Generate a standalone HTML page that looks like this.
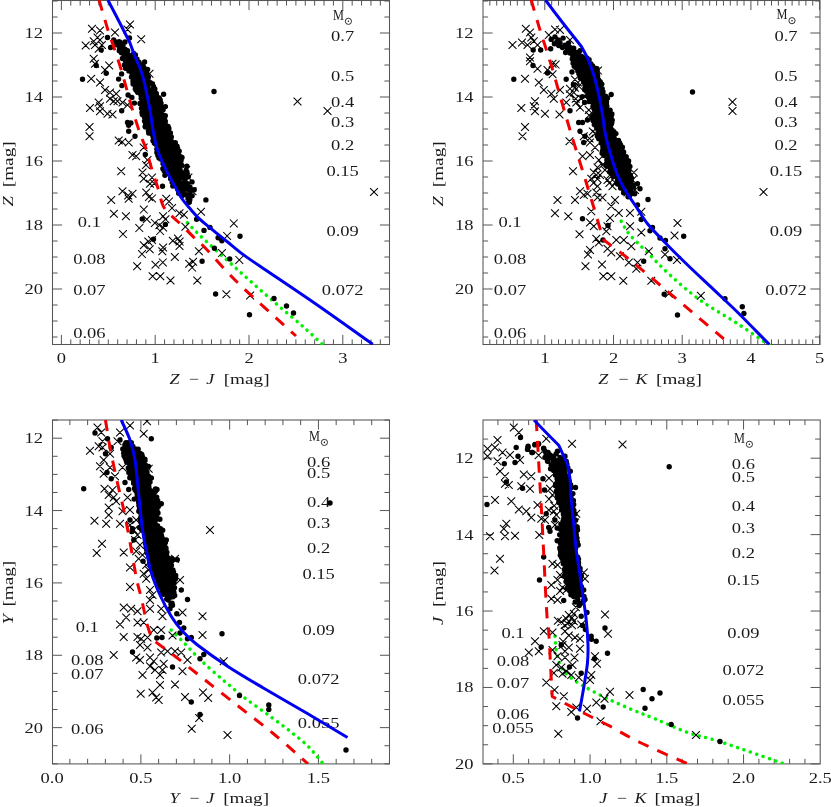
<!DOCTYPE html>
<html><head><meta charset="utf-8"><title>CMD</title><style>html,body{margin:0;padding:0;background:#fff}svg{display:block}</style></head><body>
<svg width="831" height="807" viewBox="0 0 831 807" font-family="'Liberation Serif', serif" fill="#1a1a1a">
<defs><filter id="gs" x="0" y="0" width="100%" height="100%" filterUnits="userSpaceOnUse" color-interpolation-filters="sRGB"><feColorMatrix type="saturate" values="0"/></filter></defs>
<rect width="831" height="807" fill="#fff"/>
<g>
<clipPath id="c0"><rect x="52.50" y="0.50" width="337.00" height="344.00"/></clipPath>
<path d="M61.40 344.50v-9.60M61.40 0.50v9.60M70.78 344.50v-5.10M70.78 0.50v5.10M80.16 344.50v-5.10M80.16 0.50v5.10M89.54 344.50v-5.10M89.54 0.50v5.10M98.92 344.50v-5.10M98.92 0.50v5.10M108.30 344.50v-5.10M108.30 0.50v5.10M117.68 344.50v-5.10M117.68 0.50v5.10M127.06 344.50v-5.10M127.06 0.50v5.10M136.44 344.50v-5.10M136.44 0.50v5.10M145.82 344.50v-5.10M145.82 0.50v5.10M155.20 344.50v-9.60M155.20 0.50v9.60M164.58 344.50v-5.10M164.58 0.50v5.10M173.96 344.50v-5.10M173.96 0.50v5.10M183.34 344.50v-5.10M183.34 0.50v5.10M192.72 344.50v-5.10M192.72 0.50v5.10M202.10 344.50v-5.10M202.10 0.50v5.10M211.48 344.50v-5.10M211.48 0.50v5.10M220.86 344.50v-5.10M220.86 0.50v5.10M230.24 344.50v-5.10M230.24 0.50v5.10M239.62 344.50v-5.10M239.62 0.50v5.10M249.00 344.50v-9.60M249.00 0.50v9.60M258.38 344.50v-5.10M258.38 0.50v5.10M267.76 344.50v-5.10M267.76 0.50v5.10M277.14 344.50v-5.10M277.14 0.50v5.10M286.52 344.50v-5.10M286.52 0.50v5.10M295.90 344.50v-5.10M295.90 0.50v5.10M305.28 344.50v-5.10M305.28 0.50v5.10M314.66 344.50v-5.10M314.66 0.50v5.10M324.04 344.50v-5.10M324.04 0.50v5.10M333.42 344.50v-5.10M333.42 0.50v5.10M342.80 344.50v-9.60M342.80 0.50v9.60M352.18 344.50v-5.10M352.18 0.50v5.10M361.56 344.50v-5.10M361.56 0.50v5.10M370.94 344.50v-5.10M370.94 0.50v5.10M380.32 344.50v-5.10M380.32 0.50v5.10M52.50 1.00h5.10M389.50 1.00h-5.10M52.50 17.00h5.10M389.50 17.00h-5.10M52.50 33.00h9.60M389.50 33.00h-9.60M52.50 49.00h5.10M389.50 49.00h-5.10M52.50 65.00h5.10M389.50 65.00h-5.10M52.50 81.00h5.10M389.50 81.00h-5.10M52.50 97.00h9.60M389.50 97.00h-9.60M52.50 113.00h5.10M389.50 113.00h-5.10M52.50 129.00h5.10M389.50 129.00h-5.10M52.50 145.00h5.10M389.50 145.00h-5.10M52.50 161.00h9.60M389.50 161.00h-9.60M52.50 177.00h5.10M389.50 177.00h-5.10M52.50 193.00h5.10M389.50 193.00h-5.10M52.50 209.00h5.10M389.50 209.00h-5.10M52.50 225.00h9.60M389.50 225.00h-9.60M52.50 241.00h5.10M389.50 241.00h-5.10M52.50 257.00h5.10M389.50 257.00h-5.10M52.50 273.00h5.10M389.50 273.00h-5.10M52.50 289.00h9.60M389.50 289.00h-9.60M52.50 305.00h5.10M389.50 305.00h-5.10M52.50 321.00h5.10M389.50 321.00h-5.10M52.50 337.00h5.10M389.50 337.00h-5.10" stroke="#555" stroke-width="1" fill="none"/>
<rect x="52.50" y="0.50" width="337.00" height="344.00" fill="none" stroke="#555" stroke-width="1.05"/>
<g filter="url(#gs)">
<text transform="translate(61.40 363.30) scale(1.235 1)" text-anchor="middle" font-size="15" >0</text>
<text transform="translate(155.20 363.30) scale(1.235 1)" text-anchor="middle" font-size="15" >1</text>
<text transform="translate(249.00 363.30) scale(1.235 1)" text-anchor="middle" font-size="15" >2</text>
<text transform="translate(342.80 363.30) scale(1.235 1)" text-anchor="middle" font-size="15" >3</text>
<text transform="translate(43.10 38.00) scale(1.235 1)" text-anchor="end" font-size="15" >12</text>
<text transform="translate(43.10 102.00) scale(1.235 1)" text-anchor="end" font-size="15" >14</text>
<text transform="translate(43.10 166.00) scale(1.235 1)" text-anchor="end" font-size="15" >16</text>
<text transform="translate(43.10 230.00) scale(1.235 1)" text-anchor="end" font-size="15" >18</text>
<text transform="translate(43.10 294.00) scale(1.235 1)" text-anchor="end" font-size="15" >20</text>
<text transform="translate(342.60 40.50) scale(1.235 1)" text-anchor="middle" font-size="15" >0.7</text>
<text transform="translate(342.60 81.00) scale(1.235 1)" text-anchor="middle" font-size="15" >0.5</text>
<text transform="translate(342.60 107.00) scale(1.235 1)" text-anchor="middle" font-size="15" >0.4</text>
<text transform="translate(342.60 127.30) scale(1.235 1)" text-anchor="middle" font-size="15" >0.3</text>
<text transform="translate(342.60 150.00) scale(1.235 1)" text-anchor="middle" font-size="15" >0.2</text>
<text transform="translate(342.60 176.00) scale(1.235 1)" text-anchor="middle" font-size="15" >0.15</text>
<text transform="translate(342.60 236.00) scale(1.235 1)" text-anchor="middle" font-size="15" >0.09</text>
<text transform="translate(342.60 295.00) scale(1.235 1)" text-anchor="middle" font-size="15" >0.072</text>
<text transform="translate(89.40 226.50) scale(1.235 1)" text-anchor="middle" font-size="15" >0.1</text>
<text transform="translate(89.40 263.60) scale(1.235 1)" text-anchor="middle" font-size="15" >0.08</text>
<text transform="translate(89.40 294.50) scale(1.235 1)" text-anchor="middle" font-size="15" >0.07</text>
<text transform="translate(89.40 337.50) scale(1.235 1)" text-anchor="middle" font-size="15" >0.06</text>
<text transform="translate(333.00 19.50) scale(0.8 1)" font-size="15.4">M</text>
<circle cx="348.40" cy="21.30" r="3.1" fill="none" stroke="#1a1a1a" stroke-width="0.9"/>
<circle cx="348.40" cy="21.30" r="0.8" fill="#1a1a1a"/>
<text transform="translate(169.5 384.0) scale(1.2 1)" font-size="15" font-style="italic">Z</text><text transform="translate(188.7 384.0) scale(1.2 1)" font-size="15">&#8722;</text><text transform="translate(206.3 384.0) scale(1.2 1)" font-size="15" font-style="italic">J</text><text transform="translate(223.7 384.0) scale(1.28 1)" font-size="15">[mag]</text>
<text transform="translate(13.0 206.5) rotate(-90) scale(1.2 1)" font-size="15.5" font-style="italic">Z</text><text transform="translate(13.0 187.2) rotate(-90) scale(1.28 1)" font-size="15">[mag]</text>
</g>
<g clip-path="url(#c0)">
<path d="M187.3 222.7 C189.4 224.8 193.6 229.4 200.0 235.5 C206.4 241.6 217.3 251.4 226.0 259.2 C234.7 267.0 243.2 274.8 251.9 282.5 C260.6 290.2 269.2 297.7 277.9 305.2 C286.6 312.7 296.5 320.8 303.9 327.3 C311.3 333.9 319.4 341.6 322.5 344.5" fill="none" stroke="#00f000" stroke-width="3.5" stroke-linejoin="round" stroke-linecap="round" stroke-dasharray="0.1 6.6"/>
<path d="M88.1 24.9l7.8 7.8M88.1 32.6l7.8 -7.8M96.1 26.6l7.8 7.8M96.1 34.4l7.8 -7.8M126.1 20.6l7.8 7.8M126.1 28.4l7.8 -7.8M123.6 25.6l7.8 7.8M123.6 33.4l7.8 -7.8M111.1 28.6l7.8 7.8M111.1 36.4l7.8 -7.8M137.3 35.4l7.8 7.8M137.3 43.1l7.8 -7.8M93.6 33.6l7.8 7.8M93.6 41.4l7.8 -7.8M89.8 37.4l7.8 7.8M89.8 45.1l7.8 -7.8M81.8 41.6l7.8 7.8M81.8 49.4l7.8 -7.8M91.1 41.1l7.8 7.8M91.1 48.9l7.8 -7.8M94.8 44.9l7.8 7.8M94.8 52.6l7.8 -7.8M89.8 54.9l7.8 7.8M89.8 62.6l7.8 -7.8M91.1 59.9l7.8 7.8M91.1 67.7l7.8 -7.8M105.3 61.6l7.8 7.8M105.3 69.4l7.8 -7.8M101.1 66.1l7.8 7.8M101.1 73.9l7.8 -7.8M87.3 74.8l7.8 7.8M87.3 82.7l7.8 -7.8M96.1 78.6l7.8 7.8M96.1 86.4l7.8 -7.8M101.1 86.1l7.8 7.8M101.1 93.9l7.8 -7.8M106.1 88.6l7.8 7.8M106.1 96.4l7.8 -7.8M112.3 89.8l7.8 7.8M112.3 97.7l7.8 -7.8M106.1 94.8l7.8 7.8M106.1 102.7l7.8 -7.8M109.8 97.3l7.8 7.8M109.8 105.2l7.8 -7.8M113.6 97.3l7.8 7.8M113.6 105.2l7.8 -7.8M94.8 98.6l7.8 7.8M94.8 106.4l7.8 -7.8M86.1 104.1l7.8 7.8M86.1 111.9l7.8 -7.8M96.1 102.3l7.8 7.8M96.1 110.2l7.8 -7.8M96.1 107.3l7.8 7.8M96.1 115.2l7.8 -7.8M103.6 109.8l7.8 7.8M103.6 117.7l7.8 -7.8M108.6 110.6l7.8 7.8M108.6 118.4l7.8 -7.8M145.6 69.8l7.8 7.8M145.6 77.7l7.8 -7.8M85.6 123.1l7.8 7.8M85.6 130.9l7.8 -7.8M85.6 132.3l7.8 7.8M85.6 140.2l7.8 -7.8M114.8 136.6l7.8 7.8M114.8 144.4l7.8 -7.8M124.8 138.6l7.8 7.8M124.8 146.4l7.8 -7.8M128.6 151.1l7.8 7.8M128.6 158.9l7.8 -7.8M132.3 152.3l7.8 7.8M132.3 160.2l7.8 -7.8M139.8 143.6l7.8 7.8M139.8 151.4l7.8 -7.8M143.6 156.1l7.8 7.8M143.6 163.9l7.8 -7.8M117.3 167.3l7.8 7.8M117.3 175.2l7.8 -7.8M138.6 168.6l7.8 7.8M138.6 176.4l7.8 -7.8M139.8 174.8l7.8 7.8M139.8 182.7l7.8 -7.8M146.1 179.8l7.8 7.8M146.1 187.7l7.8 -7.8M118.6 187.3l7.8 7.8M118.6 195.2l7.8 -7.8M128.6 189.8l7.8 7.8M128.6 197.7l7.8 -7.8M142.3 188.6l7.8 7.8M142.3 196.4l7.8 -7.8M124.8 194.8l7.8 7.8M124.8 202.7l7.8 -7.8M107.3 196.1l7.8 7.8M107.3 203.9l7.8 -7.8M162.3 194.8l7.8 7.8M162.3 202.7l7.8 -7.8M188.6 187.3l7.8 7.8M188.6 195.2l7.8 -7.8M118.3 138.0l7.8 7.8M118.3 145.8l7.8 -7.8M142.1 161.0l7.8 7.8M142.1 168.8l7.8 -7.8M148.1 173.7l7.8 7.8M148.1 181.5l7.8 -7.8M150.3 179.6l7.8 7.8M150.3 187.4l7.8 -7.8M124.3 191.5l7.8 7.8M124.3 199.3l7.8 -7.8M145.1 193.0l7.8 7.8M145.1 200.8l7.8 -7.8M148.1 194.5l7.8 7.8M148.1 202.3l7.8 -7.8M165.2 197.5l7.8 7.8M165.2 205.3l7.8 -7.8M139.9 205.7l7.8 7.8M139.9 213.5l7.8 -7.8M122.0 212.3l7.8 7.8M122.0 220.1l7.8 -7.8M168.1 204.2l7.8 7.8M168.1 212.0l7.8 -7.8M175.6 209.4l7.8 7.8M175.6 217.2l7.8 -7.8M180.0 210.9l7.8 7.8M180.0 218.7l7.8 -7.8M197.1 207.9l7.8 7.8M197.1 215.7l7.8 -7.8M229.9 219.5l7.8 7.8M229.9 227.3l7.8 -7.8M159.2 212.3l7.8 7.8M159.2 220.1l7.8 -7.8M161.5 215.3l7.8 7.8M161.5 223.1l7.8 -7.8M142.9 215.3l7.8 7.8M142.9 223.1l7.8 -7.8M151.0 219.0l7.8 7.8M151.0 226.8l7.8 -7.8M155.5 221.3l7.8 7.8M155.5 229.1l7.8 -7.8M159.2 223.5l7.8 7.8M159.2 231.3l7.8 -7.8M135.4 224.2l7.8 7.8M135.4 232.0l7.8 -7.8M156.2 227.2l7.8 7.8M156.2 235.0l7.8 -7.8M181.5 222.8l7.8 7.8M181.5 230.6l7.8 -7.8M119.1 230.2l7.8 7.8M119.1 238.0l7.8 -7.8M223.2 232.0l7.8 7.8M223.2 239.8l7.8 -7.8M174.1 234.7l7.8 7.8M174.1 242.5l7.8 -7.8M168.9 236.9l7.8 7.8M168.9 244.7l7.8 -7.8M148.1 236.1l7.8 7.8M148.1 243.9l7.8 -7.8M144.4 237.6l7.8 7.8M144.4 245.4l7.8 -7.8M139.9 241.3l7.8 7.8M139.9 249.1l7.8 -7.8M175.6 242.1l7.8 7.8M175.6 249.9l7.8 -7.8M159.2 243.6l7.8 7.8M159.2 251.4l7.8 -7.8M184.5 173.7l7.8 7.8M184.5 181.5l7.8 -7.8M182.3 166.2l7.8 7.8M182.3 174.0l7.8 -7.8M145.8 245.4l7.8 7.8M145.8 253.2l7.8 -7.8M138.1 250.2l7.8 7.8M138.1 258.0l7.8 -7.8M175.7 237.7l7.8 7.8M175.7 245.5l7.8 -7.8M158.4 247.3l7.8 7.8M158.4 255.1l7.8 -7.8M170.9 253.1l7.8 7.8M170.9 260.9l7.8 -7.8M195.0 247.3l7.8 7.8M195.0 255.1l7.8 -7.8M133.3 262.3l7.8 7.8M133.3 270.1l7.8 -7.8M151.6 260.8l7.8 7.8M151.6 268.6l7.8 -7.8M158.9 258.5l7.8 7.8M158.9 266.3l7.8 -7.8M185.3 259.8l7.8 7.8M185.3 267.6l7.8 -7.8M189.2 257.9l7.8 7.8M189.2 265.7l7.8 -7.8M188.2 263.7l7.8 7.8M188.2 271.5l7.8 -7.8M148.7 272.3l7.8 7.8M148.7 280.1l7.8 -7.8M156.4 272.3l7.8 7.8M156.4 280.1l7.8 -7.8M166.6 276.6l7.8 7.8M166.6 284.4l7.8 -7.8M193.4 276.6l7.8 7.8M193.4 284.4l7.8 -7.8M222.5 290.3l7.8 7.8M222.5 298.1l7.8 -7.8M218.1 249.2l7.8 7.8M218.1 257.0l7.8 -7.8M235.4 256.0l7.8 7.8M235.4 263.8l7.8 -7.8M246.2 291.6l7.8 7.8M246.2 299.4l7.8 -7.8M96.1 36.1l7.8 7.8M96.1 43.9l7.8 -7.8M98.0 41.1l7.8 7.8M98.0 48.9l7.8 -7.8M118.6 98.6l7.8 7.8M118.6 106.4l7.8 -7.8M123.6 101.1l7.8 7.8M123.6 108.9l7.8 -7.8M293.6 97.6l7.8 7.8M293.6 105.4l7.8 -7.8M323.6 107.1l7.8 7.8M323.6 114.9l7.8 -7.8M370.1 188.1l7.8 7.8M370.1 195.9l7.8 -7.8M110.0 209.8l7.8 7.8M110.0 217.6l7.8 -7.8" stroke="#000" stroke-width="1.05" fill="none"/>
<path d="M79.8 79.2a2.7 2.7 0 1 0 5.4 0a2.7 2.7 0 1 0 -5.4 0M104.8 37.5a2.7 2.7 0 1 0 5.4 0a2.7 2.7 0 1 0 -5.4 0M111.0 40.0a2.7 2.7 0 1 0 5.4 0a2.7 2.7 0 1 0 -5.4 0M98.5 50.0a2.7 2.7 0 1 0 5.4 0a2.7 2.7 0 1 0 -5.4 0M93.5 65.5a2.7 2.7 0 1 0 5.4 0a2.7 2.7 0 1 0 -5.4 0M103.5 73.2a2.7 2.7 0 1 0 5.4 0a2.7 2.7 0 1 0 -5.4 0M119.0 110.8a2.7 2.7 0 1 0 5.4 0a2.7 2.7 0 1 0 -5.4 0M124.8 122.5a2.7 2.7 0 1 0 5.4 0a2.7 2.7 0 1 0 -5.4 0M126.0 131.2a2.7 2.7 0 1 0 5.4 0a2.7 2.7 0 1 0 -5.4 0M132.3 136.2a2.7 2.7 0 1 0 5.4 0a2.7 2.7 0 1 0 -5.4 0M159.8 186.2a2.7 2.7 0 1 0 5.4 0a2.7 2.7 0 1 0 -5.4 0M203.2 199.9a2.7 2.7 0 1 0 5.4 0a2.7 2.7 0 1 0 -5.4 0M139.6 218.9a2.7 2.7 0 1 0 5.4 0a2.7 2.7 0 1 0 -5.4 0M162.7 224.4a2.7 2.7 0 1 0 5.4 0a2.7 2.7 0 1 0 -5.4 0M193.9 219.2a2.7 2.7 0 1 0 5.4 0a2.7 2.7 0 1 0 -5.4 0M201.3 230.4a2.7 2.7 0 1 0 5.4 0a2.7 2.7 0 1 0 -5.4 0M207.3 227.4a2.7 2.7 0 1 0 5.4 0a2.7 2.7 0 1 0 -5.4 0M150.8 239.3a2.7 2.7 0 1 0 5.4 0a2.7 2.7 0 1 0 -5.4 0M215.4 237.8a2.7 2.7 0 1 0 5.4 0a2.7 2.7 0 1 0 -5.4 0M219.2 240.8a2.7 2.7 0 1 0 5.4 0a2.7 2.7 0 1 0 -5.4 0M211.7 248.2a2.7 2.7 0 1 0 5.4 0a2.7 2.7 0 1 0 -5.4 0M237.3 236.3a2.7 2.7 0 1 0 5.4 0a2.7 2.7 0 1 0 -5.4 0M142.6 154.5a2.7 2.7 0 1 0 5.4 0a2.7 2.7 0 1 0 -5.4 0M227.0 258.9a2.7 2.7 0 1 0 5.4 0a2.7 2.7 0 1 0 -5.4 0M199.4 261.2a2.7 2.7 0 1 0 5.4 0a2.7 2.7 0 1 0 -5.4 0M212.9 294.0a2.7 2.7 0 1 0 5.4 0a2.7 2.7 0 1 0 -5.4 0M246.8 314.8a2.7 2.7 0 1 0 5.4 0a2.7 2.7 0 1 0 -5.4 0M107.9 47.5a2.7 2.7 0 1 0 5.4 0a2.7 2.7 0 1 0 -5.4 0M119.2 85.6a2.7 2.7 0 1 0 5.4 0a2.7 2.7 0 1 0 -5.4 0M125.4 95.0a2.7 2.7 0 1 0 5.4 0a2.7 2.7 0 1 0 -5.4 0M129.2 97.5a2.7 2.7 0 1 0 5.4 0a2.7 2.7 0 1 0 -5.4 0M131.7 103.1a2.7 2.7 0 1 0 5.4 0a2.7 2.7 0 1 0 -5.4 0M116.8 43.5a2.7 2.7 0 1 0 5.4 0a2.7 2.7 0 1 0 -5.4 0M122.3 42.0a2.7 2.7 0 1 0 5.4 0a2.7 2.7 0 1 0 -5.4 0M126.8 38.0a2.7 2.7 0 1 0 5.4 0a2.7 2.7 0 1 0 -5.4 0M211.3 91.5a2.7 2.7 0 1 0 5.4 0a2.7 2.7 0 1 0 -5.4 0M271.3 298.5a2.7 2.7 0 1 0 5.4 0a2.7 2.7 0 1 0 -5.4 0M283.8 306.0a2.7 2.7 0 1 0 5.4 0a2.7 2.7 0 1 0 -5.4 0M290.8 313.0a2.7 2.7 0 1 0 5.4 0a2.7 2.7 0 1 0 -5.4 0M160.9 94.2a2.7 2.7 0 1 0 5.4 0a2.7 2.7 0 1 0 -5.4 0M157.5 99.9a2.7 2.7 0 1 0 5.4 0a2.7 2.7 0 1 0 -5.4 0M162.7 106.6a2.7 2.7 0 1 0 5.4 0a2.7 2.7 0 1 0 -5.4 0M141.9 62.0a2.7 2.7 0 1 0 5.4 0a2.7 2.7 0 1 0 -5.4 0M144.9 69.4a2.7 2.7 0 1 0 5.4 0a2.7 2.7 0 1 0 -5.4 0M118.9 73.9a2.7 2.7 0 1 0 5.4 0a2.7 2.7 0 1 0 -5.4 0M115.9 79.1a2.7 2.7 0 1 0 5.4 0a2.7 2.7 0 1 0 -5.4 0M125.9 125.2a2.7 2.7 0 1 0 5.4 0a2.7 2.7 0 1 0 -5.4 0M128.2 122.9a2.7 2.7 0 1 0 5.4 0a2.7 2.7 0 1 0 -5.4 0" fill="#000"/>
<path d="M116.4 41.8a2.7 2.7 0 1 0 5.4 0a2.7 2.7 0 1 0 -5.4 0M117.3 42.1a2.7 2.7 0 1 0 5.4 0a2.7 2.7 0 1 0 -5.4 0M114.0 42.2a2.7 2.7 0 1 0 5.4 0a2.7 2.7 0 1 0 -5.4 0M114.0 44.7a2.7 2.7 0 1 0 5.4 0a2.7 2.7 0 1 0 -5.4 0M117.5 42.7a2.7 2.7 0 1 0 5.4 0a2.7 2.7 0 1 0 -5.4 0M120.3 45.1a2.7 2.7 0 1 0 5.4 0a2.7 2.7 0 1 0 -5.4 0M115.5 44.8a2.7 2.7 0 1 0 5.4 0a2.7 2.7 0 1 0 -5.4 0M116.6 45.2a2.7 2.7 0 1 0 5.4 0a2.7 2.7 0 1 0 -5.4 0M118.2 45.8a2.7 2.7 0 1 0 5.4 0a2.7 2.7 0 1 0 -5.4 0M117.0 48.3a2.7 2.7 0 1 0 5.4 0a2.7 2.7 0 1 0 -5.4 0M118.9 47.3a2.7 2.7 0 1 0 5.4 0a2.7 2.7 0 1 0 -5.4 0M122.3 49.2a2.7 2.7 0 1 0 5.4 0a2.7 2.7 0 1 0 -5.4 0M117.1 48.8a2.7 2.7 0 1 0 5.4 0a2.7 2.7 0 1 0 -5.4 0M120.4 49.6a2.7 2.7 0 1 0 5.4 0a2.7 2.7 0 1 0 -5.4 0M122.6 49.6a2.7 2.7 0 1 0 5.4 0a2.7 2.7 0 1 0 -5.4 0M124.9 50.8a2.7 2.7 0 1 0 5.4 0a2.7 2.7 0 1 0 -5.4 0M116.6 50.7a2.7 2.7 0 1 0 5.4 0a2.7 2.7 0 1 0 -5.4 0M119.2 52.2a2.7 2.7 0 1 0 5.4 0a2.7 2.7 0 1 0 -5.4 0M123.0 51.3a2.7 2.7 0 1 0 5.4 0a2.7 2.7 0 1 0 -5.4 0M123.2 51.5a2.7 2.7 0 1 0 5.4 0a2.7 2.7 0 1 0 -5.4 0M118.7 52.8a2.7 2.7 0 1 0 5.4 0a2.7 2.7 0 1 0 -5.4 0M122.5 53.1a2.7 2.7 0 1 0 5.4 0a2.7 2.7 0 1 0 -5.4 0M123.9 53.8a2.7 2.7 0 1 0 5.4 0a2.7 2.7 0 1 0 -5.4 0M124.9 54.5a2.7 2.7 0 1 0 5.4 0a2.7 2.7 0 1 0 -5.4 0M119.3 53.1a2.7 2.7 0 1 0 5.4 0a2.7 2.7 0 1 0 -5.4 0M131.0 53.4a2.7 2.7 0 1 0 5.4 0a2.7 2.7 0 1 0 -5.4 0M121.6 56.9a2.7 2.7 0 1 0 5.4 0a2.7 2.7 0 1 0 -5.4 0M123.3 55.6a2.7 2.7 0 1 0 5.4 0a2.7 2.7 0 1 0 -5.4 0M127.0 56.3a2.7 2.7 0 1 0 5.4 0a2.7 2.7 0 1 0 -5.4 0M127.0 57.2a2.7 2.7 0 1 0 5.4 0a2.7 2.7 0 1 0 -5.4 0M129.3 55.3a2.7 2.7 0 1 0 5.4 0a2.7 2.7 0 1 0 -5.4 0M132.7 55.0a2.7 2.7 0 1 0 5.4 0a2.7 2.7 0 1 0 -5.4 0M120.7 58.2a2.7 2.7 0 1 0 5.4 0a2.7 2.7 0 1 0 -5.4 0M123.0 57.8a2.7 2.7 0 1 0 5.4 0a2.7 2.7 0 1 0 -5.4 0M126.5 57.9a2.7 2.7 0 1 0 5.4 0a2.7 2.7 0 1 0 -5.4 0M127.5 58.9a2.7 2.7 0 1 0 5.4 0a2.7 2.7 0 1 0 -5.4 0M128.5 57.0a2.7 2.7 0 1 0 5.4 0a2.7 2.7 0 1 0 -5.4 0M132.4 58.7a2.7 2.7 0 1 0 5.4 0a2.7 2.7 0 1 0 -5.4 0M119.7 58.4a2.7 2.7 0 1 0 5.4 0a2.7 2.7 0 1 0 -5.4 0M122.5 60.2a2.7 2.7 0 1 0 5.4 0a2.7 2.7 0 1 0 -5.4 0M123.3 58.9a2.7 2.7 0 1 0 5.4 0a2.7 2.7 0 1 0 -5.4 0M124.3 61.1a2.7 2.7 0 1 0 5.4 0a2.7 2.7 0 1 0 -5.4 0M126.8 60.4a2.7 2.7 0 1 0 5.4 0a2.7 2.7 0 1 0 -5.4 0M128.8 60.7a2.7 2.7 0 1 0 5.4 0a2.7 2.7 0 1 0 -5.4 0M131.7 59.4a2.7 2.7 0 1 0 5.4 0a2.7 2.7 0 1 0 -5.4 0M132.6 60.5a2.7 2.7 0 1 0 5.4 0a2.7 2.7 0 1 0 -5.4 0M134.3 59.2a2.7 2.7 0 1 0 5.4 0a2.7 2.7 0 1 0 -5.4 0M124.1 61.1a2.7 2.7 0 1 0 5.4 0a2.7 2.7 0 1 0 -5.4 0M123.8 61.3a2.7 2.7 0 1 0 5.4 0a2.7 2.7 0 1 0 -5.4 0M126.9 60.8a2.7 2.7 0 1 0 5.4 0a2.7 2.7 0 1 0 -5.4 0M128.2 61.6a2.7 2.7 0 1 0 5.4 0a2.7 2.7 0 1 0 -5.4 0M131.2 60.9a2.7 2.7 0 1 0 5.4 0a2.7 2.7 0 1 0 -5.4 0M132.7 62.9a2.7 2.7 0 1 0 5.4 0a2.7 2.7 0 1 0 -5.4 0M136.3 62.3a2.7 2.7 0 1 0 5.4 0a2.7 2.7 0 1 0 -5.4 0M121.7 65.0a2.7 2.7 0 1 0 5.4 0a2.7 2.7 0 1 0 -5.4 0M125.5 65.1a2.7 2.7 0 1 0 5.4 0a2.7 2.7 0 1 0 -5.4 0M125.7 64.3a2.7 2.7 0 1 0 5.4 0a2.7 2.7 0 1 0 -5.4 0M128.9 64.5a2.7 2.7 0 1 0 5.4 0a2.7 2.7 0 1 0 -5.4 0M130.5 65.2a2.7 2.7 0 1 0 5.4 0a2.7 2.7 0 1 0 -5.4 0M131.8 64.0a2.7 2.7 0 1 0 5.4 0a2.7 2.7 0 1 0 -5.4 0M135.6 64.9a2.7 2.7 0 1 0 5.4 0a2.7 2.7 0 1 0 -5.4 0M137.6 64.4a2.7 2.7 0 1 0 5.4 0a2.7 2.7 0 1 0 -5.4 0M124.9 66.9a2.7 2.7 0 1 0 5.4 0a2.7 2.7 0 1 0 -5.4 0M125.7 66.7a2.7 2.7 0 1 0 5.4 0a2.7 2.7 0 1 0 -5.4 0M128.8 66.1a2.7 2.7 0 1 0 5.4 0a2.7 2.7 0 1 0 -5.4 0M130.2 65.6a2.7 2.7 0 1 0 5.4 0a2.7 2.7 0 1 0 -5.4 0M132.1 66.2a2.7 2.7 0 1 0 5.4 0a2.7 2.7 0 1 0 -5.4 0M132.8 66.3a2.7 2.7 0 1 0 5.4 0a2.7 2.7 0 1 0 -5.4 0M137.2 66.9a2.7 2.7 0 1 0 5.4 0a2.7 2.7 0 1 0 -5.4 0M138.5 65.6a2.7 2.7 0 1 0 5.4 0a2.7 2.7 0 1 0 -5.4 0M140.5 66.1a2.7 2.7 0 1 0 5.4 0a2.7 2.7 0 1 0 -5.4 0M122.8 68.2a2.7 2.7 0 1 0 5.4 0a2.7 2.7 0 1 0 -5.4 0M126.0 67.2a2.7 2.7 0 1 0 5.4 0a2.7 2.7 0 1 0 -5.4 0M128.6 67.9a2.7 2.7 0 1 0 5.4 0a2.7 2.7 0 1 0 -5.4 0M130.4 69.0a2.7 2.7 0 1 0 5.4 0a2.7 2.7 0 1 0 -5.4 0M131.4 66.6a2.7 2.7 0 1 0 5.4 0a2.7 2.7 0 1 0 -5.4 0M133.5 68.4a2.7 2.7 0 1 0 5.4 0a2.7 2.7 0 1 0 -5.4 0M135.3 67.0a2.7 2.7 0 1 0 5.4 0a2.7 2.7 0 1 0 -5.4 0M139.1 68.3a2.7 2.7 0 1 0 5.4 0a2.7 2.7 0 1 0 -5.4 0M139.9 68.9a2.7 2.7 0 1 0 5.4 0a2.7 2.7 0 1 0 -5.4 0M141.6 68.3a2.7 2.7 0 1 0 5.4 0a2.7 2.7 0 1 0 -5.4 0M124.3 68.5a2.7 2.7 0 1 0 5.4 0a2.7 2.7 0 1 0 -5.4 0M127.0 69.4a2.7 2.7 0 1 0 5.4 0a2.7 2.7 0 1 0 -5.4 0M127.8 69.9a2.7 2.7 0 1 0 5.4 0a2.7 2.7 0 1 0 -5.4 0M131.6 70.8a2.7 2.7 0 1 0 5.4 0a2.7 2.7 0 1 0 -5.4 0M133.3 71.1a2.7 2.7 0 1 0 5.4 0a2.7 2.7 0 1 0 -5.4 0M134.2 69.0a2.7 2.7 0 1 0 5.4 0a2.7 2.7 0 1 0 -5.4 0M136.6 69.3a2.7 2.7 0 1 0 5.4 0a2.7 2.7 0 1 0 -5.4 0M138.0 69.7a2.7 2.7 0 1 0 5.4 0a2.7 2.7 0 1 0 -5.4 0M141.1 69.9a2.7 2.7 0 1 0 5.4 0a2.7 2.7 0 1 0 -5.4 0M126.2 70.9a2.7 2.7 0 1 0 5.4 0a2.7 2.7 0 1 0 -5.4 0M127.4 70.7a2.7 2.7 0 1 0 5.4 0a2.7 2.7 0 1 0 -5.4 0M129.0 72.1a2.7 2.7 0 1 0 5.4 0a2.7 2.7 0 1 0 -5.4 0M130.0 72.7a2.7 2.7 0 1 0 5.4 0a2.7 2.7 0 1 0 -5.4 0M131.2 71.0a2.7 2.7 0 1 0 5.4 0a2.7 2.7 0 1 0 -5.4 0M134.3 70.7a2.7 2.7 0 1 0 5.4 0a2.7 2.7 0 1 0 -5.4 0M137.3 71.2a2.7 2.7 0 1 0 5.4 0a2.7 2.7 0 1 0 -5.4 0M137.5 70.7a2.7 2.7 0 1 0 5.4 0a2.7 2.7 0 1 0 -5.4 0M140.8 71.8a2.7 2.7 0 1 0 5.4 0a2.7 2.7 0 1 0 -5.4 0M129.2 73.1a2.7 2.7 0 1 0 5.4 0a2.7 2.7 0 1 0 -5.4 0M130.6 73.1a2.7 2.7 0 1 0 5.4 0a2.7 2.7 0 1 0 -5.4 0M131.4 73.8a2.7 2.7 0 1 0 5.4 0a2.7 2.7 0 1 0 -5.4 0M135.3 73.1a2.7 2.7 0 1 0 5.4 0a2.7 2.7 0 1 0 -5.4 0M136.1 73.5a2.7 2.7 0 1 0 5.4 0a2.7 2.7 0 1 0 -5.4 0M139.2 74.0a2.7 2.7 0 1 0 5.4 0a2.7 2.7 0 1 0 -5.4 0M141.0 74.6a2.7 2.7 0 1 0 5.4 0a2.7 2.7 0 1 0 -5.4 0M142.4 74.7a2.7 2.7 0 1 0 5.4 0a2.7 2.7 0 1 0 -5.4 0M144.5 74.3a2.7 2.7 0 1 0 5.4 0a2.7 2.7 0 1 0 -5.4 0M128.8 77.0a2.7 2.7 0 1 0 5.4 0a2.7 2.7 0 1 0 -5.4 0M130.2 76.1a2.7 2.7 0 1 0 5.4 0a2.7 2.7 0 1 0 -5.4 0M133.5 76.7a2.7 2.7 0 1 0 5.4 0a2.7 2.7 0 1 0 -5.4 0M135.6 75.8a2.7 2.7 0 1 0 5.4 0a2.7 2.7 0 1 0 -5.4 0M136.9 75.1a2.7 2.7 0 1 0 5.4 0a2.7 2.7 0 1 0 -5.4 0M139.1 76.7a2.7 2.7 0 1 0 5.4 0a2.7 2.7 0 1 0 -5.4 0M140.9 76.5a2.7 2.7 0 1 0 5.4 0a2.7 2.7 0 1 0 -5.4 0M141.7 76.9a2.7 2.7 0 1 0 5.4 0a2.7 2.7 0 1 0 -5.4 0M145.7 77.1a2.7 2.7 0 1 0 5.4 0a2.7 2.7 0 1 0 -5.4 0M130.2 77.5a2.7 2.7 0 1 0 5.4 0a2.7 2.7 0 1 0 -5.4 0M130.1 77.7a2.7 2.7 0 1 0 5.4 0a2.7 2.7 0 1 0 -5.4 0M133.4 78.6a2.7 2.7 0 1 0 5.4 0a2.7 2.7 0 1 0 -5.4 0M135.2 76.7a2.7 2.7 0 1 0 5.4 0a2.7 2.7 0 1 0 -5.4 0M138.0 76.8a2.7 2.7 0 1 0 5.4 0a2.7 2.7 0 1 0 -5.4 0M140.0 77.0a2.7 2.7 0 1 0 5.4 0a2.7 2.7 0 1 0 -5.4 0M140.8 78.6a2.7 2.7 0 1 0 5.4 0a2.7 2.7 0 1 0 -5.4 0M142.3 77.0a2.7 2.7 0 1 0 5.4 0a2.7 2.7 0 1 0 -5.4 0M145.3 78.5a2.7 2.7 0 1 0 5.4 0a2.7 2.7 0 1 0 -5.4 0M132.8 78.8a2.7 2.7 0 1 0 5.4 0a2.7 2.7 0 1 0 -5.4 0M132.9 80.0a2.7 2.7 0 1 0 5.4 0a2.7 2.7 0 1 0 -5.4 0M135.1 80.5a2.7 2.7 0 1 0 5.4 0a2.7 2.7 0 1 0 -5.4 0M138.0 80.0a2.7 2.7 0 1 0 5.4 0a2.7 2.7 0 1 0 -5.4 0M140.6 80.1a2.7 2.7 0 1 0 5.4 0a2.7 2.7 0 1 0 -5.4 0M141.2 79.6a2.7 2.7 0 1 0 5.4 0a2.7 2.7 0 1 0 -5.4 0M144.6 80.9a2.7 2.7 0 1 0 5.4 0a2.7 2.7 0 1 0 -5.4 0M144.9 80.8a2.7 2.7 0 1 0 5.4 0a2.7 2.7 0 1 0 -5.4 0M132.5 81.9a2.7 2.7 0 1 0 5.4 0a2.7 2.7 0 1 0 -5.4 0M134.7 80.7a2.7 2.7 0 1 0 5.4 0a2.7 2.7 0 1 0 -5.4 0M137.6 81.9a2.7 2.7 0 1 0 5.4 0a2.7 2.7 0 1 0 -5.4 0M138.1 82.7a2.7 2.7 0 1 0 5.4 0a2.7 2.7 0 1 0 -5.4 0M140.6 81.9a2.7 2.7 0 1 0 5.4 0a2.7 2.7 0 1 0 -5.4 0M142.9 80.8a2.7 2.7 0 1 0 5.4 0a2.7 2.7 0 1 0 -5.4 0M144.5 81.7a2.7 2.7 0 1 0 5.4 0a2.7 2.7 0 1 0 -5.4 0M147.6 83.0a2.7 2.7 0 1 0 5.4 0a2.7 2.7 0 1 0 -5.4 0M130.3 81.2a2.7 2.7 0 1 0 5.4 0a2.7 2.7 0 1 0 -5.4 0M147.7 82.7a2.7 2.7 0 1 0 5.4 0a2.7 2.7 0 1 0 -5.4 0M132.1 84.2a2.7 2.7 0 1 0 5.4 0a2.7 2.7 0 1 0 -5.4 0M136.0 82.9a2.7 2.7 0 1 0 5.4 0a2.7 2.7 0 1 0 -5.4 0M137.6 82.7a2.7 2.7 0 1 0 5.4 0a2.7 2.7 0 1 0 -5.4 0M138.1 83.2a2.7 2.7 0 1 0 5.4 0a2.7 2.7 0 1 0 -5.4 0M141.3 83.4a2.7 2.7 0 1 0 5.4 0a2.7 2.7 0 1 0 -5.4 0M142.5 84.2a2.7 2.7 0 1 0 5.4 0a2.7 2.7 0 1 0 -5.4 0M143.8 84.5a2.7 2.7 0 1 0 5.4 0a2.7 2.7 0 1 0 -5.4 0M145.9 83.9a2.7 2.7 0 1 0 5.4 0a2.7 2.7 0 1 0 -5.4 0M130.4 84.0a2.7 2.7 0 1 0 5.4 0a2.7 2.7 0 1 0 -5.4 0M149.7 83.7a2.7 2.7 0 1 0 5.4 0a2.7 2.7 0 1 0 -5.4 0M132.8 86.2a2.7 2.7 0 1 0 5.4 0a2.7 2.7 0 1 0 -5.4 0M135.9 86.0a2.7 2.7 0 1 0 5.4 0a2.7 2.7 0 1 0 -5.4 0M138.5 86.2a2.7 2.7 0 1 0 5.4 0a2.7 2.7 0 1 0 -5.4 0M140.5 85.2a2.7 2.7 0 1 0 5.4 0a2.7 2.7 0 1 0 -5.4 0M142.2 86.7a2.7 2.7 0 1 0 5.4 0a2.7 2.7 0 1 0 -5.4 0M144.6 85.4a2.7 2.7 0 1 0 5.4 0a2.7 2.7 0 1 0 -5.4 0M145.1 87.0a2.7 2.7 0 1 0 5.4 0a2.7 2.7 0 1 0 -5.4 0M133.1 86.7a2.7 2.7 0 1 0 5.4 0a2.7 2.7 0 1 0 -5.4 0M150.8 86.4a2.7 2.7 0 1 0 5.4 0a2.7 2.7 0 1 0 -5.4 0M134.4 87.7a2.7 2.7 0 1 0 5.4 0a2.7 2.7 0 1 0 -5.4 0M136.3 86.9a2.7 2.7 0 1 0 5.4 0a2.7 2.7 0 1 0 -5.4 0M137.3 88.4a2.7 2.7 0 1 0 5.4 0a2.7 2.7 0 1 0 -5.4 0M138.3 87.1a2.7 2.7 0 1 0 5.4 0a2.7 2.7 0 1 0 -5.4 0M142.0 89.0a2.7 2.7 0 1 0 5.4 0a2.7 2.7 0 1 0 -5.4 0M144.8 86.9a2.7 2.7 0 1 0 5.4 0a2.7 2.7 0 1 0 -5.4 0M145.6 88.6a2.7 2.7 0 1 0 5.4 0a2.7 2.7 0 1 0 -5.4 0M132.6 88.7a2.7 2.7 0 1 0 5.4 0a2.7 2.7 0 1 0 -5.4 0M135.8 89.9a2.7 2.7 0 1 0 5.4 0a2.7 2.7 0 1 0 -5.4 0M137.8 89.0a2.7 2.7 0 1 0 5.4 0a2.7 2.7 0 1 0 -5.4 0M138.8 89.1a2.7 2.7 0 1 0 5.4 0a2.7 2.7 0 1 0 -5.4 0M142.5 91.2a2.7 2.7 0 1 0 5.4 0a2.7 2.7 0 1 0 -5.4 0M144.8 88.8a2.7 2.7 0 1 0 5.4 0a2.7 2.7 0 1 0 -5.4 0M144.5 91.1a2.7 2.7 0 1 0 5.4 0a2.7 2.7 0 1 0 -5.4 0M147.6 90.6a2.7 2.7 0 1 0 5.4 0a2.7 2.7 0 1 0 -5.4 0M133.3 89.9a2.7 2.7 0 1 0 5.4 0a2.7 2.7 0 1 0 -5.4 0M152.1 88.9a2.7 2.7 0 1 0 5.4 0a2.7 2.7 0 1 0 -5.4 0M134.6 91.8a2.7 2.7 0 1 0 5.4 0a2.7 2.7 0 1 0 -5.4 0M138.1 91.7a2.7 2.7 0 1 0 5.4 0a2.7 2.7 0 1 0 -5.4 0M138.7 91.0a2.7 2.7 0 1 0 5.4 0a2.7 2.7 0 1 0 -5.4 0M141.5 90.6a2.7 2.7 0 1 0 5.4 0a2.7 2.7 0 1 0 -5.4 0M144.5 92.7a2.7 2.7 0 1 0 5.4 0a2.7 2.7 0 1 0 -5.4 0M146.0 92.8a2.7 2.7 0 1 0 5.4 0a2.7 2.7 0 1 0 -5.4 0M147.8 91.7a2.7 2.7 0 1 0 5.4 0a2.7 2.7 0 1 0 -5.4 0M149.7 91.9a2.7 2.7 0 1 0 5.4 0a2.7 2.7 0 1 0 -5.4 0M152.7 92.7a2.7 2.7 0 1 0 5.4 0a2.7 2.7 0 1 0 -5.4 0M135.2 92.4a2.7 2.7 0 1 0 5.4 0a2.7 2.7 0 1 0 -5.4 0M138.2 94.9a2.7 2.7 0 1 0 5.4 0a2.7 2.7 0 1 0 -5.4 0M139.7 94.6a2.7 2.7 0 1 0 5.4 0a2.7 2.7 0 1 0 -5.4 0M141.8 93.7a2.7 2.7 0 1 0 5.4 0a2.7 2.7 0 1 0 -5.4 0M143.7 92.8a2.7 2.7 0 1 0 5.4 0a2.7 2.7 0 1 0 -5.4 0M144.7 93.8a2.7 2.7 0 1 0 5.4 0a2.7 2.7 0 1 0 -5.4 0M145.9 93.5a2.7 2.7 0 1 0 5.4 0a2.7 2.7 0 1 0 -5.4 0M149.5 94.2a2.7 2.7 0 1 0 5.4 0a2.7 2.7 0 1 0 -5.4 0M150.5 95.1a2.7 2.7 0 1 0 5.4 0a2.7 2.7 0 1 0 -5.4 0M153.6 93.5a2.7 2.7 0 1 0 5.4 0a2.7 2.7 0 1 0 -5.4 0M139.0 96.3a2.7 2.7 0 1 0 5.4 0a2.7 2.7 0 1 0 -5.4 0M140.2 96.6a2.7 2.7 0 1 0 5.4 0a2.7 2.7 0 1 0 -5.4 0M142.9 94.7a2.7 2.7 0 1 0 5.4 0a2.7 2.7 0 1 0 -5.4 0M144.0 96.5a2.7 2.7 0 1 0 5.4 0a2.7 2.7 0 1 0 -5.4 0M145.1 95.6a2.7 2.7 0 1 0 5.4 0a2.7 2.7 0 1 0 -5.4 0M146.5 95.1a2.7 2.7 0 1 0 5.4 0a2.7 2.7 0 1 0 -5.4 0M149.4 94.9a2.7 2.7 0 1 0 5.4 0a2.7 2.7 0 1 0 -5.4 0M151.0 97.0a2.7 2.7 0 1 0 5.4 0a2.7 2.7 0 1 0 -5.4 0M153.8 95.9a2.7 2.7 0 1 0 5.4 0a2.7 2.7 0 1 0 -5.4 0M140.4 96.8a2.7 2.7 0 1 0 5.4 0a2.7 2.7 0 1 0 -5.4 0M141.9 98.6a2.7 2.7 0 1 0 5.4 0a2.7 2.7 0 1 0 -5.4 0M142.4 99.0a2.7 2.7 0 1 0 5.4 0a2.7 2.7 0 1 0 -5.4 0M144.7 97.8a2.7 2.7 0 1 0 5.4 0a2.7 2.7 0 1 0 -5.4 0M146.7 97.9a2.7 2.7 0 1 0 5.4 0a2.7 2.7 0 1 0 -5.4 0M149.9 96.8a2.7 2.7 0 1 0 5.4 0a2.7 2.7 0 1 0 -5.4 0M152.8 97.7a2.7 2.7 0 1 0 5.4 0a2.7 2.7 0 1 0 -5.4 0M153.7 98.2a2.7 2.7 0 1 0 5.4 0a2.7 2.7 0 1 0 -5.4 0M156.5 98.0a2.7 2.7 0 1 0 5.4 0a2.7 2.7 0 1 0 -5.4 0M138.5 98.6a2.7 2.7 0 1 0 5.4 0a2.7 2.7 0 1 0 -5.4 0M140.4 98.7a2.7 2.7 0 1 0 5.4 0a2.7 2.7 0 1 0 -5.4 0M142.2 100.6a2.7 2.7 0 1 0 5.4 0a2.7 2.7 0 1 0 -5.4 0M144.8 100.9a2.7 2.7 0 1 0 5.4 0a2.7 2.7 0 1 0 -5.4 0M147.7 98.7a2.7 2.7 0 1 0 5.4 0a2.7 2.7 0 1 0 -5.4 0M150.3 101.1a2.7 2.7 0 1 0 5.4 0a2.7 2.7 0 1 0 -5.4 0M150.0 101.0a2.7 2.7 0 1 0 5.4 0a2.7 2.7 0 1 0 -5.4 0M152.9 99.8a2.7 2.7 0 1 0 5.4 0a2.7 2.7 0 1 0 -5.4 0M156.3 99.2a2.7 2.7 0 1 0 5.4 0a2.7 2.7 0 1 0 -5.4 0M141.4 102.7a2.7 2.7 0 1 0 5.4 0a2.7 2.7 0 1 0 -5.4 0M142.5 100.9a2.7 2.7 0 1 0 5.4 0a2.7 2.7 0 1 0 -5.4 0M144.5 101.8a2.7 2.7 0 1 0 5.4 0a2.7 2.7 0 1 0 -5.4 0M145.4 100.7a2.7 2.7 0 1 0 5.4 0a2.7 2.7 0 1 0 -5.4 0M148.3 100.9a2.7 2.7 0 1 0 5.4 0a2.7 2.7 0 1 0 -5.4 0M150.1 102.3a2.7 2.7 0 1 0 5.4 0a2.7 2.7 0 1 0 -5.4 0M152.1 101.3a2.7 2.7 0 1 0 5.4 0a2.7 2.7 0 1 0 -5.4 0M154.4 101.7a2.7 2.7 0 1 0 5.4 0a2.7 2.7 0 1 0 -5.4 0M156.9 102.0a2.7 2.7 0 1 0 5.4 0a2.7 2.7 0 1 0 -5.4 0M140.0 104.9a2.7 2.7 0 1 0 5.4 0a2.7 2.7 0 1 0 -5.4 0M143.7 104.2a2.7 2.7 0 1 0 5.4 0a2.7 2.7 0 1 0 -5.4 0M144.6 103.3a2.7 2.7 0 1 0 5.4 0a2.7 2.7 0 1 0 -5.4 0M147.5 104.1a2.7 2.7 0 1 0 5.4 0a2.7 2.7 0 1 0 -5.4 0M149.2 104.2a2.7 2.7 0 1 0 5.4 0a2.7 2.7 0 1 0 -5.4 0M151.7 103.1a2.7 2.7 0 1 0 5.4 0a2.7 2.7 0 1 0 -5.4 0M152.3 105.1a2.7 2.7 0 1 0 5.4 0a2.7 2.7 0 1 0 -5.4 0M156.1 104.9a2.7 2.7 0 1 0 5.4 0a2.7 2.7 0 1 0 -5.4 0M137.3 103.4a2.7 2.7 0 1 0 5.4 0a2.7 2.7 0 1 0 -5.4 0M158.3 103.1a2.7 2.7 0 1 0 5.4 0a2.7 2.7 0 1 0 -5.4 0M140.0 106.4a2.7 2.7 0 1 0 5.4 0a2.7 2.7 0 1 0 -5.4 0M143.3 106.2a2.7 2.7 0 1 0 5.4 0a2.7 2.7 0 1 0 -5.4 0M144.8 105.8a2.7 2.7 0 1 0 5.4 0a2.7 2.7 0 1 0 -5.4 0M146.4 105.5a2.7 2.7 0 1 0 5.4 0a2.7 2.7 0 1 0 -5.4 0M149.8 106.8a2.7 2.7 0 1 0 5.4 0a2.7 2.7 0 1 0 -5.4 0M150.0 104.9a2.7 2.7 0 1 0 5.4 0a2.7 2.7 0 1 0 -5.4 0M153.9 106.2a2.7 2.7 0 1 0 5.4 0a2.7 2.7 0 1 0 -5.4 0M155.8 105.2a2.7 2.7 0 1 0 5.4 0a2.7 2.7 0 1 0 -5.4 0M158.3 105.6a2.7 2.7 0 1 0 5.4 0a2.7 2.7 0 1 0 -5.4 0M141.3 108.0a2.7 2.7 0 1 0 5.4 0a2.7 2.7 0 1 0 -5.4 0M144.4 109.0a2.7 2.7 0 1 0 5.4 0a2.7 2.7 0 1 0 -5.4 0M145.5 107.6a2.7 2.7 0 1 0 5.4 0a2.7 2.7 0 1 0 -5.4 0M146.7 108.9a2.7 2.7 0 1 0 5.4 0a2.7 2.7 0 1 0 -5.4 0M148.6 106.8a2.7 2.7 0 1 0 5.4 0a2.7 2.7 0 1 0 -5.4 0M151.9 107.9a2.7 2.7 0 1 0 5.4 0a2.7 2.7 0 1 0 -5.4 0M154.2 107.4a2.7 2.7 0 1 0 5.4 0a2.7 2.7 0 1 0 -5.4 0M156.4 106.8a2.7 2.7 0 1 0 5.4 0a2.7 2.7 0 1 0 -5.4 0M157.0 108.3a2.7 2.7 0 1 0 5.4 0a2.7 2.7 0 1 0 -5.4 0M138.8 108.3a2.7 2.7 0 1 0 5.4 0a2.7 2.7 0 1 0 -5.4 0M140.8 110.5a2.7 2.7 0 1 0 5.4 0a2.7 2.7 0 1 0 -5.4 0M142.9 108.9a2.7 2.7 0 1 0 5.4 0a2.7 2.7 0 1 0 -5.4 0M145.8 110.1a2.7 2.7 0 1 0 5.4 0a2.7 2.7 0 1 0 -5.4 0M148.3 111.0a2.7 2.7 0 1 0 5.4 0a2.7 2.7 0 1 0 -5.4 0M150.3 109.7a2.7 2.7 0 1 0 5.4 0a2.7 2.7 0 1 0 -5.4 0M152.0 109.4a2.7 2.7 0 1 0 5.4 0a2.7 2.7 0 1 0 -5.4 0M152.7 109.6a2.7 2.7 0 1 0 5.4 0a2.7 2.7 0 1 0 -5.4 0M156.3 110.9a2.7 2.7 0 1 0 5.4 0a2.7 2.7 0 1 0 -5.4 0M156.6 109.5a2.7 2.7 0 1 0 5.4 0a2.7 2.7 0 1 0 -5.4 0M160.4 109.7a2.7 2.7 0 1 0 5.4 0a2.7 2.7 0 1 0 -5.4 0M141.6 112.0a2.7 2.7 0 1 0 5.4 0a2.7 2.7 0 1 0 -5.4 0M143.7 112.1a2.7 2.7 0 1 0 5.4 0a2.7 2.7 0 1 0 -5.4 0M144.0 112.6a2.7 2.7 0 1 0 5.4 0a2.7 2.7 0 1 0 -5.4 0M147.9 111.3a2.7 2.7 0 1 0 5.4 0a2.7 2.7 0 1 0 -5.4 0M147.6 111.9a2.7 2.7 0 1 0 5.4 0a2.7 2.7 0 1 0 -5.4 0M151.0 112.1a2.7 2.7 0 1 0 5.4 0a2.7 2.7 0 1 0 -5.4 0M154.1 112.3a2.7 2.7 0 1 0 5.4 0a2.7 2.7 0 1 0 -5.4 0M155.7 110.8a2.7 2.7 0 1 0 5.4 0a2.7 2.7 0 1 0 -5.4 0M157.0 112.6a2.7 2.7 0 1 0 5.4 0a2.7 2.7 0 1 0 -5.4 0M139.3 112.4a2.7 2.7 0 1 0 5.4 0a2.7 2.7 0 1 0 -5.4 0M139.6 114.5a2.7 2.7 0 1 0 5.4 0a2.7 2.7 0 1 0 -5.4 0M142.9 113.2a2.7 2.7 0 1 0 5.4 0a2.7 2.7 0 1 0 -5.4 0M143.8 114.6a2.7 2.7 0 1 0 5.4 0a2.7 2.7 0 1 0 -5.4 0M146.5 114.6a2.7 2.7 0 1 0 5.4 0a2.7 2.7 0 1 0 -5.4 0M148.2 113.5a2.7 2.7 0 1 0 5.4 0a2.7 2.7 0 1 0 -5.4 0M151.7 114.3a2.7 2.7 0 1 0 5.4 0a2.7 2.7 0 1 0 -5.4 0M152.5 114.0a2.7 2.7 0 1 0 5.4 0a2.7 2.7 0 1 0 -5.4 0M155.1 114.4a2.7 2.7 0 1 0 5.4 0a2.7 2.7 0 1 0 -5.4 0M157.6 113.7a2.7 2.7 0 1 0 5.4 0a2.7 2.7 0 1 0 -5.4 0M159.3 114.3a2.7 2.7 0 1 0 5.4 0a2.7 2.7 0 1 0 -5.4 0M143.5 116.3a2.7 2.7 0 1 0 5.4 0a2.7 2.7 0 1 0 -5.4 0M144.4 116.4a2.7 2.7 0 1 0 5.4 0a2.7 2.7 0 1 0 -5.4 0M147.1 115.7a2.7 2.7 0 1 0 5.4 0a2.7 2.7 0 1 0 -5.4 0M148.1 115.0a2.7 2.7 0 1 0 5.4 0a2.7 2.7 0 1 0 -5.4 0M151.0 117.2a2.7 2.7 0 1 0 5.4 0a2.7 2.7 0 1 0 -5.4 0M152.0 115.0a2.7 2.7 0 1 0 5.4 0a2.7 2.7 0 1 0 -5.4 0M153.6 115.7a2.7 2.7 0 1 0 5.4 0a2.7 2.7 0 1 0 -5.4 0M155.8 117.1a2.7 2.7 0 1 0 5.4 0a2.7 2.7 0 1 0 -5.4 0M157.2 115.4a2.7 2.7 0 1 0 5.4 0a2.7 2.7 0 1 0 -5.4 0M159.3 116.3a2.7 2.7 0 1 0 5.4 0a2.7 2.7 0 1 0 -5.4 0M162.6 115.8a2.7 2.7 0 1 0 5.4 0a2.7 2.7 0 1 0 -5.4 0M141.7 116.9a2.7 2.7 0 1 0 5.4 0a2.7 2.7 0 1 0 -5.4 0M144.0 117.2a2.7 2.7 0 1 0 5.4 0a2.7 2.7 0 1 0 -5.4 0M146.2 118.5a2.7 2.7 0 1 0 5.4 0a2.7 2.7 0 1 0 -5.4 0M149.1 117.2a2.7 2.7 0 1 0 5.4 0a2.7 2.7 0 1 0 -5.4 0M150.0 117.3a2.7 2.7 0 1 0 5.4 0a2.7 2.7 0 1 0 -5.4 0M152.0 118.6a2.7 2.7 0 1 0 5.4 0a2.7 2.7 0 1 0 -5.4 0M154.4 118.0a2.7 2.7 0 1 0 5.4 0a2.7 2.7 0 1 0 -5.4 0M157.7 117.8a2.7 2.7 0 1 0 5.4 0a2.7 2.7 0 1 0 -5.4 0M158.2 118.9a2.7 2.7 0 1 0 5.4 0a2.7 2.7 0 1 0 -5.4 0M161.9 117.5a2.7 2.7 0 1 0 5.4 0a2.7 2.7 0 1 0 -5.4 0M141.8 121.1a2.7 2.7 0 1 0 5.4 0a2.7 2.7 0 1 0 -5.4 0M145.8 119.6a2.7 2.7 0 1 0 5.4 0a2.7 2.7 0 1 0 -5.4 0M147.1 119.9a2.7 2.7 0 1 0 5.4 0a2.7 2.7 0 1 0 -5.4 0M148.4 121.2a2.7 2.7 0 1 0 5.4 0a2.7 2.7 0 1 0 -5.4 0M151.4 119.2a2.7 2.7 0 1 0 5.4 0a2.7 2.7 0 1 0 -5.4 0M151.7 119.8a2.7 2.7 0 1 0 5.4 0a2.7 2.7 0 1 0 -5.4 0M154.7 120.7a2.7 2.7 0 1 0 5.4 0a2.7 2.7 0 1 0 -5.4 0M157.5 120.2a2.7 2.7 0 1 0 5.4 0a2.7 2.7 0 1 0 -5.4 0M158.1 119.0a2.7 2.7 0 1 0 5.4 0a2.7 2.7 0 1 0 -5.4 0M160.5 119.3a2.7 2.7 0 1 0 5.4 0a2.7 2.7 0 1 0 -5.4 0M143.0 122.0a2.7 2.7 0 1 0 5.4 0a2.7 2.7 0 1 0 -5.4 0M144.7 122.6a2.7 2.7 0 1 0 5.4 0a2.7 2.7 0 1 0 -5.4 0M146.3 122.7a2.7 2.7 0 1 0 5.4 0a2.7 2.7 0 1 0 -5.4 0M150.5 122.7a2.7 2.7 0 1 0 5.4 0a2.7 2.7 0 1 0 -5.4 0M150.5 121.3a2.7 2.7 0 1 0 5.4 0a2.7 2.7 0 1 0 -5.4 0M154.2 120.9a2.7 2.7 0 1 0 5.4 0a2.7 2.7 0 1 0 -5.4 0M155.6 121.8a2.7 2.7 0 1 0 5.4 0a2.7 2.7 0 1 0 -5.4 0M158.8 122.1a2.7 2.7 0 1 0 5.4 0a2.7 2.7 0 1 0 -5.4 0M160.5 121.4a2.7 2.7 0 1 0 5.4 0a2.7 2.7 0 1 0 -5.4 0M162.4 121.7a2.7 2.7 0 1 0 5.4 0a2.7 2.7 0 1 0 -5.4 0M162.6 121.3a2.7 2.7 0 1 0 5.4 0a2.7 2.7 0 1 0 -5.4 0M142.9 124.8a2.7 2.7 0 1 0 5.4 0a2.7 2.7 0 1 0 -5.4 0M145.3 123.4a2.7 2.7 0 1 0 5.4 0a2.7 2.7 0 1 0 -5.4 0M146.7 123.4a2.7 2.7 0 1 0 5.4 0a2.7 2.7 0 1 0 -5.4 0M149.7 124.5a2.7 2.7 0 1 0 5.4 0a2.7 2.7 0 1 0 -5.4 0M151.4 124.4a2.7 2.7 0 1 0 5.4 0a2.7 2.7 0 1 0 -5.4 0M152.8 123.6a2.7 2.7 0 1 0 5.4 0a2.7 2.7 0 1 0 -5.4 0M155.7 125.1a2.7 2.7 0 1 0 5.4 0a2.7 2.7 0 1 0 -5.4 0M158.7 124.3a2.7 2.7 0 1 0 5.4 0a2.7 2.7 0 1 0 -5.4 0M158.5 123.6a2.7 2.7 0 1 0 5.4 0a2.7 2.7 0 1 0 -5.4 0M162.4 123.2a2.7 2.7 0 1 0 5.4 0a2.7 2.7 0 1 0 -5.4 0M143.7 125.1a2.7 2.7 0 1 0 5.4 0a2.7 2.7 0 1 0 -5.4 0M145.2 125.4a2.7 2.7 0 1 0 5.4 0a2.7 2.7 0 1 0 -5.4 0M146.6 126.0a2.7 2.7 0 1 0 5.4 0a2.7 2.7 0 1 0 -5.4 0M148.4 125.5a2.7 2.7 0 1 0 5.4 0a2.7 2.7 0 1 0 -5.4 0M150.6 126.3a2.7 2.7 0 1 0 5.4 0a2.7 2.7 0 1 0 -5.4 0M152.3 125.1a2.7 2.7 0 1 0 5.4 0a2.7 2.7 0 1 0 -5.4 0M155.5 125.5a2.7 2.7 0 1 0 5.4 0a2.7 2.7 0 1 0 -5.4 0M158.1 126.1a2.7 2.7 0 1 0 5.4 0a2.7 2.7 0 1 0 -5.4 0M159.5 125.5a2.7 2.7 0 1 0 5.4 0a2.7 2.7 0 1 0 -5.4 0M161.8 124.8a2.7 2.7 0 1 0 5.4 0a2.7 2.7 0 1 0 -5.4 0M162.0 124.8a2.7 2.7 0 1 0 5.4 0a2.7 2.7 0 1 0 -5.4 0M165.4 126.4a2.7 2.7 0 1 0 5.4 0a2.7 2.7 0 1 0 -5.4 0M142.4 126.6a2.7 2.7 0 1 0 5.4 0a2.7 2.7 0 1 0 -5.4 0M142.7 126.9a2.7 2.7 0 1 0 5.4 0a2.7 2.7 0 1 0 -5.4 0M145.3 126.8a2.7 2.7 0 1 0 5.4 0a2.7 2.7 0 1 0 -5.4 0M148.7 127.7a2.7 2.7 0 1 0 5.4 0a2.7 2.7 0 1 0 -5.4 0M149.6 128.3a2.7 2.7 0 1 0 5.4 0a2.7 2.7 0 1 0 -5.4 0M152.3 128.7a2.7 2.7 0 1 0 5.4 0a2.7 2.7 0 1 0 -5.4 0M153.3 127.5a2.7 2.7 0 1 0 5.4 0a2.7 2.7 0 1 0 -5.4 0M155.4 126.6a2.7 2.7 0 1 0 5.4 0a2.7 2.7 0 1 0 -5.4 0M157.3 128.4a2.7 2.7 0 1 0 5.4 0a2.7 2.7 0 1 0 -5.4 0M160.8 128.7a2.7 2.7 0 1 0 5.4 0a2.7 2.7 0 1 0 -5.4 0M162.0 128.2a2.7 2.7 0 1 0 5.4 0a2.7 2.7 0 1 0 -5.4 0M162.3 127.5a2.7 2.7 0 1 0 5.4 0a2.7 2.7 0 1 0 -5.4 0M144.3 127.1a2.7 2.7 0 1 0 5.4 0a2.7 2.7 0 1 0 -5.4 0M166.2 128.5a2.7 2.7 0 1 0 5.4 0a2.7 2.7 0 1 0 -5.4 0M145.7 130.6a2.7 2.7 0 1 0 5.4 0a2.7 2.7 0 1 0 -5.4 0M149.6 130.0a2.7 2.7 0 1 0 5.4 0a2.7 2.7 0 1 0 -5.4 0M150.2 129.9a2.7 2.7 0 1 0 5.4 0a2.7 2.7 0 1 0 -5.4 0M151.6 130.5a2.7 2.7 0 1 0 5.4 0a2.7 2.7 0 1 0 -5.4 0M155.8 129.9a2.7 2.7 0 1 0 5.4 0a2.7 2.7 0 1 0 -5.4 0M157.1 130.8a2.7 2.7 0 1 0 5.4 0a2.7 2.7 0 1 0 -5.4 0M157.8 131.1a2.7 2.7 0 1 0 5.4 0a2.7 2.7 0 1 0 -5.4 0M160.9 129.1a2.7 2.7 0 1 0 5.4 0a2.7 2.7 0 1 0 -5.4 0M161.5 129.2a2.7 2.7 0 1 0 5.4 0a2.7 2.7 0 1 0 -5.4 0M164.8 130.4a2.7 2.7 0 1 0 5.4 0a2.7 2.7 0 1 0 -5.4 0M146.4 129.6a2.7 2.7 0 1 0 5.4 0a2.7 2.7 0 1 0 -5.4 0M146.0 133.0a2.7 2.7 0 1 0 5.4 0a2.7 2.7 0 1 0 -5.4 0M149.1 132.1a2.7 2.7 0 1 0 5.4 0a2.7 2.7 0 1 0 -5.4 0M151.1 131.3a2.7 2.7 0 1 0 5.4 0a2.7 2.7 0 1 0 -5.4 0M154.0 133.2a2.7 2.7 0 1 0 5.4 0a2.7 2.7 0 1 0 -5.4 0M155.8 132.2a2.7 2.7 0 1 0 5.4 0a2.7 2.7 0 1 0 -5.4 0M156.0 132.7a2.7 2.7 0 1 0 5.4 0a2.7 2.7 0 1 0 -5.4 0M158.4 132.9a2.7 2.7 0 1 0 5.4 0a2.7 2.7 0 1 0 -5.4 0M160.3 132.1a2.7 2.7 0 1 0 5.4 0a2.7 2.7 0 1 0 -5.4 0M163.8 131.1a2.7 2.7 0 1 0 5.4 0a2.7 2.7 0 1 0 -5.4 0M165.1 130.8a2.7 2.7 0 1 0 5.4 0a2.7 2.7 0 1 0 -5.4 0M165.7 131.1a2.7 2.7 0 1 0 5.4 0a2.7 2.7 0 1 0 -5.4 0M149.7 134.5a2.7 2.7 0 1 0 5.4 0a2.7 2.7 0 1 0 -5.4 0M150.9 134.1a2.7 2.7 0 1 0 5.4 0a2.7 2.7 0 1 0 -5.4 0M154.0 132.6a2.7 2.7 0 1 0 5.4 0a2.7 2.7 0 1 0 -5.4 0M154.4 133.8a2.7 2.7 0 1 0 5.4 0a2.7 2.7 0 1 0 -5.4 0M156.3 133.6a2.7 2.7 0 1 0 5.4 0a2.7 2.7 0 1 0 -5.4 0M159.4 133.1a2.7 2.7 0 1 0 5.4 0a2.7 2.7 0 1 0 -5.4 0M161.3 133.3a2.7 2.7 0 1 0 5.4 0a2.7 2.7 0 1 0 -5.4 0M163.4 133.5a2.7 2.7 0 1 0 5.4 0a2.7 2.7 0 1 0 -5.4 0M165.6 132.7a2.7 2.7 0 1 0 5.4 0a2.7 2.7 0 1 0 -5.4 0M167.7 133.0a2.7 2.7 0 1 0 5.4 0a2.7 2.7 0 1 0 -5.4 0M150.3 136.4a2.7 2.7 0 1 0 5.4 0a2.7 2.7 0 1 0 -5.4 0M152.7 136.6a2.7 2.7 0 1 0 5.4 0a2.7 2.7 0 1 0 -5.4 0M154.0 137.2a2.7 2.7 0 1 0 5.4 0a2.7 2.7 0 1 0 -5.4 0M156.9 136.8a2.7 2.7 0 1 0 5.4 0a2.7 2.7 0 1 0 -5.4 0M157.8 135.7a2.7 2.7 0 1 0 5.4 0a2.7 2.7 0 1 0 -5.4 0M160.2 137.0a2.7 2.7 0 1 0 5.4 0a2.7 2.7 0 1 0 -5.4 0M162.1 136.0a2.7 2.7 0 1 0 5.4 0a2.7 2.7 0 1 0 -5.4 0M163.9 137.0a2.7 2.7 0 1 0 5.4 0a2.7 2.7 0 1 0 -5.4 0M165.6 134.7a2.7 2.7 0 1 0 5.4 0a2.7 2.7 0 1 0 -5.4 0M168.6 136.9a2.7 2.7 0 1 0 5.4 0a2.7 2.7 0 1 0 -5.4 0M151.8 136.8a2.7 2.7 0 1 0 5.4 0a2.7 2.7 0 1 0 -5.4 0M152.6 137.8a2.7 2.7 0 1 0 5.4 0a2.7 2.7 0 1 0 -5.4 0M155.6 137.6a2.7 2.7 0 1 0 5.4 0a2.7 2.7 0 1 0 -5.4 0M156.4 138.4a2.7 2.7 0 1 0 5.4 0a2.7 2.7 0 1 0 -5.4 0M159.6 137.2a2.7 2.7 0 1 0 5.4 0a2.7 2.7 0 1 0 -5.4 0M161.1 137.6a2.7 2.7 0 1 0 5.4 0a2.7 2.7 0 1 0 -5.4 0M162.9 136.8a2.7 2.7 0 1 0 5.4 0a2.7 2.7 0 1 0 -5.4 0M166.6 139.1a2.7 2.7 0 1 0 5.4 0a2.7 2.7 0 1 0 -5.4 0M168.0 138.9a2.7 2.7 0 1 0 5.4 0a2.7 2.7 0 1 0 -5.4 0M151.5 140.9a2.7 2.7 0 1 0 5.4 0a2.7 2.7 0 1 0 -5.4 0M152.3 140.7a2.7 2.7 0 1 0 5.4 0a2.7 2.7 0 1 0 -5.4 0M154.3 140.0a2.7 2.7 0 1 0 5.4 0a2.7 2.7 0 1 0 -5.4 0M158.5 138.6a2.7 2.7 0 1 0 5.4 0a2.7 2.7 0 1 0 -5.4 0M158.6 139.4a2.7 2.7 0 1 0 5.4 0a2.7 2.7 0 1 0 -5.4 0M160.8 138.8a2.7 2.7 0 1 0 5.4 0a2.7 2.7 0 1 0 -5.4 0M164.3 140.7a2.7 2.7 0 1 0 5.4 0a2.7 2.7 0 1 0 -5.4 0M165.0 139.5a2.7 2.7 0 1 0 5.4 0a2.7 2.7 0 1 0 -5.4 0M167.5 138.7a2.7 2.7 0 1 0 5.4 0a2.7 2.7 0 1 0 -5.4 0M168.1 140.9a2.7 2.7 0 1 0 5.4 0a2.7 2.7 0 1 0 -5.4 0M150.3 140.8a2.7 2.7 0 1 0 5.4 0a2.7 2.7 0 1 0 -5.4 0M151.6 143.0a2.7 2.7 0 1 0 5.4 0a2.7 2.7 0 1 0 -5.4 0M155.2 141.1a2.7 2.7 0 1 0 5.4 0a2.7 2.7 0 1 0 -5.4 0M157.0 141.5a2.7 2.7 0 1 0 5.4 0a2.7 2.7 0 1 0 -5.4 0M158.1 141.0a2.7 2.7 0 1 0 5.4 0a2.7 2.7 0 1 0 -5.4 0M161.1 143.2a2.7 2.7 0 1 0 5.4 0a2.7 2.7 0 1 0 -5.4 0M161.4 142.2a2.7 2.7 0 1 0 5.4 0a2.7 2.7 0 1 0 -5.4 0M163.3 142.9a2.7 2.7 0 1 0 5.4 0a2.7 2.7 0 1 0 -5.4 0M165.0 140.9a2.7 2.7 0 1 0 5.4 0a2.7 2.7 0 1 0 -5.4 0M168.7 141.4a2.7 2.7 0 1 0 5.4 0a2.7 2.7 0 1 0 -5.4 0M171.2 142.9a2.7 2.7 0 1 0 5.4 0a2.7 2.7 0 1 0 -5.4 0M172.6 142.8a2.7 2.7 0 1 0 5.4 0a2.7 2.7 0 1 0 -5.4 0M152.1 143.4a2.7 2.7 0 1 0 5.4 0a2.7 2.7 0 1 0 -5.4 0M155.4 143.1a2.7 2.7 0 1 0 5.4 0a2.7 2.7 0 1 0 -5.4 0M156.0 143.2a2.7 2.7 0 1 0 5.4 0a2.7 2.7 0 1 0 -5.4 0M159.3 144.7a2.7 2.7 0 1 0 5.4 0a2.7 2.7 0 1 0 -5.4 0M160.5 144.3a2.7 2.7 0 1 0 5.4 0a2.7 2.7 0 1 0 -5.4 0M163.9 144.1a2.7 2.7 0 1 0 5.4 0a2.7 2.7 0 1 0 -5.4 0M164.2 143.4a2.7 2.7 0 1 0 5.4 0a2.7 2.7 0 1 0 -5.4 0M168.0 144.3a2.7 2.7 0 1 0 5.4 0a2.7 2.7 0 1 0 -5.4 0M168.3 144.3a2.7 2.7 0 1 0 5.4 0a2.7 2.7 0 1 0 -5.4 0M153.0 143.8a2.7 2.7 0 1 0 5.4 0a2.7 2.7 0 1 0 -5.4 0M154.1 145.3a2.7 2.7 0 1 0 5.4 0a2.7 2.7 0 1 0 -5.4 0M155.2 146.7a2.7 2.7 0 1 0 5.4 0a2.7 2.7 0 1 0 -5.4 0M156.8 145.3a2.7 2.7 0 1 0 5.4 0a2.7 2.7 0 1 0 -5.4 0M160.5 145.2a2.7 2.7 0 1 0 5.4 0a2.7 2.7 0 1 0 -5.4 0M161.3 146.0a2.7 2.7 0 1 0 5.4 0a2.7 2.7 0 1 0 -5.4 0M163.0 146.9a2.7 2.7 0 1 0 5.4 0a2.7 2.7 0 1 0 -5.4 0M167.1 144.7a2.7 2.7 0 1 0 5.4 0a2.7 2.7 0 1 0 -5.4 0M167.7 146.6a2.7 2.7 0 1 0 5.4 0a2.7 2.7 0 1 0 -5.4 0M169.5 147.0a2.7 2.7 0 1 0 5.4 0a2.7 2.7 0 1 0 -5.4 0M174.3 146.2a2.7 2.7 0 1 0 5.4 0a2.7 2.7 0 1 0 -5.4 0M154.9 147.9a2.7 2.7 0 1 0 5.4 0a2.7 2.7 0 1 0 -5.4 0M156.2 148.8a2.7 2.7 0 1 0 5.4 0a2.7 2.7 0 1 0 -5.4 0M158.7 148.0a2.7 2.7 0 1 0 5.4 0a2.7 2.7 0 1 0 -5.4 0M161.4 147.1a2.7 2.7 0 1 0 5.4 0a2.7 2.7 0 1 0 -5.4 0M162.9 147.0a2.7 2.7 0 1 0 5.4 0a2.7 2.7 0 1 0 -5.4 0M164.5 147.2a2.7 2.7 0 1 0 5.4 0a2.7 2.7 0 1 0 -5.4 0M166.0 148.6a2.7 2.7 0 1 0 5.4 0a2.7 2.7 0 1 0 -5.4 0M168.9 148.7a2.7 2.7 0 1 0 5.4 0a2.7 2.7 0 1 0 -5.4 0M169.5 147.9a2.7 2.7 0 1 0 5.4 0a2.7 2.7 0 1 0 -5.4 0M171.5 148.1a2.7 2.7 0 1 0 5.4 0a2.7 2.7 0 1 0 -5.4 0M174.8 148.3a2.7 2.7 0 1 0 5.4 0a2.7 2.7 0 1 0 -5.4 0M154.4 149.0a2.7 2.7 0 1 0 5.4 0a2.7 2.7 0 1 0 -5.4 0M156.0 149.9a2.7 2.7 0 1 0 5.4 0a2.7 2.7 0 1 0 -5.4 0M159.1 149.7a2.7 2.7 0 1 0 5.4 0a2.7 2.7 0 1 0 -5.4 0M160.6 150.7a2.7 2.7 0 1 0 5.4 0a2.7 2.7 0 1 0 -5.4 0M162.1 151.0a2.7 2.7 0 1 0 5.4 0a2.7 2.7 0 1 0 -5.4 0M165.4 150.0a2.7 2.7 0 1 0 5.4 0a2.7 2.7 0 1 0 -5.4 0M168.0 149.2a2.7 2.7 0 1 0 5.4 0a2.7 2.7 0 1 0 -5.4 0M168.3 149.4a2.7 2.7 0 1 0 5.4 0a2.7 2.7 0 1 0 -5.4 0M170.1 149.4a2.7 2.7 0 1 0 5.4 0a2.7 2.7 0 1 0 -5.4 0M173.6 150.0a2.7 2.7 0 1 0 5.4 0a2.7 2.7 0 1 0 -5.4 0M154.1 149.1a2.7 2.7 0 1 0 5.4 0a2.7 2.7 0 1 0 -5.4 0M154.2 152.4a2.7 2.7 0 1 0 5.4 0a2.7 2.7 0 1 0 -5.4 0M157.9 152.6a2.7 2.7 0 1 0 5.4 0a2.7 2.7 0 1 0 -5.4 0M157.9 151.7a2.7 2.7 0 1 0 5.4 0a2.7 2.7 0 1 0 -5.4 0M160.7 151.2a2.7 2.7 0 1 0 5.4 0a2.7 2.7 0 1 0 -5.4 0M164.3 150.7a2.7 2.7 0 1 0 5.4 0a2.7 2.7 0 1 0 -5.4 0M165.0 152.6a2.7 2.7 0 1 0 5.4 0a2.7 2.7 0 1 0 -5.4 0M168.3 151.0a2.7 2.7 0 1 0 5.4 0a2.7 2.7 0 1 0 -5.4 0M168.9 152.5a2.7 2.7 0 1 0 5.4 0a2.7 2.7 0 1 0 -5.4 0M169.9 151.2a2.7 2.7 0 1 0 5.4 0a2.7 2.7 0 1 0 -5.4 0M174.1 151.0a2.7 2.7 0 1 0 5.4 0a2.7 2.7 0 1 0 -5.4 0M176.5 151.1a2.7 2.7 0 1 0 5.4 0a2.7 2.7 0 1 0 -5.4 0M155.5 154.5a2.7 2.7 0 1 0 5.4 0a2.7 2.7 0 1 0 -5.4 0M156.1 153.3a2.7 2.7 0 1 0 5.4 0a2.7 2.7 0 1 0 -5.4 0M159.0 153.2a2.7 2.7 0 1 0 5.4 0a2.7 2.7 0 1 0 -5.4 0M160.7 155.0a2.7 2.7 0 1 0 5.4 0a2.7 2.7 0 1 0 -5.4 0M162.5 153.5a2.7 2.7 0 1 0 5.4 0a2.7 2.7 0 1 0 -5.4 0M166.1 154.2a2.7 2.7 0 1 0 5.4 0a2.7 2.7 0 1 0 -5.4 0M165.6 153.6a2.7 2.7 0 1 0 5.4 0a2.7 2.7 0 1 0 -5.4 0M169.2 152.8a2.7 2.7 0 1 0 5.4 0a2.7 2.7 0 1 0 -5.4 0M170.4 154.4a2.7 2.7 0 1 0 5.4 0a2.7 2.7 0 1 0 -5.4 0M173.8 154.1a2.7 2.7 0 1 0 5.4 0a2.7 2.7 0 1 0 -5.4 0M175.8 153.8a2.7 2.7 0 1 0 5.4 0a2.7 2.7 0 1 0 -5.4 0M155.2 155.5a2.7 2.7 0 1 0 5.4 0a2.7 2.7 0 1 0 -5.4 0M157.1 156.0a2.7 2.7 0 1 0 5.4 0a2.7 2.7 0 1 0 -5.4 0M159.1 155.1a2.7 2.7 0 1 0 5.4 0a2.7 2.7 0 1 0 -5.4 0M161.2 155.8a2.7 2.7 0 1 0 5.4 0a2.7 2.7 0 1 0 -5.4 0M163.4 155.8a2.7 2.7 0 1 0 5.4 0a2.7 2.7 0 1 0 -5.4 0M167.2 156.4a2.7 2.7 0 1 0 5.4 0a2.7 2.7 0 1 0 -5.4 0M168.9 155.1a2.7 2.7 0 1 0 5.4 0a2.7 2.7 0 1 0 -5.4 0M169.6 154.8a2.7 2.7 0 1 0 5.4 0a2.7 2.7 0 1 0 -5.4 0M172.4 155.5a2.7 2.7 0 1 0 5.4 0a2.7 2.7 0 1 0 -5.4 0M173.3 154.6a2.7 2.7 0 1 0 5.4 0a2.7 2.7 0 1 0 -5.4 0M175.1 155.3a2.7 2.7 0 1 0 5.4 0a2.7 2.7 0 1 0 -5.4 0M157.3 157.0a2.7 2.7 0 1 0 5.4 0a2.7 2.7 0 1 0 -5.4 0M160.8 157.5a2.7 2.7 0 1 0 5.4 0a2.7 2.7 0 1 0 -5.4 0M162.4 158.5a2.7 2.7 0 1 0 5.4 0a2.7 2.7 0 1 0 -5.4 0M164.7 156.7a2.7 2.7 0 1 0 5.4 0a2.7 2.7 0 1 0 -5.4 0M165.2 157.6a2.7 2.7 0 1 0 5.4 0a2.7 2.7 0 1 0 -5.4 0M166.6 158.9a2.7 2.7 0 1 0 5.4 0a2.7 2.7 0 1 0 -5.4 0M169.2 158.6a2.7 2.7 0 1 0 5.4 0a2.7 2.7 0 1 0 -5.4 0M171.7 156.7a2.7 2.7 0 1 0 5.4 0a2.7 2.7 0 1 0 -5.4 0M173.4 157.2a2.7 2.7 0 1 0 5.4 0a2.7 2.7 0 1 0 -5.4 0M174.5 157.0a2.7 2.7 0 1 0 5.4 0a2.7 2.7 0 1 0 -5.4 0M177.9 156.7a2.7 2.7 0 1 0 5.4 0a2.7 2.7 0 1 0 -5.4 0M156.3 158.0a2.7 2.7 0 1 0 5.4 0a2.7 2.7 0 1 0 -5.4 0M179.3 157.4a2.7 2.7 0 1 0 5.4 0a2.7 2.7 0 1 0 -5.4 0M157.9 159.1a2.7 2.7 0 1 0 5.4 0a2.7 2.7 0 1 0 -5.4 0M160.3 160.5a2.7 2.7 0 1 0 5.4 0a2.7 2.7 0 1 0 -5.4 0M162.7 159.6a2.7 2.7 0 1 0 5.4 0a2.7 2.7 0 1 0 -5.4 0M165.9 159.2a2.7 2.7 0 1 0 5.4 0a2.7 2.7 0 1 0 -5.4 0M166.4 159.5a2.7 2.7 0 1 0 5.4 0a2.7 2.7 0 1 0 -5.4 0M168.2 158.7a2.7 2.7 0 1 0 5.4 0a2.7 2.7 0 1 0 -5.4 0M169.8 160.2a2.7 2.7 0 1 0 5.4 0a2.7 2.7 0 1 0 -5.4 0M173.2 160.7a2.7 2.7 0 1 0 5.4 0a2.7 2.7 0 1 0 -5.4 0M176.4 159.4a2.7 2.7 0 1 0 5.4 0a2.7 2.7 0 1 0 -5.4 0M177.6 161.0a2.7 2.7 0 1 0 5.4 0a2.7 2.7 0 1 0 -5.4 0M178.4 160.4a2.7 2.7 0 1 0 5.4 0a2.7 2.7 0 1 0 -5.4 0M160.5 160.8a2.7 2.7 0 1 0 5.4 0a2.7 2.7 0 1 0 -5.4 0M162.0 161.6a2.7 2.7 0 1 0 5.4 0a2.7 2.7 0 1 0 -5.4 0M163.1 161.6a2.7 2.7 0 1 0 5.4 0a2.7 2.7 0 1 0 -5.4 0M165.9 161.9a2.7 2.7 0 1 0 5.4 0a2.7 2.7 0 1 0 -5.4 0M167.8 161.0a2.7 2.7 0 1 0 5.4 0a2.7 2.7 0 1 0 -5.4 0M170.3 161.9a2.7 2.7 0 1 0 5.4 0a2.7 2.7 0 1 0 -5.4 0M171.7 162.4a2.7 2.7 0 1 0 5.4 0a2.7 2.7 0 1 0 -5.4 0M174.0 160.8a2.7 2.7 0 1 0 5.4 0a2.7 2.7 0 1 0 -5.4 0M176.3 161.7a2.7 2.7 0 1 0 5.4 0a2.7 2.7 0 1 0 -5.4 0M177.9 162.2a2.7 2.7 0 1 0 5.4 0a2.7 2.7 0 1 0 -5.4 0M160.3 163.6a2.7 2.7 0 1 0 5.4 0a2.7 2.7 0 1 0 -5.4 0M161.5 163.7a2.7 2.7 0 1 0 5.4 0a2.7 2.7 0 1 0 -5.4 0M163.6 164.0a2.7 2.7 0 1 0 5.4 0a2.7 2.7 0 1 0 -5.4 0M167.3 163.9a2.7 2.7 0 1 0 5.4 0a2.7 2.7 0 1 0 -5.4 0M168.6 163.3a2.7 2.7 0 1 0 5.4 0a2.7 2.7 0 1 0 -5.4 0M169.9 163.6a2.7 2.7 0 1 0 5.4 0a2.7 2.7 0 1 0 -5.4 0M174.5 164.2a2.7 2.7 0 1 0 5.4 0a2.7 2.7 0 1 0 -5.4 0M174.9 164.5a2.7 2.7 0 1 0 5.4 0a2.7 2.7 0 1 0 -5.4 0M176.8 163.9a2.7 2.7 0 1 0 5.4 0a2.7 2.7 0 1 0 -5.4 0M161.5 166.9a2.7 2.7 0 1 0 5.4 0a2.7 2.7 0 1 0 -5.4 0M162.7 166.5a2.7 2.7 0 1 0 5.4 0a2.7 2.7 0 1 0 -5.4 0M164.3 165.9a2.7 2.7 0 1 0 5.4 0a2.7 2.7 0 1 0 -5.4 0M166.1 167.1a2.7 2.7 0 1 0 5.4 0a2.7 2.7 0 1 0 -5.4 0M170.0 165.8a2.7 2.7 0 1 0 5.4 0a2.7 2.7 0 1 0 -5.4 0M172.3 164.8a2.7 2.7 0 1 0 5.4 0a2.7 2.7 0 1 0 -5.4 0M172.2 166.2a2.7 2.7 0 1 0 5.4 0a2.7 2.7 0 1 0 -5.4 0M174.9 165.7a2.7 2.7 0 1 0 5.4 0a2.7 2.7 0 1 0 -5.4 0M179.0 165.1a2.7 2.7 0 1 0 5.4 0a2.7 2.7 0 1 0 -5.4 0M178.9 165.3a2.7 2.7 0 1 0 5.4 0a2.7 2.7 0 1 0 -5.4 0M184.2 166.2a2.7 2.7 0 1 0 5.4 0a2.7 2.7 0 1 0 -5.4 0M160.2 168.8a2.7 2.7 0 1 0 5.4 0a2.7 2.7 0 1 0 -5.4 0M162.6 168.7a2.7 2.7 0 1 0 5.4 0a2.7 2.7 0 1 0 -5.4 0M164.8 169.3a2.7 2.7 0 1 0 5.4 0a2.7 2.7 0 1 0 -5.4 0M168.3 167.8a2.7 2.7 0 1 0 5.4 0a2.7 2.7 0 1 0 -5.4 0M168.6 169.5a2.7 2.7 0 1 0 5.4 0a2.7 2.7 0 1 0 -5.4 0M170.8 169.0a2.7 2.7 0 1 0 5.4 0a2.7 2.7 0 1 0 -5.4 0M174.2 168.9a2.7 2.7 0 1 0 5.4 0a2.7 2.7 0 1 0 -5.4 0M177.2 169.3a2.7 2.7 0 1 0 5.4 0a2.7 2.7 0 1 0 -5.4 0M177.0 168.7a2.7 2.7 0 1 0 5.4 0a2.7 2.7 0 1 0 -5.4 0M161.4 170.7a2.7 2.7 0 1 0 5.4 0a2.7 2.7 0 1 0 -5.4 0M162.1 169.8a2.7 2.7 0 1 0 5.4 0a2.7 2.7 0 1 0 -5.4 0M164.6 169.6a2.7 2.7 0 1 0 5.4 0a2.7 2.7 0 1 0 -5.4 0M167.5 169.4a2.7 2.7 0 1 0 5.4 0a2.7 2.7 0 1 0 -5.4 0M168.4 169.2a2.7 2.7 0 1 0 5.4 0a2.7 2.7 0 1 0 -5.4 0M170.8 171.2a2.7 2.7 0 1 0 5.4 0a2.7 2.7 0 1 0 -5.4 0M173.1 170.4a2.7 2.7 0 1 0 5.4 0a2.7 2.7 0 1 0 -5.4 0M177.5 170.5a2.7 2.7 0 1 0 5.4 0a2.7 2.7 0 1 0 -5.4 0M177.9 171.7a2.7 2.7 0 1 0 5.4 0a2.7 2.7 0 1 0 -5.4 0M183.4 170.6a2.7 2.7 0 1 0 5.4 0a2.7 2.7 0 1 0 -5.4 0M164.2 172.0a2.7 2.7 0 1 0 5.4 0a2.7 2.7 0 1 0 -5.4 0M166.5 172.3a2.7 2.7 0 1 0 5.4 0a2.7 2.7 0 1 0 -5.4 0M167.6 173.7a2.7 2.7 0 1 0 5.4 0a2.7 2.7 0 1 0 -5.4 0M171.6 173.9a2.7 2.7 0 1 0 5.4 0a2.7 2.7 0 1 0 -5.4 0M173.1 172.6a2.7 2.7 0 1 0 5.4 0a2.7 2.7 0 1 0 -5.4 0M175.9 173.2a2.7 2.7 0 1 0 5.4 0a2.7 2.7 0 1 0 -5.4 0M178.6 173.8a2.7 2.7 0 1 0 5.4 0a2.7 2.7 0 1 0 -5.4 0M178.7 172.5a2.7 2.7 0 1 0 5.4 0a2.7 2.7 0 1 0 -5.4 0M184.2 171.9a2.7 2.7 0 1 0 5.4 0a2.7 2.7 0 1 0 -5.4 0M167.0 174.0a2.7 2.7 0 1 0 5.4 0a2.7 2.7 0 1 0 -5.4 0M168.5 174.9a2.7 2.7 0 1 0 5.4 0a2.7 2.7 0 1 0 -5.4 0M170.7 174.9a2.7 2.7 0 1 0 5.4 0a2.7 2.7 0 1 0 -5.4 0M174.1 176.8a2.7 2.7 0 1 0 5.4 0a2.7 2.7 0 1 0 -5.4 0M173.5 175.9a2.7 2.7 0 1 0 5.4 0a2.7 2.7 0 1 0 -5.4 0M176.2 173.7a2.7 2.7 0 1 0 5.4 0a2.7 2.7 0 1 0 -5.4 0M179.1 176.0a2.7 2.7 0 1 0 5.4 0a2.7 2.7 0 1 0 -5.4 0M183.9 173.9a2.7 2.7 0 1 0 5.4 0a2.7 2.7 0 1 0 -5.4 0M162.2 175.3a2.7 2.7 0 1 0 5.4 0a2.7 2.7 0 1 0 -5.4 0M167.9 178.8a2.7 2.7 0 1 0 5.4 0a2.7 2.7 0 1 0 -5.4 0M168.6 177.2a2.7 2.7 0 1 0 5.4 0a2.7 2.7 0 1 0 -5.4 0M172.2 178.5a2.7 2.7 0 1 0 5.4 0a2.7 2.7 0 1 0 -5.4 0M175.9 177.2a2.7 2.7 0 1 0 5.4 0a2.7 2.7 0 1 0 -5.4 0M177.4 177.8a2.7 2.7 0 1 0 5.4 0a2.7 2.7 0 1 0 -5.4 0M180.2 176.4a2.7 2.7 0 1 0 5.4 0a2.7 2.7 0 1 0 -5.4 0M180.5 176.2a2.7 2.7 0 1 0 5.4 0a2.7 2.7 0 1 0 -5.4 0M185.6 176.8a2.7 2.7 0 1 0 5.4 0a2.7 2.7 0 1 0 -5.4 0M168.5 178.8a2.7 2.7 0 1 0 5.4 0a2.7 2.7 0 1 0 -5.4 0M171.3 179.3a2.7 2.7 0 1 0 5.4 0a2.7 2.7 0 1 0 -5.4 0M172.4 180.0a2.7 2.7 0 1 0 5.4 0a2.7 2.7 0 1 0 -5.4 0M175.4 179.2a2.7 2.7 0 1 0 5.4 0a2.7 2.7 0 1 0 -5.4 0M176.8 178.5a2.7 2.7 0 1 0 5.4 0a2.7 2.7 0 1 0 -5.4 0M182.3 179.4a2.7 2.7 0 1 0 5.4 0a2.7 2.7 0 1 0 -5.4 0M181.9 178.9a2.7 2.7 0 1 0 5.4 0a2.7 2.7 0 1 0 -5.4 0M169.4 182.3a2.7 2.7 0 1 0 5.4 0a2.7 2.7 0 1 0 -5.4 0M173.1 182.2a2.7 2.7 0 1 0 5.4 0a2.7 2.7 0 1 0 -5.4 0M173.0 182.8a2.7 2.7 0 1 0 5.4 0a2.7 2.7 0 1 0 -5.4 0M177.8 183.0a2.7 2.7 0 1 0 5.4 0a2.7 2.7 0 1 0 -5.4 0M179.0 184.2a2.7 2.7 0 1 0 5.4 0a2.7 2.7 0 1 0 -5.4 0M183.7 184.4a2.7 2.7 0 1 0 5.4 0a2.7 2.7 0 1 0 -5.4 0M184.7 183.8a2.7 2.7 0 1 0 5.4 0a2.7 2.7 0 1 0 -5.4 0M189.3 181.9a2.7 2.7 0 1 0 5.4 0a2.7 2.7 0 1 0 -5.4 0M170.1 186.1a2.7 2.7 0 1 0 5.4 0a2.7 2.7 0 1 0 -5.4 0M172.6 185.2a2.7 2.7 0 1 0 5.4 0a2.7 2.7 0 1 0 -5.4 0M174.1 184.1a2.7 2.7 0 1 0 5.4 0a2.7 2.7 0 1 0 -5.4 0M180.3 183.3a2.7 2.7 0 1 0 5.4 0a2.7 2.7 0 1 0 -5.4 0M181.3 186.3a2.7 2.7 0 1 0 5.4 0a2.7 2.7 0 1 0 -5.4 0M185.0 186.0a2.7 2.7 0 1 0 5.4 0a2.7 2.7 0 1 0 -5.4 0M176.1 186.2a2.7 2.7 0 1 0 5.4 0a2.7 2.7 0 1 0 -5.4 0M178.6 187.4a2.7 2.7 0 1 0 5.4 0a2.7 2.7 0 1 0 -5.4 0M180.4 186.8a2.7 2.7 0 1 0 5.4 0a2.7 2.7 0 1 0 -5.4 0M183.9 185.9a2.7 2.7 0 1 0 5.4 0a2.7 2.7 0 1 0 -5.4 0M185.3 186.7a2.7 2.7 0 1 0 5.4 0a2.7 2.7 0 1 0 -5.4 0M187.3 187.3a2.7 2.7 0 1 0 5.4 0a2.7 2.7 0 1 0 -5.4 0M175.3 189.6a2.7 2.7 0 1 0 5.4 0a2.7 2.7 0 1 0 -5.4 0M180.3 189.8a2.7 2.7 0 1 0 5.4 0a2.7 2.7 0 1 0 -5.4 0M179.8 189.8a2.7 2.7 0 1 0 5.4 0a2.7 2.7 0 1 0 -5.4 0M185.2 189.4a2.7 2.7 0 1 0 5.4 0a2.7 2.7 0 1 0 -5.4 0M188.0 190.7a2.7 2.7 0 1 0 5.4 0a2.7 2.7 0 1 0 -5.4 0M191.5 189.8a2.7 2.7 0 1 0 5.4 0a2.7 2.7 0 1 0 -5.4 0M176.0 193.3a2.7 2.7 0 1 0 5.4 0a2.7 2.7 0 1 0 -5.4 0M180.5 192.5a2.7 2.7 0 1 0 5.4 0a2.7 2.7 0 1 0 -5.4 0M183.9 195.1a2.7 2.7 0 1 0 5.4 0a2.7 2.7 0 1 0 -5.4 0M185.3 194.9a2.7 2.7 0 1 0 5.4 0a2.7 2.7 0 1 0 -5.4 0M177.9 192.5a2.7 2.7 0 1 0 5.4 0a2.7 2.7 0 1 0 -5.4 0M179.4 195.7a2.7 2.7 0 1 0 5.4 0a2.7 2.7 0 1 0 -5.4 0M184.3 194.8a2.7 2.7 0 1 0 5.4 0a2.7 2.7 0 1 0 -5.4 0M185.4 196.9a2.7 2.7 0 1 0 5.4 0a2.7 2.7 0 1 0 -5.4 0M189.4 195.8a2.7 2.7 0 1 0 5.4 0a2.7 2.7 0 1 0 -5.4 0M185.3 198.5a2.7 2.7 0 1 0 5.4 0a2.7 2.7 0 1 0 -5.4 0M187.1 199.8a2.7 2.7 0 1 0 5.4 0a2.7 2.7 0 1 0 -5.4 0M186.6 202.3a2.7 2.7 0 1 0 5.4 0a2.7 2.7 0 1 0 -5.4 0M185.9 202.4a2.7 2.7 0 1 0 5.4 0a2.7 2.7 0 1 0 -5.4 0" fill="#000"/>
<path d="M99.0 0.0 C99.6 2.0 101.0 6.8 102.6 12.0 C104.2 17.2 106.3 24.8 108.4 31.3 C110.5 37.8 112.9 44.5 115.1 51.0 C117.2 57.5 118.6 61.0 121.3 70.0 C124.0 79.0 128.1 95.1 131.0 105.0 C133.9 114.9 136.8 123.8 138.7 129.6 C140.6 135.4 141.3 136.8 142.5 140.0 C143.7 143.2 144.7 144.5 146.1 149.0 C147.5 153.5 149.2 160.7 151.2 167.2 C153.2 173.7 155.9 181.6 157.9 188.0 C159.9 194.4 160.8 201.1 163.1 205.8 C165.4 210.5 169.0 213.1 172.0 216.2 C175.0 219.3 177.5 221.1 181.0 224.4 C184.5 227.8 188.9 232.5 192.9 236.3 C196.9 240.2 197.8 240.2 204.8 247.5 C211.8 254.8 224.1 269.2 235.0 280.0 C245.9 290.8 259.8 303.2 270.0 312.5 C280.2 321.8 291.7 332.1 296.0 336.0" fill="none" stroke="#f00000" stroke-width="3" stroke-linejoin="round" stroke-linecap="butt" stroke-dasharray="11.2 9.6"/>
<path d="M107.9 0.0 C109.6 3.3 114.6 12.8 118.3 20.0 C122.0 27.2 128.1 39.2 130.0 43.0 C131.0 45.6 134.1 54.2 135.8 58.5 C137.5 62.8 138.8 64.5 140.2 68.5 C141.6 72.5 142.7 75.6 144.3 82.5 C145.9 89.4 148.6 102.1 150.0 110.0 C151.4 117.9 151.8 123.3 153.0 130.0 C154.2 136.7 155.3 143.3 157.5 150.0 C159.7 156.7 163.2 163.9 166.1 170.0 C169.0 176.1 172.4 181.8 175.0 186.5 C177.6 191.2 179.1 194.4 181.5 198.0 C183.9 201.6 186.4 204.4 189.3 207.8 C192.2 211.2 195.6 215.2 199.2 218.7 C202.8 222.2 206.5 224.8 211.1 228.6 C215.7 232.4 221.7 237.2 227.0 241.5 C232.3 245.8 237.4 250.3 242.9 254.4 C248.4 258.5 247.8 257.9 260.1 266.3 C272.4 274.7 298.1 291.8 316.9 304.8 C335.7 317.8 363.4 337.7 372.7 344.3" fill="none" stroke="#0000f0" stroke-width="3" stroke-linejoin="round" stroke-linecap="butt"/>
</g>
</g>
<g>
<clipPath id="c1"><rect x="483.00" y="0.50" width="337.00" height="344.00"/></clipPath>
<path d="M489.84 344.50v-5.10M489.84 0.50v5.10M496.71 344.50v-5.10M496.71 0.50v5.10M503.58 344.50v-5.10M503.58 0.50v5.10M510.45 344.50v-5.10M510.45 0.50v5.10M517.32 344.50v-5.10M517.32 0.50v5.10M524.19 344.50v-5.10M524.19 0.50v5.10M531.06 344.50v-5.10M531.06 0.50v5.10M537.93 344.50v-5.10M537.93 0.50v5.10M544.80 344.50v-9.60M544.80 0.50v9.60M551.67 344.50v-5.10M551.67 0.50v5.10M558.54 344.50v-5.10M558.54 0.50v5.10M565.41 344.50v-5.10M565.41 0.50v5.10M572.28 344.50v-5.10M572.28 0.50v5.10M579.15 344.50v-5.10M579.15 0.50v5.10M586.02 344.50v-5.10M586.02 0.50v5.10M592.89 344.50v-5.10M592.89 0.50v5.10M599.76 344.50v-5.10M599.76 0.50v5.10M606.63 344.50v-5.10M606.63 0.50v5.10M613.50 344.50v-9.60M613.50 0.50v9.60M620.37 344.50v-5.10M620.37 0.50v5.10M627.24 344.50v-5.10M627.24 0.50v5.10M634.11 344.50v-5.10M634.11 0.50v5.10M640.98 344.50v-5.10M640.98 0.50v5.10M647.85 344.50v-5.10M647.85 0.50v5.10M654.72 344.50v-5.10M654.72 0.50v5.10M661.59 344.50v-5.10M661.59 0.50v5.10M668.46 344.50v-5.10M668.46 0.50v5.10M675.33 344.50v-5.10M675.33 0.50v5.10M682.20 344.50v-9.60M682.20 0.50v9.60M689.07 344.50v-5.10M689.07 0.50v5.10M695.94 344.50v-5.10M695.94 0.50v5.10M702.81 344.50v-5.10M702.81 0.50v5.10M709.68 344.50v-5.10M709.68 0.50v5.10M716.55 344.50v-5.10M716.55 0.50v5.10M723.42 344.50v-5.10M723.42 0.50v5.10M730.29 344.50v-5.10M730.29 0.50v5.10M737.16 344.50v-5.10M737.16 0.50v5.10M744.03 344.50v-5.10M744.03 0.50v5.10M750.90 344.50v-9.60M750.90 0.50v9.60M757.77 344.50v-5.10M757.77 0.50v5.10M764.64 344.50v-5.10M764.64 0.50v5.10M771.51 344.50v-5.10M771.51 0.50v5.10M778.38 344.50v-5.10M778.38 0.50v5.10M785.25 344.50v-5.10M785.25 0.50v5.10M792.12 344.50v-5.10M792.12 0.50v5.10M798.99 344.50v-5.10M798.99 0.50v5.10M805.86 344.50v-5.10M805.86 0.50v5.10M812.73 344.50v-5.10M812.73 0.50v5.10M819.60 344.50v-9.60M819.60 0.50v9.60M483.00 1.00h5.10M820.00 1.00h-5.10M483.00 17.00h5.10M820.00 17.00h-5.10M483.00 33.00h9.60M820.00 33.00h-9.60M483.00 49.00h5.10M820.00 49.00h-5.10M483.00 65.00h5.10M820.00 65.00h-5.10M483.00 81.00h5.10M820.00 81.00h-5.10M483.00 97.00h9.60M820.00 97.00h-9.60M483.00 113.00h5.10M820.00 113.00h-5.10M483.00 129.00h5.10M820.00 129.00h-5.10M483.00 145.00h5.10M820.00 145.00h-5.10M483.00 161.00h9.60M820.00 161.00h-9.60M483.00 177.00h5.10M820.00 177.00h-5.10M483.00 193.00h5.10M820.00 193.00h-5.10M483.00 209.00h5.10M820.00 209.00h-5.10M483.00 225.00h9.60M820.00 225.00h-9.60M483.00 241.00h5.10M820.00 241.00h-5.10M483.00 257.00h5.10M820.00 257.00h-5.10M483.00 273.00h5.10M820.00 273.00h-5.10M483.00 289.00h9.60M820.00 289.00h-9.60M483.00 305.00h5.10M820.00 305.00h-5.10M483.00 321.00h5.10M820.00 321.00h-5.10M483.00 337.00h5.10M820.00 337.00h-5.10" stroke="#555" stroke-width="1" fill="none"/>
<rect x="483.00" y="0.50" width="337.00" height="344.00" fill="none" stroke="#555" stroke-width="1.05"/>
<g filter="url(#gs)">
<text transform="translate(544.80 363.30) scale(1.235 1)" text-anchor="middle" font-size="15" >1</text>
<text transform="translate(613.50 363.30) scale(1.235 1)" text-anchor="middle" font-size="15" >2</text>
<text transform="translate(682.20 363.30) scale(1.235 1)" text-anchor="middle" font-size="15" >3</text>
<text transform="translate(750.90 363.30) scale(1.235 1)" text-anchor="middle" font-size="15" >4</text>
<text transform="translate(819.60 363.30) scale(1.235 1)" text-anchor="middle" font-size="15" >5</text>
<text transform="translate(473.60 38.00) scale(1.235 1)" text-anchor="end" font-size="15" >12</text>
<text transform="translate(473.60 102.00) scale(1.235 1)" text-anchor="end" font-size="15" >14</text>
<text transform="translate(473.60 166.00) scale(1.235 1)" text-anchor="end" font-size="15" >16</text>
<text transform="translate(473.60 230.00) scale(1.235 1)" text-anchor="end" font-size="15" >18</text>
<text transform="translate(473.60 294.00) scale(1.235 1)" text-anchor="end" font-size="15" >20</text>
<text transform="translate(786.00 40.50) scale(1.235 1)" text-anchor="middle" font-size="15" >0.7</text>
<text transform="translate(786.00 81.00) scale(1.235 1)" text-anchor="middle" font-size="15" >0.5</text>
<text transform="translate(786.00 107.00) scale(1.235 1)" text-anchor="middle" font-size="15" >0.4</text>
<text transform="translate(786.00 127.30) scale(1.235 1)" text-anchor="middle" font-size="15" >0.3</text>
<text transform="translate(786.00 150.00) scale(1.235 1)" text-anchor="middle" font-size="15" >0.2</text>
<text transform="translate(786.00 176.00) scale(1.235 1)" text-anchor="middle" font-size="15" >0.15</text>
<text transform="translate(786.00 236.00) scale(1.235 1)" text-anchor="middle" font-size="15" >0.09</text>
<text transform="translate(786.00 295.00) scale(1.235 1)" text-anchor="middle" font-size="15" >0.072</text>
<text transform="translate(510.00 226.50) scale(1.235 1)" text-anchor="middle" font-size="15" >0.1</text>
<text transform="translate(510.00 263.60) scale(1.235 1)" text-anchor="middle" font-size="15" >0.08</text>
<text transform="translate(510.00 294.50) scale(1.235 1)" text-anchor="middle" font-size="15" >0.07</text>
<text transform="translate(510.00 337.50) scale(1.235 1)" text-anchor="middle" font-size="15" >0.06</text>
<text transform="translate(776.60 18.90) scale(0.8 1)" font-size="15.4">M</text>
<circle cx="792.00" cy="20.70" r="3.1" fill="none" stroke="#1a1a1a" stroke-width="0.9"/>
<circle cx="792.00" cy="20.70" r="0.8" fill="#1a1a1a"/>
<text transform="translate(598.3 384.0) scale(1.2 1)" font-size="15" font-style="italic">Z</text><text transform="translate(618.3 384.0) scale(1.2 1)" font-size="15">&#8722;</text><text transform="translate(635.5 384.0) scale(1.2 1)" font-size="15" font-style="italic">K</text><text transform="translate(656.0 384.0) scale(1.28 1)" font-size="15">[mag]</text>
<text transform="translate(443.4 206.5) rotate(-90) scale(1.2 1)" font-size="15.5" font-style="italic">Z</text><text transform="translate(443.4 187.2) rotate(-90) scale(1.28 1)" font-size="15">[mag]</text>
</g>
<g clip-path="url(#c1)">
<path d="M621.2 221.2 C622.7 223.5 625.6 229.8 630.0 235.0 C634.4 240.2 640.8 245.8 647.5 252.5 C654.2 259.2 661.2 267.1 670.0 275.0 C678.8 282.9 688.7 291.9 700.0 300.0 C711.3 308.1 726.2 316.2 737.8 323.8 C749.2 331.2 763.8 341.5 769.0 345.0" fill="none" stroke="#00f000" stroke-width="3.5" stroke-linejoin="round" stroke-linecap="round" stroke-dasharray="0.1 6.6"/>
<path d="M521.9 24.9l7.8 7.8M521.9 32.6l7.8 -7.8M526.1 28.6l7.8 7.8M526.1 36.4l7.8 -7.8M551.1 25.6l7.8 7.8M551.1 33.4l7.8 -7.8M556.1 26.1l7.8 7.8M556.1 33.9l7.8 -7.8M544.9 31.1l7.8 7.8M544.9 38.9l7.8 -7.8M527.4 33.6l7.8 7.8M527.4 41.4l7.8 -7.8M529.9 37.4l7.8 7.8M529.9 45.1l7.8 -7.8M508.6 41.1l7.8 7.8M508.6 48.9l7.8 -7.8M518.1 38.6l7.8 7.8M518.1 46.4l7.8 -7.8M523.6 41.1l7.8 7.8M523.6 48.9l7.8 -7.8M533.6 41.1l7.8 7.8M533.6 48.9l7.8 -7.8M566.1 36.1l7.8 7.8M566.1 43.9l7.8 -7.8M526.1 53.6l7.8 7.8M526.1 61.4l7.8 -7.8M526.1 57.4l7.8 7.8M526.1 65.2l7.8 -7.8M548.6 59.9l7.8 7.8M548.6 67.7l7.8 -7.8M533.6 64.8l7.8 7.8M533.6 72.7l7.8 -7.8M543.6 66.1l7.8 7.8M543.6 73.9l7.8 -7.8M521.1 74.8l7.8 7.8M521.1 82.7l7.8 -7.8M534.9 78.6l7.8 7.8M534.9 86.4l7.8 -7.8M539.9 86.1l7.8 7.8M539.9 93.9l7.8 -7.8M547.4 89.8l7.8 7.8M547.4 97.7l7.8 -7.8M556.1 86.1l7.8 7.8M556.1 93.9l7.8 -7.8M549.9 94.8l7.8 7.8M549.9 102.7l7.8 -7.8M531.1 97.3l7.8 7.8M531.1 105.2l7.8 -7.8M529.9 102.3l7.8 7.8M529.9 110.2l7.8 -7.8M517.4 104.1l7.8 7.8M517.4 111.9l7.8 -7.8M531.1 107.3l7.8 7.8M531.1 115.2l7.8 -7.8M541.1 109.8l7.8 7.8M541.1 117.7l7.8 -7.8M555.6 110.6l7.8 7.8M555.6 118.4l7.8 -7.8M562.4 98.6l7.8 7.8M562.4 106.4l7.8 -7.8M521.1 123.1l7.8 7.8M521.1 130.9l7.8 -7.8M518.6 132.3l7.8 7.8M518.6 140.2l7.8 -7.8M565.6 137.3l7.8 7.8M565.6 145.2l7.8 -7.8M569.1 167.3l7.8 7.8M569.1 175.2l7.8 -7.8M576.1 187.3l7.8 7.8M576.1 195.2l7.8 -7.8M553.6 196.1l7.8 7.8M553.6 203.9l7.8 -7.8M571.1 196.1l7.8 7.8M571.1 203.9l7.8 -7.8M566.1 84.8l7.8 7.8M566.1 92.7l7.8 -7.8M569.9 88.6l7.8 7.8M569.9 96.4l7.8 -7.8M574.9 82.3l7.8 7.8M574.9 90.2l7.8 -7.8M577.4 94.8l7.8 7.8M577.4 102.7l7.8 -7.8M572.4 98.6l7.8 7.8M572.4 106.4l7.8 -7.8M576.1 103.6l7.8 7.8M576.1 111.4l7.8 -7.8M584.9 106.1l7.8 7.8M584.9 113.9l7.8 -7.8M579.9 132.3l7.8 7.8M579.9 140.2l7.8 -7.8M586.1 138.6l7.8 7.8M586.1 146.4l7.8 -7.8M591.1 143.6l7.8 7.8M591.1 151.4l7.8 -7.8M578.6 152.3l7.8 7.8M578.6 160.2l7.8 -7.8M586.1 151.1l7.8 7.8M586.1 158.9l7.8 -7.8M594.9 156.1l7.8 7.8M594.9 163.9l7.8 -7.8M598.6 161.1l7.8 7.8M598.6 168.9l7.8 -7.8M589.9 168.6l7.8 7.8M589.9 176.4l7.8 -7.8M596.1 171.1l7.8 7.8M596.1 178.9l7.8 -7.8M587.4 174.8l7.8 7.8M587.4 182.7l7.8 -7.8M593.6 182.3l7.8 7.8M593.6 190.2l7.8 -7.8M603.6 176.1l7.8 7.8M603.6 183.9l7.8 -7.8M608.6 182.3l7.8 7.8M608.6 190.2l7.8 -7.8M592.4 188.6l7.8 7.8M592.4 196.4l7.8 -7.8M598.6 193.6l7.8 7.8M598.6 201.4l7.8 -7.8M583.6 189.8l7.8 7.8M583.6 197.7l7.8 -7.8M629.9 168.6l7.8 7.8M629.9 176.4l7.8 -7.8M628.6 176.1l7.8 7.8M628.6 183.9l7.8 -7.8M593.6 163.6l7.8 7.8M593.6 171.4l7.8 -7.8M592.4 171.1l7.8 7.8M592.4 178.9l7.8 -7.8M579.9 191.1l7.8 7.8M579.9 198.9l7.8 -7.8M593.6 193.6l7.8 7.8M593.6 201.4l7.8 -7.8M611.1 196.1l7.8 7.8M611.1 203.9l7.8 -7.8M607.4 202.3l7.8 7.8M607.4 210.2l7.8 -7.8M587.4 207.3l7.8 7.8M587.4 215.2l7.8 -7.8M551.1 209.3l7.8 7.8M551.1 217.2l7.8 -7.8M564.4 212.3l7.8 7.8M564.4 220.2l7.8 -7.8M614.9 209.1l7.8 7.8M614.9 216.9l7.8 -7.8M626.1 209.1l7.8 7.8M626.1 216.9l7.8 -7.8M637.4 207.8l7.8 7.8M637.4 215.7l7.8 -7.8M606.1 214.1l7.8 7.8M606.1 221.9l7.8 -7.8M586.1 218.6l7.8 7.8M586.1 226.4l7.8 -7.8M589.9 222.3l7.8 7.8M589.9 230.2l7.8 -7.8M603.6 222.3l7.8 7.8M603.6 230.2l7.8 -7.8M626.1 222.3l7.8 7.8M626.1 230.2l7.8 -7.8M673.6 219.1l7.8 7.8M673.6 226.9l7.8 -7.8M602.4 227.3l7.8 7.8M602.4 235.2l7.8 -7.8M637.4 228.6l7.8 7.8M637.4 236.4l7.8 -7.8M575.6 230.3l7.8 7.8M575.6 238.2l7.8 -7.8M670.6 231.6l7.8 7.8M670.6 239.4l7.8 -7.8M592.4 234.8l7.8 7.8M592.4 242.7l7.8 -7.8M594.9 238.6l7.8 7.8M594.9 246.4l7.8 -7.8M612.4 236.1l7.8 7.8M612.4 243.9l7.8 -7.8M619.9 236.1l7.8 7.8M619.9 243.9l7.8 -7.8M627.4 242.3l7.8 7.8M627.4 250.2l7.8 -7.8M603.6 244.8l7.8 7.8M603.6 252.7l7.8 -7.8M607.4 248.6l7.8 7.8M607.4 256.4l7.8 -7.8M586.1 246.1l7.8 7.8M586.1 253.9l7.8 -7.8M584.1 250.6l7.8 7.8M584.1 258.4l7.8 -7.8M616.1 252.3l7.8 7.8M616.1 260.1l7.8 -7.8M624.9 258.6l7.8 7.8M624.9 266.4l7.8 -7.8M644.9 247.3l7.8 7.8M644.9 255.2l7.8 -7.8M661.1 250.6l7.8 7.8M661.1 258.4l7.8 -7.8M673.1 256.1l7.8 7.8M673.1 263.9l7.8 -7.8M633.6 258.6l7.8 7.8M633.6 266.4l7.8 -7.8M632.4 264.9l7.8 7.8M632.4 272.6l7.8 -7.8M581.6 262.4l7.8 7.8M581.6 270.1l7.8 -7.8M598.1 260.6l7.8 7.8M598.1 268.4l7.8 -7.8M599.4 272.4l7.8 7.8M599.4 280.1l7.8 -7.8M607.4 272.4l7.8 7.8M607.4 280.1l7.8 -7.8M619.4 276.9l7.8 7.8M619.4 284.6l7.8 -7.8M647.4 276.9l7.8 7.8M647.4 284.6l7.8 -7.8M664.9 289.9l7.8 7.8M664.9 297.6l7.8 -7.8M696.9 291.9l7.8 7.8M696.9 299.6l7.8 -7.8M601.1 166.1l7.8 7.8M601.1 173.9l7.8 -7.8M606.1 171.1l7.8 7.8M606.1 178.9l7.8 -7.8M611.1 178.6l7.8 7.8M611.1 186.4l7.8 -7.8M631.1 186.1l7.8 7.8M631.1 193.9l7.8 -7.8M623.6 188.6l7.8 7.8M623.6 196.4l7.8 -7.8M728.6 98.1l7.8 7.8M728.6 105.9l7.8 -7.8M728.6 107.1l7.8 7.8M728.6 114.9l7.8 -7.8M759.6 188.1l7.8 7.8M759.6 195.9l7.8 -7.8M591.6 129.5l7.8 7.8M591.6 137.3l7.8 -7.8M585.6 134.5l7.8 7.8M585.6 142.3l7.8 -7.8M593.6 175.1l7.8 7.8M593.6 182.9l7.8 -7.8M589.6 179.1l7.8 7.8M589.6 186.9l7.8 -7.8M605.5 179.1l7.8 7.8M605.5 186.9l7.8 -7.8M551.7 60.7l7.8 7.8M551.7 68.5l7.8 -7.8M548.7 70.4l7.8 7.8M548.7 78.2l7.8 -7.8M571.0 75.6l7.8 7.8M571.0 83.4l7.8 -7.8M574.0 78.6l7.8 7.8M574.0 86.4l7.8 -7.8M571.0 83.8l7.8 7.8M571.0 91.6l7.8 -7.8M565.8 90.4l7.8 7.8M565.8 98.2l7.8 -7.8M571.8 94.9l7.8 7.8M571.8 102.7l7.8 -7.8M585.2 111.3l7.8 7.8M585.2 119.1l7.8 -7.8M588.9 127.6l7.8 7.8M588.9 135.4l7.8 -7.8M594.1 66.7l7.8 7.8M594.1 74.5l7.8 -7.8" stroke="#000" stroke-width="1.05" fill="none"/>
<path d="M511.1 79.2a2.7 2.7 0 1 0 5.4 0a2.7 2.7 0 1 0 -5.4 0M530.5 50.0a2.7 2.7 0 1 0 5.4 0a2.7 2.7 0 1 0 -5.4 0M538.0 50.0a2.7 2.7 0 1 0 5.4 0a2.7 2.7 0 1 0 -5.4 0M548.0 48.8a2.7 2.7 0 1 0 5.4 0a2.7 2.7 0 1 0 -5.4 0M530.3 65.5a2.7 2.7 0 1 0 5.4 0a2.7 2.7 0 1 0 -5.4 0M544.8 73.0a2.7 2.7 0 1 0 5.4 0a2.7 2.7 0 1 0 -5.4 0M563.5 79.2a2.7 2.7 0 1 0 5.4 0a2.7 2.7 0 1 0 -5.4 0M567.3 110.8a2.7 2.7 0 1 0 5.4 0a2.7 2.7 0 1 0 -5.4 0M608.5 94.5a2.7 2.7 0 1 0 5.4 0a2.7 2.7 0 1 0 -5.4 0M576.0 122.5a2.7 2.7 0 1 0 5.4 0a2.7 2.7 0 1 0 -5.4 0M579.8 122.5a2.7 2.7 0 1 0 5.4 0a2.7 2.7 0 1 0 -5.4 0M584.8 120.0a2.7 2.7 0 1 0 5.4 0a2.7 2.7 0 1 0 -5.4 0M577.3 131.2a2.7 2.7 0 1 0 5.4 0a2.7 2.7 0 1 0 -5.4 0M582.3 136.2a2.7 2.7 0 1 0 5.4 0a2.7 2.7 0 1 0 -5.4 0M581.0 142.5a2.7 2.7 0 1 0 5.4 0a2.7 2.7 0 1 0 -5.4 0M637.3 188.8a2.7 2.7 0 1 0 5.4 0a2.7 2.7 0 1 0 -5.4 0M645.3 199.5a2.7 2.7 0 1 0 5.4 0a2.7 2.7 0 1 0 -5.4 0M579.8 218.8a2.7 2.7 0 1 0 5.4 0a2.7 2.7 0 1 0 -5.4 0M605.3 225.5a2.7 2.7 0 1 0 5.4 0a2.7 2.7 0 1 0 -5.4 0M600.3 240.0a2.7 2.7 0 1 0 5.4 0a2.7 2.7 0 1 0 -5.4 0M641.0 261.2a2.7 2.7 0 1 0 5.4 0a2.7 2.7 0 1 0 -5.4 0M634.8 183.8a2.7 2.7 0 1 0 5.4 0a2.7 2.7 0 1 0 -5.4 0M634.8 205.0a2.7 2.7 0 1 0 5.4 0a2.7 2.7 0 1 0 -5.4 0M638.5 219.5a2.7 2.7 0 1 0 5.4 0a2.7 2.7 0 1 0 -5.4 0M649.8 227.5a2.7 2.7 0 1 0 5.4 0a2.7 2.7 0 1 0 -5.4 0M647.3 230.8a2.7 2.7 0 1 0 5.4 0a2.7 2.7 0 1 0 -5.4 0M657.3 238.0a2.7 2.7 0 1 0 5.4 0a2.7 2.7 0 1 0 -5.4 0M662.8 240.5a2.7 2.7 0 1 0 5.4 0a2.7 2.7 0 1 0 -5.4 0M681.0 236.2a2.7 2.7 0 1 0 5.4 0a2.7 2.7 0 1 0 -5.4 0M662.3 248.8a2.7 2.7 0 1 0 5.4 0a2.7 2.7 0 1 0 -5.4 0M667.3 258.8a2.7 2.7 0 1 0 5.4 0a2.7 2.7 0 1 0 -5.4 0M661.5 294.2a2.7 2.7 0 1 0 5.4 0a2.7 2.7 0 1 0 -5.4 0M674.8 315.0a2.7 2.7 0 1 0 5.4 0a2.7 2.7 0 1 0 -5.4 0M722.3 298.8a2.7 2.7 0 1 0 5.4 0a2.7 2.7 0 1 0 -5.4 0M739.6 306.7a2.7 2.7 0 1 0 5.4 0a2.7 2.7 0 1 0 -5.4 0M741.2 313.5a2.7 2.7 0 1 0 5.4 0a2.7 2.7 0 1 0 -5.4 0M689.8 92.0a2.7 2.7 0 1 0 5.4 0a2.7 2.7 0 1 0 -5.4 0M581.9 102.5a2.7 2.7 0 1 0 5.4 0a2.7 2.7 0 1 0 -5.4 0M579.7 96.6a2.7 2.7 0 1 0 5.4 0a2.7 2.7 0 1 0 -5.4 0M569.3 72.0a2.7 2.7 0 1 0 5.4 0a2.7 2.7 0 1 0 -5.4 0M570.8 84.7a2.7 2.7 0 1 0 5.4 0a2.7 2.7 0 1 0 -5.4 0" fill="#000"/>
<path d="M571.0 56.3a2.7 2.7 0 1 0 5.4 0a2.7 2.7 0 1 0 -5.4 0M571.3 56.9a2.7 2.7 0 1 0 5.4 0a2.7 2.7 0 1 0 -5.4 0M574.0 58.0a2.7 2.7 0 1 0 5.4 0a2.7 2.7 0 1 0 -5.4 0M577.1 57.5a2.7 2.7 0 1 0 5.4 0a2.7 2.7 0 1 0 -5.4 0M578.7 57.6a2.7 2.7 0 1 0 5.4 0a2.7 2.7 0 1 0 -5.4 0M579.7 57.0a2.7 2.7 0 1 0 5.4 0a2.7 2.7 0 1 0 -5.4 0M570.2 56.3a2.7 2.7 0 1 0 5.4 0a2.7 2.7 0 1 0 -5.4 0M569.6 59.0a2.7 2.7 0 1 0 5.4 0a2.7 2.7 0 1 0 -5.4 0M572.9 57.9a2.7 2.7 0 1 0 5.4 0a2.7 2.7 0 1 0 -5.4 0M572.9 60.3a2.7 2.7 0 1 0 5.4 0a2.7 2.7 0 1 0 -5.4 0M576.1 58.1a2.7 2.7 0 1 0 5.4 0a2.7 2.7 0 1 0 -5.4 0M579.3 60.4a2.7 2.7 0 1 0 5.4 0a2.7 2.7 0 1 0 -5.4 0M579.0 59.0a2.7 2.7 0 1 0 5.4 0a2.7 2.7 0 1 0 -5.4 0M581.1 58.7a2.7 2.7 0 1 0 5.4 0a2.7 2.7 0 1 0 -5.4 0M584.4 58.3a2.7 2.7 0 1 0 5.4 0a2.7 2.7 0 1 0 -5.4 0M586.4 59.8a2.7 2.7 0 1 0 5.4 0a2.7 2.7 0 1 0 -5.4 0M571.1 61.1a2.7 2.7 0 1 0 5.4 0a2.7 2.7 0 1 0 -5.4 0M572.6 60.0a2.7 2.7 0 1 0 5.4 0a2.7 2.7 0 1 0 -5.4 0M575.5 62.4a2.7 2.7 0 1 0 5.4 0a2.7 2.7 0 1 0 -5.4 0M578.1 61.6a2.7 2.7 0 1 0 5.4 0a2.7 2.7 0 1 0 -5.4 0M578.5 60.8a2.7 2.7 0 1 0 5.4 0a2.7 2.7 0 1 0 -5.4 0M581.4 61.7a2.7 2.7 0 1 0 5.4 0a2.7 2.7 0 1 0 -5.4 0M581.9 60.5a2.7 2.7 0 1 0 5.4 0a2.7 2.7 0 1 0 -5.4 0M584.5 61.2a2.7 2.7 0 1 0 5.4 0a2.7 2.7 0 1 0 -5.4 0M570.4 63.2a2.7 2.7 0 1 0 5.4 0a2.7 2.7 0 1 0 -5.4 0M571.9 63.0a2.7 2.7 0 1 0 5.4 0a2.7 2.7 0 1 0 -5.4 0M574.3 63.9a2.7 2.7 0 1 0 5.4 0a2.7 2.7 0 1 0 -5.4 0M575.6 63.3a2.7 2.7 0 1 0 5.4 0a2.7 2.7 0 1 0 -5.4 0M577.8 63.7a2.7 2.7 0 1 0 5.4 0a2.7 2.7 0 1 0 -5.4 0M579.4 62.6a2.7 2.7 0 1 0 5.4 0a2.7 2.7 0 1 0 -5.4 0M582.2 63.6a2.7 2.7 0 1 0 5.4 0a2.7 2.7 0 1 0 -5.4 0M583.5 63.1a2.7 2.7 0 1 0 5.4 0a2.7 2.7 0 1 0 -5.4 0M585.9 62.6a2.7 2.7 0 1 0 5.4 0a2.7 2.7 0 1 0 -5.4 0M571.5 66.3a2.7 2.7 0 1 0 5.4 0a2.7 2.7 0 1 0 -5.4 0M574.0 64.4a2.7 2.7 0 1 0 5.4 0a2.7 2.7 0 1 0 -5.4 0M577.0 66.3a2.7 2.7 0 1 0 5.4 0a2.7 2.7 0 1 0 -5.4 0M577.1 64.6a2.7 2.7 0 1 0 5.4 0a2.7 2.7 0 1 0 -5.4 0M581.0 64.8a2.7 2.7 0 1 0 5.4 0a2.7 2.7 0 1 0 -5.4 0M581.7 63.9a2.7 2.7 0 1 0 5.4 0a2.7 2.7 0 1 0 -5.4 0M583.1 65.5a2.7 2.7 0 1 0 5.4 0a2.7 2.7 0 1 0 -5.4 0M587.6 66.5a2.7 2.7 0 1 0 5.4 0a2.7 2.7 0 1 0 -5.4 0M588.3 64.0a2.7 2.7 0 1 0 5.4 0a2.7 2.7 0 1 0 -5.4 0M589.9 65.9a2.7 2.7 0 1 0 5.4 0a2.7 2.7 0 1 0 -5.4 0M573.0 67.5a2.7 2.7 0 1 0 5.4 0a2.7 2.7 0 1 0 -5.4 0M574.4 68.4a2.7 2.7 0 1 0 5.4 0a2.7 2.7 0 1 0 -5.4 0M578.1 66.3a2.7 2.7 0 1 0 5.4 0a2.7 2.7 0 1 0 -5.4 0M578.5 68.2a2.7 2.7 0 1 0 5.4 0a2.7 2.7 0 1 0 -5.4 0M580.5 68.4a2.7 2.7 0 1 0 5.4 0a2.7 2.7 0 1 0 -5.4 0M583.1 67.7a2.7 2.7 0 1 0 5.4 0a2.7 2.7 0 1 0 -5.4 0M585.6 66.5a2.7 2.7 0 1 0 5.4 0a2.7 2.7 0 1 0 -5.4 0M586.5 66.6a2.7 2.7 0 1 0 5.4 0a2.7 2.7 0 1 0 -5.4 0M589.5 67.7a2.7 2.7 0 1 0 5.4 0a2.7 2.7 0 1 0 -5.4 0M590.1 68.2a2.7 2.7 0 1 0 5.4 0a2.7 2.7 0 1 0 -5.4 0M592.5 68.2a2.7 2.7 0 1 0 5.4 0a2.7 2.7 0 1 0 -5.4 0M575.9 70.4a2.7 2.7 0 1 0 5.4 0a2.7 2.7 0 1 0 -5.4 0M577.5 69.0a2.7 2.7 0 1 0 5.4 0a2.7 2.7 0 1 0 -5.4 0M579.1 70.2a2.7 2.7 0 1 0 5.4 0a2.7 2.7 0 1 0 -5.4 0M581.6 69.4a2.7 2.7 0 1 0 5.4 0a2.7 2.7 0 1 0 -5.4 0M582.4 68.9a2.7 2.7 0 1 0 5.4 0a2.7 2.7 0 1 0 -5.4 0M585.4 69.4a2.7 2.7 0 1 0 5.4 0a2.7 2.7 0 1 0 -5.4 0M585.6 69.7a2.7 2.7 0 1 0 5.4 0a2.7 2.7 0 1 0 -5.4 0M589.9 70.0a2.7 2.7 0 1 0 5.4 0a2.7 2.7 0 1 0 -5.4 0M591.9 70.3a2.7 2.7 0 1 0 5.4 0a2.7 2.7 0 1 0 -5.4 0M592.9 70.0a2.7 2.7 0 1 0 5.4 0a2.7 2.7 0 1 0 -5.4 0M594.3 68.8a2.7 2.7 0 1 0 5.4 0a2.7 2.7 0 1 0 -5.4 0M577.4 71.5a2.7 2.7 0 1 0 5.4 0a2.7 2.7 0 1 0 -5.4 0M578.4 71.3a2.7 2.7 0 1 0 5.4 0a2.7 2.7 0 1 0 -5.4 0M581.9 70.9a2.7 2.7 0 1 0 5.4 0a2.7 2.7 0 1 0 -5.4 0M582.7 71.0a2.7 2.7 0 1 0 5.4 0a2.7 2.7 0 1 0 -5.4 0M584.9 71.7a2.7 2.7 0 1 0 5.4 0a2.7 2.7 0 1 0 -5.4 0M586.4 70.1a2.7 2.7 0 1 0 5.4 0a2.7 2.7 0 1 0 -5.4 0M588.8 71.7a2.7 2.7 0 1 0 5.4 0a2.7 2.7 0 1 0 -5.4 0M592.0 71.6a2.7 2.7 0 1 0 5.4 0a2.7 2.7 0 1 0 -5.4 0M594.5 70.9a2.7 2.7 0 1 0 5.4 0a2.7 2.7 0 1 0 -5.4 0M575.1 71.1a2.7 2.7 0 1 0 5.4 0a2.7 2.7 0 1 0 -5.4 0M593.9 70.9a2.7 2.7 0 1 0 5.4 0a2.7 2.7 0 1 0 -5.4 0M578.4 71.9a2.7 2.7 0 1 0 5.4 0a2.7 2.7 0 1 0 -5.4 0M578.9 72.6a2.7 2.7 0 1 0 5.4 0a2.7 2.7 0 1 0 -5.4 0M580.5 73.0a2.7 2.7 0 1 0 5.4 0a2.7 2.7 0 1 0 -5.4 0M582.6 74.3a2.7 2.7 0 1 0 5.4 0a2.7 2.7 0 1 0 -5.4 0M585.3 73.7a2.7 2.7 0 1 0 5.4 0a2.7 2.7 0 1 0 -5.4 0M586.4 73.1a2.7 2.7 0 1 0 5.4 0a2.7 2.7 0 1 0 -5.4 0M589.6 74.1a2.7 2.7 0 1 0 5.4 0a2.7 2.7 0 1 0 -5.4 0M590.6 73.1a2.7 2.7 0 1 0 5.4 0a2.7 2.7 0 1 0 -5.4 0M594.2 74.1a2.7 2.7 0 1 0 5.4 0a2.7 2.7 0 1 0 -5.4 0M576.2 73.7a2.7 2.7 0 1 0 5.4 0a2.7 2.7 0 1 0 -5.4 0M594.5 73.5a2.7 2.7 0 1 0 5.4 0a2.7 2.7 0 1 0 -5.4 0M580.2 74.8a2.7 2.7 0 1 0 5.4 0a2.7 2.7 0 1 0 -5.4 0M582.4 74.7a2.7 2.7 0 1 0 5.4 0a2.7 2.7 0 1 0 -5.4 0M583.8 74.8a2.7 2.7 0 1 0 5.4 0a2.7 2.7 0 1 0 -5.4 0M585.3 74.3a2.7 2.7 0 1 0 5.4 0a2.7 2.7 0 1 0 -5.4 0M587.1 75.3a2.7 2.7 0 1 0 5.4 0a2.7 2.7 0 1 0 -5.4 0M589.1 74.0a2.7 2.7 0 1 0 5.4 0a2.7 2.7 0 1 0 -5.4 0M592.6 74.6a2.7 2.7 0 1 0 5.4 0a2.7 2.7 0 1 0 -5.4 0M594.9 75.5a2.7 2.7 0 1 0 5.4 0a2.7 2.7 0 1 0 -5.4 0M580.5 77.6a2.7 2.7 0 1 0 5.4 0a2.7 2.7 0 1 0 -5.4 0M584.4 77.5a2.7 2.7 0 1 0 5.4 0a2.7 2.7 0 1 0 -5.4 0M586.2 77.0a2.7 2.7 0 1 0 5.4 0a2.7 2.7 0 1 0 -5.4 0M587.8 76.6a2.7 2.7 0 1 0 5.4 0a2.7 2.7 0 1 0 -5.4 0M589.2 76.9a2.7 2.7 0 1 0 5.4 0a2.7 2.7 0 1 0 -5.4 0M591.2 76.9a2.7 2.7 0 1 0 5.4 0a2.7 2.7 0 1 0 -5.4 0M594.3 76.3a2.7 2.7 0 1 0 5.4 0a2.7 2.7 0 1 0 -5.4 0M577.6 78.1a2.7 2.7 0 1 0 5.4 0a2.7 2.7 0 1 0 -5.4 0M581.5 80.0a2.7 2.7 0 1 0 5.4 0a2.7 2.7 0 1 0 -5.4 0M582.2 79.8a2.7 2.7 0 1 0 5.4 0a2.7 2.7 0 1 0 -5.4 0M584.1 78.3a2.7 2.7 0 1 0 5.4 0a2.7 2.7 0 1 0 -5.4 0M587.5 80.1a2.7 2.7 0 1 0 5.4 0a2.7 2.7 0 1 0 -5.4 0M587.8 80.2a2.7 2.7 0 1 0 5.4 0a2.7 2.7 0 1 0 -5.4 0M589.3 78.7a2.7 2.7 0 1 0 5.4 0a2.7 2.7 0 1 0 -5.4 0M591.3 78.3a2.7 2.7 0 1 0 5.4 0a2.7 2.7 0 1 0 -5.4 0M593.7 79.8a2.7 2.7 0 1 0 5.4 0a2.7 2.7 0 1 0 -5.4 0M578.5 78.6a2.7 2.7 0 1 0 5.4 0a2.7 2.7 0 1 0 -5.4 0M595.6 79.4a2.7 2.7 0 1 0 5.4 0a2.7 2.7 0 1 0 -5.4 0M580.7 81.1a2.7 2.7 0 1 0 5.4 0a2.7 2.7 0 1 0 -5.4 0M582.7 81.6a2.7 2.7 0 1 0 5.4 0a2.7 2.7 0 1 0 -5.4 0M585.4 81.2a2.7 2.7 0 1 0 5.4 0a2.7 2.7 0 1 0 -5.4 0M586.9 81.1a2.7 2.7 0 1 0 5.4 0a2.7 2.7 0 1 0 -5.4 0M588.9 80.9a2.7 2.7 0 1 0 5.4 0a2.7 2.7 0 1 0 -5.4 0M590.4 81.2a2.7 2.7 0 1 0 5.4 0a2.7 2.7 0 1 0 -5.4 0M593.2 80.6a2.7 2.7 0 1 0 5.4 0a2.7 2.7 0 1 0 -5.4 0M595.7 81.2a2.7 2.7 0 1 0 5.4 0a2.7 2.7 0 1 0 -5.4 0M597.5 81.7a2.7 2.7 0 1 0 5.4 0a2.7 2.7 0 1 0 -5.4 0M582.1 83.9a2.7 2.7 0 1 0 5.4 0a2.7 2.7 0 1 0 -5.4 0M584.7 82.2a2.7 2.7 0 1 0 5.4 0a2.7 2.7 0 1 0 -5.4 0M584.7 82.2a2.7 2.7 0 1 0 5.4 0a2.7 2.7 0 1 0 -5.4 0M586.7 82.0a2.7 2.7 0 1 0 5.4 0a2.7 2.7 0 1 0 -5.4 0M588.5 82.5a2.7 2.7 0 1 0 5.4 0a2.7 2.7 0 1 0 -5.4 0M590.8 83.7a2.7 2.7 0 1 0 5.4 0a2.7 2.7 0 1 0 -5.4 0M594.1 84.4a2.7 2.7 0 1 0 5.4 0a2.7 2.7 0 1 0 -5.4 0M597.0 83.8a2.7 2.7 0 1 0 5.4 0a2.7 2.7 0 1 0 -5.4 0M599.1 84.1a2.7 2.7 0 1 0 5.4 0a2.7 2.7 0 1 0 -5.4 0M583.5 85.0a2.7 2.7 0 1 0 5.4 0a2.7 2.7 0 1 0 -5.4 0M584.9 84.7a2.7 2.7 0 1 0 5.4 0a2.7 2.7 0 1 0 -5.4 0M586.1 84.1a2.7 2.7 0 1 0 5.4 0a2.7 2.7 0 1 0 -5.4 0M589.1 86.4a2.7 2.7 0 1 0 5.4 0a2.7 2.7 0 1 0 -5.4 0M592.1 85.9a2.7 2.7 0 1 0 5.4 0a2.7 2.7 0 1 0 -5.4 0M593.9 84.8a2.7 2.7 0 1 0 5.4 0a2.7 2.7 0 1 0 -5.4 0M594.3 86.3a2.7 2.7 0 1 0 5.4 0a2.7 2.7 0 1 0 -5.4 0M582.3 87.8a2.7 2.7 0 1 0 5.4 0a2.7 2.7 0 1 0 -5.4 0M585.2 87.9a2.7 2.7 0 1 0 5.4 0a2.7 2.7 0 1 0 -5.4 0M585.9 86.9a2.7 2.7 0 1 0 5.4 0a2.7 2.7 0 1 0 -5.4 0M589.3 88.5a2.7 2.7 0 1 0 5.4 0a2.7 2.7 0 1 0 -5.4 0M590.3 86.4a2.7 2.7 0 1 0 5.4 0a2.7 2.7 0 1 0 -5.4 0M592.7 87.3a2.7 2.7 0 1 0 5.4 0a2.7 2.7 0 1 0 -5.4 0M594.0 86.5a2.7 2.7 0 1 0 5.4 0a2.7 2.7 0 1 0 -5.4 0M596.1 87.5a2.7 2.7 0 1 0 5.4 0a2.7 2.7 0 1 0 -5.4 0M582.7 88.1a2.7 2.7 0 1 0 5.4 0a2.7 2.7 0 1 0 -5.4 0M582.0 89.8a2.7 2.7 0 1 0 5.4 0a2.7 2.7 0 1 0 -5.4 0M585.4 88.3a2.7 2.7 0 1 0 5.4 0a2.7 2.7 0 1 0 -5.4 0M587.2 89.4a2.7 2.7 0 1 0 5.4 0a2.7 2.7 0 1 0 -5.4 0M589.2 88.9a2.7 2.7 0 1 0 5.4 0a2.7 2.7 0 1 0 -5.4 0M590.5 88.8a2.7 2.7 0 1 0 5.4 0a2.7 2.7 0 1 0 -5.4 0M594.3 88.8a2.7 2.7 0 1 0 5.4 0a2.7 2.7 0 1 0 -5.4 0M595.0 89.1a2.7 2.7 0 1 0 5.4 0a2.7 2.7 0 1 0 -5.4 0M596.2 88.9a2.7 2.7 0 1 0 5.4 0a2.7 2.7 0 1 0 -5.4 0M582.9 88.9a2.7 2.7 0 1 0 5.4 0a2.7 2.7 0 1 0 -5.4 0M599.5 88.8a2.7 2.7 0 1 0 5.4 0a2.7 2.7 0 1 0 -5.4 0M583.7 91.2a2.7 2.7 0 1 0 5.4 0a2.7 2.7 0 1 0 -5.4 0M586.3 90.1a2.7 2.7 0 1 0 5.4 0a2.7 2.7 0 1 0 -5.4 0M588.4 90.2a2.7 2.7 0 1 0 5.4 0a2.7 2.7 0 1 0 -5.4 0M589.3 92.0a2.7 2.7 0 1 0 5.4 0a2.7 2.7 0 1 0 -5.4 0M593.2 91.7a2.7 2.7 0 1 0 5.4 0a2.7 2.7 0 1 0 -5.4 0M593.1 91.0a2.7 2.7 0 1 0 5.4 0a2.7 2.7 0 1 0 -5.4 0M595.4 92.1a2.7 2.7 0 1 0 5.4 0a2.7 2.7 0 1 0 -5.4 0M597.2 90.4a2.7 2.7 0 1 0 5.4 0a2.7 2.7 0 1 0 -5.4 0M600.3 91.6a2.7 2.7 0 1 0 5.4 0a2.7 2.7 0 1 0 -5.4 0M587.6 92.9a2.7 2.7 0 1 0 5.4 0a2.7 2.7 0 1 0 -5.4 0M588.4 92.8a2.7 2.7 0 1 0 5.4 0a2.7 2.7 0 1 0 -5.4 0M591.1 93.9a2.7 2.7 0 1 0 5.4 0a2.7 2.7 0 1 0 -5.4 0M591.8 93.3a2.7 2.7 0 1 0 5.4 0a2.7 2.7 0 1 0 -5.4 0M595.1 93.2a2.7 2.7 0 1 0 5.4 0a2.7 2.7 0 1 0 -5.4 0M596.9 93.5a2.7 2.7 0 1 0 5.4 0a2.7 2.7 0 1 0 -5.4 0M599.1 92.8a2.7 2.7 0 1 0 5.4 0a2.7 2.7 0 1 0 -5.4 0M600.0 92.0a2.7 2.7 0 1 0 5.4 0a2.7 2.7 0 1 0 -5.4 0M587.7 94.3a2.7 2.7 0 1 0 5.4 0a2.7 2.7 0 1 0 -5.4 0M589.5 95.0a2.7 2.7 0 1 0 5.4 0a2.7 2.7 0 1 0 -5.4 0M590.1 94.6a2.7 2.7 0 1 0 5.4 0a2.7 2.7 0 1 0 -5.4 0M592.4 94.0a2.7 2.7 0 1 0 5.4 0a2.7 2.7 0 1 0 -5.4 0M593.4 94.2a2.7 2.7 0 1 0 5.4 0a2.7 2.7 0 1 0 -5.4 0M596.1 94.3a2.7 2.7 0 1 0 5.4 0a2.7 2.7 0 1 0 -5.4 0M597.6 96.1a2.7 2.7 0 1 0 5.4 0a2.7 2.7 0 1 0 -5.4 0M600.3 95.2a2.7 2.7 0 1 0 5.4 0a2.7 2.7 0 1 0 -5.4 0M602.9 96.3a2.7 2.7 0 1 0 5.4 0a2.7 2.7 0 1 0 -5.4 0M584.6 95.9a2.7 2.7 0 1 0 5.4 0a2.7 2.7 0 1 0 -5.4 0M587.9 96.4a2.7 2.7 0 1 0 5.4 0a2.7 2.7 0 1 0 -5.4 0M591.3 97.9a2.7 2.7 0 1 0 5.4 0a2.7 2.7 0 1 0 -5.4 0M592.4 98.0a2.7 2.7 0 1 0 5.4 0a2.7 2.7 0 1 0 -5.4 0M593.6 97.3a2.7 2.7 0 1 0 5.4 0a2.7 2.7 0 1 0 -5.4 0M597.3 96.2a2.7 2.7 0 1 0 5.4 0a2.7 2.7 0 1 0 -5.4 0M598.6 96.4a2.7 2.7 0 1 0 5.4 0a2.7 2.7 0 1 0 -5.4 0M601.1 98.1a2.7 2.7 0 1 0 5.4 0a2.7 2.7 0 1 0 -5.4 0M602.6 97.0a2.7 2.7 0 1 0 5.4 0a2.7 2.7 0 1 0 -5.4 0M585.6 96.9a2.7 2.7 0 1 0 5.4 0a2.7 2.7 0 1 0 -5.4 0M604.8 98.0a2.7 2.7 0 1 0 5.4 0a2.7 2.7 0 1 0 -5.4 0M589.2 100.2a2.7 2.7 0 1 0 5.4 0a2.7 2.7 0 1 0 -5.4 0M590.4 99.3a2.7 2.7 0 1 0 5.4 0a2.7 2.7 0 1 0 -5.4 0M593.2 98.9a2.7 2.7 0 1 0 5.4 0a2.7 2.7 0 1 0 -5.4 0M595.3 98.0a2.7 2.7 0 1 0 5.4 0a2.7 2.7 0 1 0 -5.4 0M597.1 99.3a2.7 2.7 0 1 0 5.4 0a2.7 2.7 0 1 0 -5.4 0M598.6 100.5a2.7 2.7 0 1 0 5.4 0a2.7 2.7 0 1 0 -5.4 0M599.6 99.0a2.7 2.7 0 1 0 5.4 0a2.7 2.7 0 1 0 -5.4 0M603.1 99.8a2.7 2.7 0 1 0 5.4 0a2.7 2.7 0 1 0 -5.4 0M589.3 100.8a2.7 2.7 0 1 0 5.4 0a2.7 2.7 0 1 0 -5.4 0M590.3 100.1a2.7 2.7 0 1 0 5.4 0a2.7 2.7 0 1 0 -5.4 0M591.9 100.0a2.7 2.7 0 1 0 5.4 0a2.7 2.7 0 1 0 -5.4 0M596.1 100.3a2.7 2.7 0 1 0 5.4 0a2.7 2.7 0 1 0 -5.4 0M597.2 100.2a2.7 2.7 0 1 0 5.4 0a2.7 2.7 0 1 0 -5.4 0M600.1 101.3a2.7 2.7 0 1 0 5.4 0a2.7 2.7 0 1 0 -5.4 0M600.1 102.0a2.7 2.7 0 1 0 5.4 0a2.7 2.7 0 1 0 -5.4 0M603.8 102.4a2.7 2.7 0 1 0 5.4 0a2.7 2.7 0 1 0 -5.4 0M586.3 101.5a2.7 2.7 0 1 0 5.4 0a2.7 2.7 0 1 0 -5.4 0M603.8 101.6a2.7 2.7 0 1 0 5.4 0a2.7 2.7 0 1 0 -5.4 0M590.3 102.6a2.7 2.7 0 1 0 5.4 0a2.7 2.7 0 1 0 -5.4 0M592.3 103.0a2.7 2.7 0 1 0 5.4 0a2.7 2.7 0 1 0 -5.4 0M592.8 102.0a2.7 2.7 0 1 0 5.4 0a2.7 2.7 0 1 0 -5.4 0M596.0 102.8a2.7 2.7 0 1 0 5.4 0a2.7 2.7 0 1 0 -5.4 0M596.6 103.2a2.7 2.7 0 1 0 5.4 0a2.7 2.7 0 1 0 -5.4 0M599.4 102.7a2.7 2.7 0 1 0 5.4 0a2.7 2.7 0 1 0 -5.4 0M601.8 103.3a2.7 2.7 0 1 0 5.4 0a2.7 2.7 0 1 0 -5.4 0M603.7 104.5a2.7 2.7 0 1 0 5.4 0a2.7 2.7 0 1 0 -5.4 0M603.1 102.8a2.7 2.7 0 1 0 5.4 0a2.7 2.7 0 1 0 -5.4 0M590.3 106.3a2.7 2.7 0 1 0 5.4 0a2.7 2.7 0 1 0 -5.4 0M593.2 105.7a2.7 2.7 0 1 0 5.4 0a2.7 2.7 0 1 0 -5.4 0M594.0 104.2a2.7 2.7 0 1 0 5.4 0a2.7 2.7 0 1 0 -5.4 0M598.0 104.1a2.7 2.7 0 1 0 5.4 0a2.7 2.7 0 1 0 -5.4 0M597.9 105.0a2.7 2.7 0 1 0 5.4 0a2.7 2.7 0 1 0 -5.4 0M601.6 105.7a2.7 2.7 0 1 0 5.4 0a2.7 2.7 0 1 0 -5.4 0M604.1 105.9a2.7 2.7 0 1 0 5.4 0a2.7 2.7 0 1 0 -5.4 0M591.1 108.2a2.7 2.7 0 1 0 5.4 0a2.7 2.7 0 1 0 -5.4 0M592.3 107.1a2.7 2.7 0 1 0 5.4 0a2.7 2.7 0 1 0 -5.4 0M593.1 106.5a2.7 2.7 0 1 0 5.4 0a2.7 2.7 0 1 0 -5.4 0M594.7 106.1a2.7 2.7 0 1 0 5.4 0a2.7 2.7 0 1 0 -5.4 0M597.8 108.2a2.7 2.7 0 1 0 5.4 0a2.7 2.7 0 1 0 -5.4 0M601.0 107.2a2.7 2.7 0 1 0 5.4 0a2.7 2.7 0 1 0 -5.4 0M602.3 107.1a2.7 2.7 0 1 0 5.4 0a2.7 2.7 0 1 0 -5.4 0M591.8 109.4a2.7 2.7 0 1 0 5.4 0a2.7 2.7 0 1 0 -5.4 0M592.5 109.1a2.7 2.7 0 1 0 5.4 0a2.7 2.7 0 1 0 -5.4 0M595.2 108.3a2.7 2.7 0 1 0 5.4 0a2.7 2.7 0 1 0 -5.4 0M596.6 109.0a2.7 2.7 0 1 0 5.4 0a2.7 2.7 0 1 0 -5.4 0M598.5 109.5a2.7 2.7 0 1 0 5.4 0a2.7 2.7 0 1 0 -5.4 0M600.9 110.5a2.7 2.7 0 1 0 5.4 0a2.7 2.7 0 1 0 -5.4 0M603.8 109.2a2.7 2.7 0 1 0 5.4 0a2.7 2.7 0 1 0 -5.4 0M607.4 110.1a2.7 2.7 0 1 0 5.4 0a2.7 2.7 0 1 0 -5.4 0M592.5 110.3a2.7 2.7 0 1 0 5.4 0a2.7 2.7 0 1 0 -5.4 0M594.3 110.3a2.7 2.7 0 1 0 5.4 0a2.7 2.7 0 1 0 -5.4 0M595.7 111.4a2.7 2.7 0 1 0 5.4 0a2.7 2.7 0 1 0 -5.4 0M597.3 110.5a2.7 2.7 0 1 0 5.4 0a2.7 2.7 0 1 0 -5.4 0M600.8 111.2a2.7 2.7 0 1 0 5.4 0a2.7 2.7 0 1 0 -5.4 0M603.2 110.3a2.7 2.7 0 1 0 5.4 0a2.7 2.7 0 1 0 -5.4 0M603.1 112.3a2.7 2.7 0 1 0 5.4 0a2.7 2.7 0 1 0 -5.4 0M593.0 113.2a2.7 2.7 0 1 0 5.4 0a2.7 2.7 0 1 0 -5.4 0M594.9 112.3a2.7 2.7 0 1 0 5.4 0a2.7 2.7 0 1 0 -5.4 0M595.2 113.3a2.7 2.7 0 1 0 5.4 0a2.7 2.7 0 1 0 -5.4 0M597.1 114.1a2.7 2.7 0 1 0 5.4 0a2.7 2.7 0 1 0 -5.4 0M599.2 112.1a2.7 2.7 0 1 0 5.4 0a2.7 2.7 0 1 0 -5.4 0M600.9 112.6a2.7 2.7 0 1 0 5.4 0a2.7 2.7 0 1 0 -5.4 0M605.0 114.2a2.7 2.7 0 1 0 5.4 0a2.7 2.7 0 1 0 -5.4 0M609.2 113.9a2.7 2.7 0 1 0 5.4 0a2.7 2.7 0 1 0 -5.4 0M590.4 116.1a2.7 2.7 0 1 0 5.4 0a2.7 2.7 0 1 0 -5.4 0M591.7 114.1a2.7 2.7 0 1 0 5.4 0a2.7 2.7 0 1 0 -5.4 0M595.6 113.9a2.7 2.7 0 1 0 5.4 0a2.7 2.7 0 1 0 -5.4 0M597.1 114.3a2.7 2.7 0 1 0 5.4 0a2.7 2.7 0 1 0 -5.4 0M598.0 114.4a2.7 2.7 0 1 0 5.4 0a2.7 2.7 0 1 0 -5.4 0M600.4 116.3a2.7 2.7 0 1 0 5.4 0a2.7 2.7 0 1 0 -5.4 0M603.4 115.3a2.7 2.7 0 1 0 5.4 0a2.7 2.7 0 1 0 -5.4 0M603.5 114.4a2.7 2.7 0 1 0 5.4 0a2.7 2.7 0 1 0 -5.4 0M590.0 116.0a2.7 2.7 0 1 0 5.4 0a2.7 2.7 0 1 0 -5.4 0M608.6 116.1a2.7 2.7 0 1 0 5.4 0a2.7 2.7 0 1 0 -5.4 0M589.4 118.2a2.7 2.7 0 1 0 5.4 0a2.7 2.7 0 1 0 -5.4 0M591.4 117.8a2.7 2.7 0 1 0 5.4 0a2.7 2.7 0 1 0 -5.4 0M593.0 117.6a2.7 2.7 0 1 0 5.4 0a2.7 2.7 0 1 0 -5.4 0M595.1 117.4a2.7 2.7 0 1 0 5.4 0a2.7 2.7 0 1 0 -5.4 0M598.6 118.2a2.7 2.7 0 1 0 5.4 0a2.7 2.7 0 1 0 -5.4 0M599.8 118.5a2.7 2.7 0 1 0 5.4 0a2.7 2.7 0 1 0 -5.4 0M601.8 118.4a2.7 2.7 0 1 0 5.4 0a2.7 2.7 0 1 0 -5.4 0M605.1 118.5a2.7 2.7 0 1 0 5.4 0a2.7 2.7 0 1 0 -5.4 0M589.1 117.6a2.7 2.7 0 1 0 5.4 0a2.7 2.7 0 1 0 -5.4 0M590.1 117.9a2.7 2.7 0 1 0 5.4 0a2.7 2.7 0 1 0 -5.4 0M591.0 117.9a2.7 2.7 0 1 0 5.4 0a2.7 2.7 0 1 0 -5.4 0M593.4 120.3a2.7 2.7 0 1 0 5.4 0a2.7 2.7 0 1 0 -5.4 0M596.6 120.1a2.7 2.7 0 1 0 5.4 0a2.7 2.7 0 1 0 -5.4 0M599.2 118.9a2.7 2.7 0 1 0 5.4 0a2.7 2.7 0 1 0 -5.4 0M600.6 119.6a2.7 2.7 0 1 0 5.4 0a2.7 2.7 0 1 0 -5.4 0M602.6 118.1a2.7 2.7 0 1 0 5.4 0a2.7 2.7 0 1 0 -5.4 0M605.1 118.3a2.7 2.7 0 1 0 5.4 0a2.7 2.7 0 1 0 -5.4 0M606.0 119.7a2.7 2.7 0 1 0 5.4 0a2.7 2.7 0 1 0 -5.4 0M591.5 120.0a2.7 2.7 0 1 0 5.4 0a2.7 2.7 0 1 0 -5.4 0M593.8 120.7a2.7 2.7 0 1 0 5.4 0a2.7 2.7 0 1 0 -5.4 0M594.6 120.7a2.7 2.7 0 1 0 5.4 0a2.7 2.7 0 1 0 -5.4 0M597.4 120.4a2.7 2.7 0 1 0 5.4 0a2.7 2.7 0 1 0 -5.4 0M597.9 120.1a2.7 2.7 0 1 0 5.4 0a2.7 2.7 0 1 0 -5.4 0M599.9 121.5a2.7 2.7 0 1 0 5.4 0a2.7 2.7 0 1 0 -5.4 0M604.1 119.9a2.7 2.7 0 1 0 5.4 0a2.7 2.7 0 1 0 -5.4 0M604.8 120.8a2.7 2.7 0 1 0 5.4 0a2.7 2.7 0 1 0 -5.4 0M590.3 120.4a2.7 2.7 0 1 0 5.4 0a2.7 2.7 0 1 0 -5.4 0M609.5 120.3a2.7 2.7 0 1 0 5.4 0a2.7 2.7 0 1 0 -5.4 0M591.7 124.5a2.7 2.7 0 1 0 5.4 0a2.7 2.7 0 1 0 -5.4 0M594.0 123.8a2.7 2.7 0 1 0 5.4 0a2.7 2.7 0 1 0 -5.4 0M594.5 122.2a2.7 2.7 0 1 0 5.4 0a2.7 2.7 0 1 0 -5.4 0M598.4 123.7a2.7 2.7 0 1 0 5.4 0a2.7 2.7 0 1 0 -5.4 0M599.7 122.3a2.7 2.7 0 1 0 5.4 0a2.7 2.7 0 1 0 -5.4 0M601.9 123.3a2.7 2.7 0 1 0 5.4 0a2.7 2.7 0 1 0 -5.4 0M602.1 122.4a2.7 2.7 0 1 0 5.4 0a2.7 2.7 0 1 0 -5.4 0M606.4 123.5a2.7 2.7 0 1 0 5.4 0a2.7 2.7 0 1 0 -5.4 0M606.1 122.1a2.7 2.7 0 1 0 5.4 0a2.7 2.7 0 1 0 -5.4 0M609.1 122.5a2.7 2.7 0 1 0 5.4 0a2.7 2.7 0 1 0 -5.4 0M591.6 124.4a2.7 2.7 0 1 0 5.4 0a2.7 2.7 0 1 0 -5.4 0M592.9 125.1a2.7 2.7 0 1 0 5.4 0a2.7 2.7 0 1 0 -5.4 0M594.8 124.1a2.7 2.7 0 1 0 5.4 0a2.7 2.7 0 1 0 -5.4 0M597.7 124.0a2.7 2.7 0 1 0 5.4 0a2.7 2.7 0 1 0 -5.4 0M600.4 125.9a2.7 2.7 0 1 0 5.4 0a2.7 2.7 0 1 0 -5.4 0M602.3 126.4a2.7 2.7 0 1 0 5.4 0a2.7 2.7 0 1 0 -5.4 0M602.9 125.0a2.7 2.7 0 1 0 5.4 0a2.7 2.7 0 1 0 -5.4 0M605.6 124.1a2.7 2.7 0 1 0 5.4 0a2.7 2.7 0 1 0 -5.4 0M608.7 124.0a2.7 2.7 0 1 0 5.4 0a2.7 2.7 0 1 0 -5.4 0M595.7 128.4a2.7 2.7 0 1 0 5.4 0a2.7 2.7 0 1 0 -5.4 0M597.4 127.4a2.7 2.7 0 1 0 5.4 0a2.7 2.7 0 1 0 -5.4 0M599.1 127.2a2.7 2.7 0 1 0 5.4 0a2.7 2.7 0 1 0 -5.4 0M601.6 127.4a2.7 2.7 0 1 0 5.4 0a2.7 2.7 0 1 0 -5.4 0M602.8 127.0a2.7 2.7 0 1 0 5.4 0a2.7 2.7 0 1 0 -5.4 0M605.0 127.4a2.7 2.7 0 1 0 5.4 0a2.7 2.7 0 1 0 -5.4 0M607.9 127.9a2.7 2.7 0 1 0 5.4 0a2.7 2.7 0 1 0 -5.4 0M593.7 126.7a2.7 2.7 0 1 0 5.4 0a2.7 2.7 0 1 0 -5.4 0M594.1 128.3a2.7 2.7 0 1 0 5.4 0a2.7 2.7 0 1 0 -5.4 0M596.4 129.5a2.7 2.7 0 1 0 5.4 0a2.7 2.7 0 1 0 -5.4 0M598.4 129.4a2.7 2.7 0 1 0 5.4 0a2.7 2.7 0 1 0 -5.4 0M602.2 129.0a2.7 2.7 0 1 0 5.4 0a2.7 2.7 0 1 0 -5.4 0M602.5 129.5a2.7 2.7 0 1 0 5.4 0a2.7 2.7 0 1 0 -5.4 0M605.0 129.0a2.7 2.7 0 1 0 5.4 0a2.7 2.7 0 1 0 -5.4 0M606.4 129.7a2.7 2.7 0 1 0 5.4 0a2.7 2.7 0 1 0 -5.4 0M608.8 130.5a2.7 2.7 0 1 0 5.4 0a2.7 2.7 0 1 0 -5.4 0M595.6 132.3a2.7 2.7 0 1 0 5.4 0a2.7 2.7 0 1 0 -5.4 0M597.8 132.4a2.7 2.7 0 1 0 5.4 0a2.7 2.7 0 1 0 -5.4 0M601.6 130.6a2.7 2.7 0 1 0 5.4 0a2.7 2.7 0 1 0 -5.4 0M603.4 131.4a2.7 2.7 0 1 0 5.4 0a2.7 2.7 0 1 0 -5.4 0M604.7 131.5a2.7 2.7 0 1 0 5.4 0a2.7 2.7 0 1 0 -5.4 0M606.7 131.6a2.7 2.7 0 1 0 5.4 0a2.7 2.7 0 1 0 -5.4 0M609.3 129.9a2.7 2.7 0 1 0 5.4 0a2.7 2.7 0 1 0 -5.4 0M611.2 131.7a2.7 2.7 0 1 0 5.4 0a2.7 2.7 0 1 0 -5.4 0M596.1 134.2a2.7 2.7 0 1 0 5.4 0a2.7 2.7 0 1 0 -5.4 0M597.8 134.2a2.7 2.7 0 1 0 5.4 0a2.7 2.7 0 1 0 -5.4 0M600.0 132.9a2.7 2.7 0 1 0 5.4 0a2.7 2.7 0 1 0 -5.4 0M603.3 132.0a2.7 2.7 0 1 0 5.4 0a2.7 2.7 0 1 0 -5.4 0M604.8 134.0a2.7 2.7 0 1 0 5.4 0a2.7 2.7 0 1 0 -5.4 0M606.6 132.4a2.7 2.7 0 1 0 5.4 0a2.7 2.7 0 1 0 -5.4 0M607.8 134.4a2.7 2.7 0 1 0 5.4 0a2.7 2.7 0 1 0 -5.4 0M609.9 133.6a2.7 2.7 0 1 0 5.4 0a2.7 2.7 0 1 0 -5.4 0M613.2 133.6a2.7 2.7 0 1 0 5.4 0a2.7 2.7 0 1 0 -5.4 0M597.4 134.4a2.7 2.7 0 1 0 5.4 0a2.7 2.7 0 1 0 -5.4 0M598.2 135.1a2.7 2.7 0 1 0 5.4 0a2.7 2.7 0 1 0 -5.4 0M601.0 136.1a2.7 2.7 0 1 0 5.4 0a2.7 2.7 0 1 0 -5.4 0M603.0 135.5a2.7 2.7 0 1 0 5.4 0a2.7 2.7 0 1 0 -5.4 0M604.4 134.1a2.7 2.7 0 1 0 5.4 0a2.7 2.7 0 1 0 -5.4 0M606.5 135.0a2.7 2.7 0 1 0 5.4 0a2.7 2.7 0 1 0 -5.4 0M608.9 134.9a2.7 2.7 0 1 0 5.4 0a2.7 2.7 0 1 0 -5.4 0M609.3 134.9a2.7 2.7 0 1 0 5.4 0a2.7 2.7 0 1 0 -5.4 0M596.6 136.6a2.7 2.7 0 1 0 5.4 0a2.7 2.7 0 1 0 -5.4 0M599.3 136.2a2.7 2.7 0 1 0 5.4 0a2.7 2.7 0 1 0 -5.4 0M602.5 136.8a2.7 2.7 0 1 0 5.4 0a2.7 2.7 0 1 0 -5.4 0M602.1 136.5a2.7 2.7 0 1 0 5.4 0a2.7 2.7 0 1 0 -5.4 0M605.4 137.5a2.7 2.7 0 1 0 5.4 0a2.7 2.7 0 1 0 -5.4 0M608.2 136.1a2.7 2.7 0 1 0 5.4 0a2.7 2.7 0 1 0 -5.4 0M610.6 138.1a2.7 2.7 0 1 0 5.4 0a2.7 2.7 0 1 0 -5.4 0M611.4 137.6a2.7 2.7 0 1 0 5.4 0a2.7 2.7 0 1 0 -5.4 0M594.7 136.2a2.7 2.7 0 1 0 5.4 0a2.7 2.7 0 1 0 -5.4 0M599.1 139.1a2.7 2.7 0 1 0 5.4 0a2.7 2.7 0 1 0 -5.4 0M601.3 138.2a2.7 2.7 0 1 0 5.4 0a2.7 2.7 0 1 0 -5.4 0M603.5 138.4a2.7 2.7 0 1 0 5.4 0a2.7 2.7 0 1 0 -5.4 0M605.1 139.5a2.7 2.7 0 1 0 5.4 0a2.7 2.7 0 1 0 -5.4 0M607.7 139.5a2.7 2.7 0 1 0 5.4 0a2.7 2.7 0 1 0 -5.4 0M608.0 140.0a2.7 2.7 0 1 0 5.4 0a2.7 2.7 0 1 0 -5.4 0M610.5 139.4a2.7 2.7 0 1 0 5.4 0a2.7 2.7 0 1 0 -5.4 0M613.6 140.4a2.7 2.7 0 1 0 5.4 0a2.7 2.7 0 1 0 -5.4 0M596.0 138.8a2.7 2.7 0 1 0 5.4 0a2.7 2.7 0 1 0 -5.4 0M599.4 141.0a2.7 2.7 0 1 0 5.4 0a2.7 2.7 0 1 0 -5.4 0M601.3 141.7a2.7 2.7 0 1 0 5.4 0a2.7 2.7 0 1 0 -5.4 0M601.6 140.7a2.7 2.7 0 1 0 5.4 0a2.7 2.7 0 1 0 -5.4 0M603.6 142.1a2.7 2.7 0 1 0 5.4 0a2.7 2.7 0 1 0 -5.4 0M606.3 140.7a2.7 2.7 0 1 0 5.4 0a2.7 2.7 0 1 0 -5.4 0M609.2 142.5a2.7 2.7 0 1 0 5.4 0a2.7 2.7 0 1 0 -5.4 0M609.7 141.7a2.7 2.7 0 1 0 5.4 0a2.7 2.7 0 1 0 -5.4 0M611.9 142.0a2.7 2.7 0 1 0 5.4 0a2.7 2.7 0 1 0 -5.4 0M615.2 141.9a2.7 2.7 0 1 0 5.4 0a2.7 2.7 0 1 0 -5.4 0M615.8 140.4a2.7 2.7 0 1 0 5.4 0a2.7 2.7 0 1 0 -5.4 0M598.6 143.1a2.7 2.7 0 1 0 5.4 0a2.7 2.7 0 1 0 -5.4 0M601.6 143.6a2.7 2.7 0 1 0 5.4 0a2.7 2.7 0 1 0 -5.4 0M602.7 143.0a2.7 2.7 0 1 0 5.4 0a2.7 2.7 0 1 0 -5.4 0M606.2 143.8a2.7 2.7 0 1 0 5.4 0a2.7 2.7 0 1 0 -5.4 0M606.3 143.7a2.7 2.7 0 1 0 5.4 0a2.7 2.7 0 1 0 -5.4 0M610.1 143.5a2.7 2.7 0 1 0 5.4 0a2.7 2.7 0 1 0 -5.4 0M612.2 142.6a2.7 2.7 0 1 0 5.4 0a2.7 2.7 0 1 0 -5.4 0M612.6 144.2a2.7 2.7 0 1 0 5.4 0a2.7 2.7 0 1 0 -5.4 0M614.6 142.2a2.7 2.7 0 1 0 5.4 0a2.7 2.7 0 1 0 -5.4 0M616.3 144.2a2.7 2.7 0 1 0 5.4 0a2.7 2.7 0 1 0 -5.4 0M616.8 142.6a2.7 2.7 0 1 0 5.4 0a2.7 2.7 0 1 0 -5.4 0M600.1 145.9a2.7 2.7 0 1 0 5.4 0a2.7 2.7 0 1 0 -5.4 0M601.9 145.5a2.7 2.7 0 1 0 5.4 0a2.7 2.7 0 1 0 -5.4 0M602.9 145.1a2.7 2.7 0 1 0 5.4 0a2.7 2.7 0 1 0 -5.4 0M606.6 144.9a2.7 2.7 0 1 0 5.4 0a2.7 2.7 0 1 0 -5.4 0M608.5 145.5a2.7 2.7 0 1 0 5.4 0a2.7 2.7 0 1 0 -5.4 0M610.7 145.8a2.7 2.7 0 1 0 5.4 0a2.7 2.7 0 1 0 -5.4 0M611.4 146.0a2.7 2.7 0 1 0 5.4 0a2.7 2.7 0 1 0 -5.4 0M614.7 145.0a2.7 2.7 0 1 0 5.4 0a2.7 2.7 0 1 0 -5.4 0M617.8 144.8a2.7 2.7 0 1 0 5.4 0a2.7 2.7 0 1 0 -5.4 0M601.1 147.5a2.7 2.7 0 1 0 5.4 0a2.7 2.7 0 1 0 -5.4 0M602.4 147.3a2.7 2.7 0 1 0 5.4 0a2.7 2.7 0 1 0 -5.4 0M604.0 146.4a2.7 2.7 0 1 0 5.4 0a2.7 2.7 0 1 0 -5.4 0M606.5 147.1a2.7 2.7 0 1 0 5.4 0a2.7 2.7 0 1 0 -5.4 0M607.7 147.2a2.7 2.7 0 1 0 5.4 0a2.7 2.7 0 1 0 -5.4 0M609.1 147.6a2.7 2.7 0 1 0 5.4 0a2.7 2.7 0 1 0 -5.4 0M612.8 146.9a2.7 2.7 0 1 0 5.4 0a2.7 2.7 0 1 0 -5.4 0M613.2 148.4a2.7 2.7 0 1 0 5.4 0a2.7 2.7 0 1 0 -5.4 0M619.7 147.3a2.7 2.7 0 1 0 5.4 0a2.7 2.7 0 1 0 -5.4 0M600.3 148.6a2.7 2.7 0 1 0 5.4 0a2.7 2.7 0 1 0 -5.4 0M601.5 148.1a2.7 2.7 0 1 0 5.4 0a2.7 2.7 0 1 0 -5.4 0M603.0 149.4a2.7 2.7 0 1 0 5.4 0a2.7 2.7 0 1 0 -5.4 0M606.7 149.0a2.7 2.7 0 1 0 5.4 0a2.7 2.7 0 1 0 -5.4 0M608.9 148.6a2.7 2.7 0 1 0 5.4 0a2.7 2.7 0 1 0 -5.4 0M608.7 150.1a2.7 2.7 0 1 0 5.4 0a2.7 2.7 0 1 0 -5.4 0M611.4 148.6a2.7 2.7 0 1 0 5.4 0a2.7 2.7 0 1 0 -5.4 0M613.6 149.5a2.7 2.7 0 1 0 5.4 0a2.7 2.7 0 1 0 -5.4 0M615.0 148.2a2.7 2.7 0 1 0 5.4 0a2.7 2.7 0 1 0 -5.4 0M618.0 149.6a2.7 2.7 0 1 0 5.4 0a2.7 2.7 0 1 0 -5.4 0M617.9 149.1a2.7 2.7 0 1 0 5.4 0a2.7 2.7 0 1 0 -5.4 0M599.7 151.2a2.7 2.7 0 1 0 5.4 0a2.7 2.7 0 1 0 -5.4 0M602.5 151.6a2.7 2.7 0 1 0 5.4 0a2.7 2.7 0 1 0 -5.4 0M603.9 150.5a2.7 2.7 0 1 0 5.4 0a2.7 2.7 0 1 0 -5.4 0M605.9 151.4a2.7 2.7 0 1 0 5.4 0a2.7 2.7 0 1 0 -5.4 0M608.1 152.3a2.7 2.7 0 1 0 5.4 0a2.7 2.7 0 1 0 -5.4 0M611.6 151.8a2.7 2.7 0 1 0 5.4 0a2.7 2.7 0 1 0 -5.4 0M612.4 152.0a2.7 2.7 0 1 0 5.4 0a2.7 2.7 0 1 0 -5.4 0M614.8 151.9a2.7 2.7 0 1 0 5.4 0a2.7 2.7 0 1 0 -5.4 0M617.8 150.2a2.7 2.7 0 1 0 5.4 0a2.7 2.7 0 1 0 -5.4 0M619.3 152.3a2.7 2.7 0 1 0 5.4 0a2.7 2.7 0 1 0 -5.4 0M620.9 152.0a2.7 2.7 0 1 0 5.4 0a2.7 2.7 0 1 0 -5.4 0M599.4 153.2a2.7 2.7 0 1 0 5.4 0a2.7 2.7 0 1 0 -5.4 0M602.9 154.3a2.7 2.7 0 1 0 5.4 0a2.7 2.7 0 1 0 -5.4 0M604.9 152.2a2.7 2.7 0 1 0 5.4 0a2.7 2.7 0 1 0 -5.4 0M607.6 154.2a2.7 2.7 0 1 0 5.4 0a2.7 2.7 0 1 0 -5.4 0M609.3 154.2a2.7 2.7 0 1 0 5.4 0a2.7 2.7 0 1 0 -5.4 0M611.3 153.7a2.7 2.7 0 1 0 5.4 0a2.7 2.7 0 1 0 -5.4 0M613.2 152.0a2.7 2.7 0 1 0 5.4 0a2.7 2.7 0 1 0 -5.4 0M615.7 151.9a2.7 2.7 0 1 0 5.4 0a2.7 2.7 0 1 0 -5.4 0M616.3 153.4a2.7 2.7 0 1 0 5.4 0a2.7 2.7 0 1 0 -5.4 0M619.9 152.8a2.7 2.7 0 1 0 5.4 0a2.7 2.7 0 1 0 -5.4 0M601.4 155.6a2.7 2.7 0 1 0 5.4 0a2.7 2.7 0 1 0 -5.4 0M603.7 154.0a2.7 2.7 0 1 0 5.4 0a2.7 2.7 0 1 0 -5.4 0M605.7 156.3a2.7 2.7 0 1 0 5.4 0a2.7 2.7 0 1 0 -5.4 0M607.9 155.8a2.7 2.7 0 1 0 5.4 0a2.7 2.7 0 1 0 -5.4 0M609.5 156.4a2.7 2.7 0 1 0 5.4 0a2.7 2.7 0 1 0 -5.4 0M611.9 156.0a2.7 2.7 0 1 0 5.4 0a2.7 2.7 0 1 0 -5.4 0M614.2 156.0a2.7 2.7 0 1 0 5.4 0a2.7 2.7 0 1 0 -5.4 0M615.6 156.3a2.7 2.7 0 1 0 5.4 0a2.7 2.7 0 1 0 -5.4 0M619.1 156.2a2.7 2.7 0 1 0 5.4 0a2.7 2.7 0 1 0 -5.4 0M621.8 156.0a2.7 2.7 0 1 0 5.4 0a2.7 2.7 0 1 0 -5.4 0M603.5 155.9a2.7 2.7 0 1 0 5.4 0a2.7 2.7 0 1 0 -5.4 0M605.5 156.1a2.7 2.7 0 1 0 5.4 0a2.7 2.7 0 1 0 -5.4 0M607.4 156.5a2.7 2.7 0 1 0 5.4 0a2.7 2.7 0 1 0 -5.4 0M609.6 156.3a2.7 2.7 0 1 0 5.4 0a2.7 2.7 0 1 0 -5.4 0M610.9 157.9a2.7 2.7 0 1 0 5.4 0a2.7 2.7 0 1 0 -5.4 0M613.6 156.2a2.7 2.7 0 1 0 5.4 0a2.7 2.7 0 1 0 -5.4 0M616.6 156.0a2.7 2.7 0 1 0 5.4 0a2.7 2.7 0 1 0 -5.4 0M617.1 157.8a2.7 2.7 0 1 0 5.4 0a2.7 2.7 0 1 0 -5.4 0M619.6 157.6a2.7 2.7 0 1 0 5.4 0a2.7 2.7 0 1 0 -5.4 0M623.5 156.7a2.7 2.7 0 1 0 5.4 0a2.7 2.7 0 1 0 -5.4 0M604.2 160.0a2.7 2.7 0 1 0 5.4 0a2.7 2.7 0 1 0 -5.4 0M605.9 159.0a2.7 2.7 0 1 0 5.4 0a2.7 2.7 0 1 0 -5.4 0M608.1 158.3a2.7 2.7 0 1 0 5.4 0a2.7 2.7 0 1 0 -5.4 0M611.1 158.9a2.7 2.7 0 1 0 5.4 0a2.7 2.7 0 1 0 -5.4 0M612.0 160.1a2.7 2.7 0 1 0 5.4 0a2.7 2.7 0 1 0 -5.4 0M614.9 160.5a2.7 2.7 0 1 0 5.4 0a2.7 2.7 0 1 0 -5.4 0M616.6 159.3a2.7 2.7 0 1 0 5.4 0a2.7 2.7 0 1 0 -5.4 0M617.9 159.9a2.7 2.7 0 1 0 5.4 0a2.7 2.7 0 1 0 -5.4 0M620.5 157.9a2.7 2.7 0 1 0 5.4 0a2.7 2.7 0 1 0 -5.4 0M622.4 159.7a2.7 2.7 0 1 0 5.4 0a2.7 2.7 0 1 0 -5.4 0M604.5 161.7a2.7 2.7 0 1 0 5.4 0a2.7 2.7 0 1 0 -5.4 0M607.3 160.8a2.7 2.7 0 1 0 5.4 0a2.7 2.7 0 1 0 -5.4 0M608.7 160.1a2.7 2.7 0 1 0 5.4 0a2.7 2.7 0 1 0 -5.4 0M612.3 160.6a2.7 2.7 0 1 0 5.4 0a2.7 2.7 0 1 0 -5.4 0M613.0 160.6a2.7 2.7 0 1 0 5.4 0a2.7 2.7 0 1 0 -5.4 0M615.7 161.2a2.7 2.7 0 1 0 5.4 0a2.7 2.7 0 1 0 -5.4 0M618.6 160.1a2.7 2.7 0 1 0 5.4 0a2.7 2.7 0 1 0 -5.4 0M619.3 162.2a2.7 2.7 0 1 0 5.4 0a2.7 2.7 0 1 0 -5.4 0M622.6 160.0a2.7 2.7 0 1 0 5.4 0a2.7 2.7 0 1 0 -5.4 0M623.8 162.6a2.7 2.7 0 1 0 5.4 0a2.7 2.7 0 1 0 -5.4 0M625.9 160.9a2.7 2.7 0 1 0 5.4 0a2.7 2.7 0 1 0 -5.4 0M603.2 164.8a2.7 2.7 0 1 0 5.4 0a2.7 2.7 0 1 0 -5.4 0M606.3 164.3a2.7 2.7 0 1 0 5.4 0a2.7 2.7 0 1 0 -5.4 0M608.5 164.5a2.7 2.7 0 1 0 5.4 0a2.7 2.7 0 1 0 -5.4 0M611.4 162.4a2.7 2.7 0 1 0 5.4 0a2.7 2.7 0 1 0 -5.4 0M611.5 162.4a2.7 2.7 0 1 0 5.4 0a2.7 2.7 0 1 0 -5.4 0M615.3 162.2a2.7 2.7 0 1 0 5.4 0a2.7 2.7 0 1 0 -5.4 0M615.9 163.0a2.7 2.7 0 1 0 5.4 0a2.7 2.7 0 1 0 -5.4 0M618.0 162.8a2.7 2.7 0 1 0 5.4 0a2.7 2.7 0 1 0 -5.4 0M621.8 162.5a2.7 2.7 0 1 0 5.4 0a2.7 2.7 0 1 0 -5.4 0M624.5 162.6a2.7 2.7 0 1 0 5.4 0a2.7 2.7 0 1 0 -5.4 0M625.4 163.1a2.7 2.7 0 1 0 5.4 0a2.7 2.7 0 1 0 -5.4 0M625.6 162.5a2.7 2.7 0 1 0 5.4 0a2.7 2.7 0 1 0 -5.4 0M607.4 165.5a2.7 2.7 0 1 0 5.4 0a2.7 2.7 0 1 0 -5.4 0M609.4 166.0a2.7 2.7 0 1 0 5.4 0a2.7 2.7 0 1 0 -5.4 0M610.0 164.6a2.7 2.7 0 1 0 5.4 0a2.7 2.7 0 1 0 -5.4 0M614.5 164.6a2.7 2.7 0 1 0 5.4 0a2.7 2.7 0 1 0 -5.4 0M614.7 164.1a2.7 2.7 0 1 0 5.4 0a2.7 2.7 0 1 0 -5.4 0M618.4 166.3a2.7 2.7 0 1 0 5.4 0a2.7 2.7 0 1 0 -5.4 0M618.6 166.6a2.7 2.7 0 1 0 5.4 0a2.7 2.7 0 1 0 -5.4 0M621.0 165.5a2.7 2.7 0 1 0 5.4 0a2.7 2.7 0 1 0 -5.4 0M624.4 164.7a2.7 2.7 0 1 0 5.4 0a2.7 2.7 0 1 0 -5.4 0M604.2 166.1a2.7 2.7 0 1 0 5.4 0a2.7 2.7 0 1 0 -5.4 0M627.2 166.4a2.7 2.7 0 1 0 5.4 0a2.7 2.7 0 1 0 -5.4 0M607.8 169.0a2.7 2.7 0 1 0 5.4 0a2.7 2.7 0 1 0 -5.4 0M607.9 167.8a2.7 2.7 0 1 0 5.4 0a2.7 2.7 0 1 0 -5.4 0M612.2 167.1a2.7 2.7 0 1 0 5.4 0a2.7 2.7 0 1 0 -5.4 0M612.8 166.2a2.7 2.7 0 1 0 5.4 0a2.7 2.7 0 1 0 -5.4 0M614.5 168.0a2.7 2.7 0 1 0 5.4 0a2.7 2.7 0 1 0 -5.4 0M617.9 168.8a2.7 2.7 0 1 0 5.4 0a2.7 2.7 0 1 0 -5.4 0M620.0 167.0a2.7 2.7 0 1 0 5.4 0a2.7 2.7 0 1 0 -5.4 0M622.1 166.6a2.7 2.7 0 1 0 5.4 0a2.7 2.7 0 1 0 -5.4 0M608.2 170.6a2.7 2.7 0 1 0 5.4 0a2.7 2.7 0 1 0 -5.4 0M608.3 170.4a2.7 2.7 0 1 0 5.4 0a2.7 2.7 0 1 0 -5.4 0M610.0 168.7a2.7 2.7 0 1 0 5.4 0a2.7 2.7 0 1 0 -5.4 0M614.6 170.6a2.7 2.7 0 1 0 5.4 0a2.7 2.7 0 1 0 -5.4 0M616.3 170.2a2.7 2.7 0 1 0 5.4 0a2.7 2.7 0 1 0 -5.4 0M617.8 171.1a2.7 2.7 0 1 0 5.4 0a2.7 2.7 0 1 0 -5.4 0M620.7 171.0a2.7 2.7 0 1 0 5.4 0a2.7 2.7 0 1 0 -5.4 0M623.7 169.4a2.7 2.7 0 1 0 5.4 0a2.7 2.7 0 1 0 -5.4 0M626.2 170.7a2.7 2.7 0 1 0 5.4 0a2.7 2.7 0 1 0 -5.4 0M609.0 171.2a2.7 2.7 0 1 0 5.4 0a2.7 2.7 0 1 0 -5.4 0M613.5 171.7a2.7 2.7 0 1 0 5.4 0a2.7 2.7 0 1 0 -5.4 0M613.7 172.6a2.7 2.7 0 1 0 5.4 0a2.7 2.7 0 1 0 -5.4 0M617.0 173.1a2.7 2.7 0 1 0 5.4 0a2.7 2.7 0 1 0 -5.4 0M618.6 172.4a2.7 2.7 0 1 0 5.4 0a2.7 2.7 0 1 0 -5.4 0M623.6 171.2a2.7 2.7 0 1 0 5.4 0a2.7 2.7 0 1 0 -5.4 0M624.1 172.0a2.7 2.7 0 1 0 5.4 0a2.7 2.7 0 1 0 -5.4 0M607.0 171.9a2.7 2.7 0 1 0 5.4 0a2.7 2.7 0 1 0 -5.4 0M610.2 174.0a2.7 2.7 0 1 0 5.4 0a2.7 2.7 0 1 0 -5.4 0M614.3 175.6a2.7 2.7 0 1 0 5.4 0a2.7 2.7 0 1 0 -5.4 0M615.3 173.9a2.7 2.7 0 1 0 5.4 0a2.7 2.7 0 1 0 -5.4 0M618.0 175.2a2.7 2.7 0 1 0 5.4 0a2.7 2.7 0 1 0 -5.4 0M621.4 175.3a2.7 2.7 0 1 0 5.4 0a2.7 2.7 0 1 0 -5.4 0M621.2 173.5a2.7 2.7 0 1 0 5.4 0a2.7 2.7 0 1 0 -5.4 0M627.2 174.9a2.7 2.7 0 1 0 5.4 0a2.7 2.7 0 1 0 -5.4 0M627.7 175.4a2.7 2.7 0 1 0 5.4 0a2.7 2.7 0 1 0 -5.4 0M610.7 176.5a2.7 2.7 0 1 0 5.4 0a2.7 2.7 0 1 0 -5.4 0M614.8 177.0a2.7 2.7 0 1 0 5.4 0a2.7 2.7 0 1 0 -5.4 0M615.5 175.8a2.7 2.7 0 1 0 5.4 0a2.7 2.7 0 1 0 -5.4 0M618.9 178.4a2.7 2.7 0 1 0 5.4 0a2.7 2.7 0 1 0 -5.4 0M624.1 178.5a2.7 2.7 0 1 0 5.4 0a2.7 2.7 0 1 0 -5.4 0M624.9 176.7a2.7 2.7 0 1 0 5.4 0a2.7 2.7 0 1 0 -5.4 0M628.9 178.1a2.7 2.7 0 1 0 5.4 0a2.7 2.7 0 1 0 -5.4 0M614.7 180.6a2.7 2.7 0 1 0 5.4 0a2.7 2.7 0 1 0 -5.4 0M619.9 178.7a2.7 2.7 0 1 0 5.4 0a2.7 2.7 0 1 0 -5.4 0M620.5 180.7a2.7 2.7 0 1 0 5.4 0a2.7 2.7 0 1 0 -5.4 0M624.6 178.1a2.7 2.7 0 1 0 5.4 0a2.7 2.7 0 1 0 -5.4 0M627.3 178.8a2.7 2.7 0 1 0 5.4 0a2.7 2.7 0 1 0 -5.4 0M627.3 178.1a2.7 2.7 0 1 0 5.4 0a2.7 2.7 0 1 0 -5.4 0M614.9 184.0a2.7 2.7 0 1 0 5.4 0a2.7 2.7 0 1 0 -5.4 0M620.7 181.7a2.7 2.7 0 1 0 5.4 0a2.7 2.7 0 1 0 -5.4 0M619.6 180.7a2.7 2.7 0 1 0 5.4 0a2.7 2.7 0 1 0 -5.4 0M624.3 181.8a2.7 2.7 0 1 0 5.4 0a2.7 2.7 0 1 0 -5.4 0M627.9 182.0a2.7 2.7 0 1 0 5.4 0a2.7 2.7 0 1 0 -5.4 0M628.6 181.1a2.7 2.7 0 1 0 5.4 0a2.7 2.7 0 1 0 -5.4 0M618.2 186.1a2.7 2.7 0 1 0 5.4 0a2.7 2.7 0 1 0 -5.4 0M621.8 184.2a2.7 2.7 0 1 0 5.4 0a2.7 2.7 0 1 0 -5.4 0M623.4 186.3a2.7 2.7 0 1 0 5.4 0a2.7 2.7 0 1 0 -5.4 0M624.9 185.6a2.7 2.7 0 1 0 5.4 0a2.7 2.7 0 1 0 -5.4 0M630.3 185.1a2.7 2.7 0 1 0 5.4 0a2.7 2.7 0 1 0 -5.4 0M620.5 188.8a2.7 2.7 0 1 0 5.4 0a2.7 2.7 0 1 0 -5.4 0M620.6 188.6a2.7 2.7 0 1 0 5.4 0a2.7 2.7 0 1 0 -5.4 0M624.7 186.3a2.7 2.7 0 1 0 5.4 0a2.7 2.7 0 1 0 -5.4 0M629.7 186.8a2.7 2.7 0 1 0 5.4 0a2.7 2.7 0 1 0 -5.4 0M630.8 187.0a2.7 2.7 0 1 0 5.4 0a2.7 2.7 0 1 0 -5.4 0M617.9 188.0a2.7 2.7 0 1 0 5.4 0a2.7 2.7 0 1 0 -5.4 0M621.1 192.1a2.7 2.7 0 1 0 5.4 0a2.7 2.7 0 1 0 -5.4 0M625.1 191.7a2.7 2.7 0 1 0 5.4 0a2.7 2.7 0 1 0 -5.4 0M627.8 190.3a2.7 2.7 0 1 0 5.4 0a2.7 2.7 0 1 0 -5.4 0M628.9 192.1a2.7 2.7 0 1 0 5.4 0a2.7 2.7 0 1 0 -5.4 0M623.9 192.6a2.7 2.7 0 1 0 5.4 0a2.7 2.7 0 1 0 -5.4 0M625.5 195.3a2.7 2.7 0 1 0 5.4 0a2.7 2.7 0 1 0 -5.4 0M628.0 194.1a2.7 2.7 0 1 0 5.4 0a2.7 2.7 0 1 0 -5.4 0M620.9 192.7a2.7 2.7 0 1 0 5.4 0a2.7 2.7 0 1 0 -5.4 0M632.0 193.7a2.7 2.7 0 1 0 5.4 0a2.7 2.7 0 1 0 -5.4 0M626.1 194.9a2.7 2.7 0 1 0 5.4 0a2.7 2.7 0 1 0 -5.4 0M626.9 195.8a2.7 2.7 0 1 0 5.4 0a2.7 2.7 0 1 0 -5.4 0M625.4 196.7a2.7 2.7 0 1 0 5.4 0a2.7 2.7 0 1 0 -5.4 0M548.5 39.4a2.7 2.7 0 1 0 5.4 0a2.7 2.7 0 1 0 -5.4 0M552.3 36.9a2.7 2.7 0 1 0 5.4 0a2.7 2.7 0 1 0 -5.4 0M555.4 40.0a2.7 2.7 0 1 0 5.4 0a2.7 2.7 0 1 0 -5.4 0M560.4 38.1a2.7 2.7 0 1 0 5.4 0a2.7 2.7 0 1 0 -5.4 0M551.7 43.8a2.7 2.7 0 1 0 5.4 0a2.7 2.7 0 1 0 -5.4 0M556.0 45.6a2.7 2.7 0 1 0 5.4 0a2.7 2.7 0 1 0 -5.4 0M559.8 47.5a2.7 2.7 0 1 0 5.4 0a2.7 2.7 0 1 0 -5.4 0M565.8 43.1a2.7 2.7 0 1 0 5.4 0a2.7 2.7 0 1 0 -5.4 0M564.8 48.8a2.7 2.7 0 1 0 5.4 0a2.7 2.7 0 1 0 -5.4 0M562.9 52.5a2.7 2.7 0 1 0 5.4 0a2.7 2.7 0 1 0 -5.4 0M567.3 53.1a2.7 2.7 0 1 0 5.4 0a2.7 2.7 0 1 0 -5.4 0M571.0 48.1a2.7 2.7 0 1 0 5.4 0a2.7 2.7 0 1 0 -5.4 0M573.5 52.5a2.7 2.7 0 1 0 5.4 0a2.7 2.7 0 1 0 -5.4 0M577.3 50.6a2.7 2.7 0 1 0 5.4 0a2.7 2.7 0 1 0 -5.4 0M570.4 56.9a2.7 2.7 0 1 0 5.4 0a2.7 2.7 0 1 0 -5.4 0M574.8 58.8a2.7 2.7 0 1 0 5.4 0a2.7 2.7 0 1 0 -5.4 0M578.5 56.2a2.7 2.7 0 1 0 5.4 0a2.7 2.7 0 1 0 -5.4 0M557.3 42.8a2.7 2.7 0 1 0 5.4 0a2.7 2.7 0 1 0 -5.4 0M562.3 45.2a2.7 2.7 0 1 0 5.4 0a2.7 2.7 0 1 0 -5.4 0M568.5 50.6a2.7 2.7 0 1 0 5.4 0a2.7 2.7 0 1 0 -5.4 0M572.3 55.0a2.7 2.7 0 1 0 5.4 0a2.7 2.7 0 1 0 -5.4 0M576.0 53.8a2.7 2.7 0 1 0 5.4 0a2.7 2.7 0 1 0 -5.4 0M554.2 41.9a2.7 2.7 0 1 0 5.4 0a2.7 2.7 0 1 0 -5.4 0M567.3 47.5a2.7 2.7 0 1 0 5.4 0a2.7 2.7 0 1 0 -5.4 0M571.7 51.9a2.7 2.7 0 1 0 5.4 0a2.7 2.7 0 1 0 -5.4 0" fill="#000"/>
<path d="M531.2 0.0 C532.7 5.0 536.7 19.2 540.0 30.0 C543.3 40.8 547.7 53.3 551.2 65.0 C554.8 76.7 558.1 89.2 561.2 100.0 C564.4 110.8 566.9 119.6 570.0 130.0 C573.1 140.4 577.3 153.8 580.0 162.5 C582.7 171.2 584.0 175.0 586.2 182.5 C588.5 190.0 591.2 199.2 593.8 207.5 C596.2 215.8 599.6 227.1 601.2 232.5 C602.9 237.9 603.3 238.8 603.8 240.0 C608.1 243.3 620.6 252.5 630.0 260.0 C639.4 267.5 649.6 276.2 660.0 285.0 C670.4 293.8 681.9 303.5 692.5 312.5 C703.1 321.5 718.5 334.4 723.8 338.8" fill="none" stroke="#f00000" stroke-width="3" stroke-linejoin="round" stroke-linecap="butt" stroke-dasharray="11.2 9.6"/>
<path d="M545.5 0.0 C548.3 3.8 556.5 14.8 562.5 22.5 C568.5 30.2 578.2 42.5 581.4 46.5 C582.5 48.5 585.7 54.0 587.8 58.8 C589.9 63.5 591.9 69.0 593.8 75.0 C595.6 81.0 597.3 88.3 598.8 95.0 C600.2 101.7 601.5 108.8 602.5 115.0 C603.5 121.2 603.8 126.2 605.0 132.5 C606.2 138.8 607.9 145.4 610.0 152.5 C612.1 159.6 615.0 168.8 617.5 175.0 C620.0 181.2 622.1 185.0 625.0 190.0 C627.9 195.0 631.2 199.4 635.0 205.0 C638.8 210.6 642.5 217.5 647.5 223.8 C652.5 230.0 658.8 236.0 665.0 242.5 C671.2 249.0 677.5 255.2 685.0 262.5 C692.5 269.8 701.2 277.9 710.0 286.2 C718.8 294.6 727.9 302.8 737.8 312.5 C747.6 322.2 764.0 339.2 769.3 344.5" fill="none" stroke="#0000f0" stroke-width="3" stroke-linejoin="round" stroke-linecap="butt"/>
</g>
</g>
<g>
<clipPath id="c2"><rect x="52.50" y="420.00" width="337.00" height="343.90"/></clipPath>
<path d="M69.86 763.90v-5.10M69.86 420.00v5.10M87.61 763.90v-5.10M87.61 420.00v5.10M105.37 763.90v-5.10M105.37 420.00v5.10M123.12 763.90v-5.10M123.12 420.00v5.10M140.88 763.90v-9.60M140.88 420.00v9.60M158.63 763.90v-5.10M158.63 420.00v5.10M176.39 763.90v-5.10M176.39 420.00v5.10M194.14 763.90v-5.10M194.14 420.00v5.10M211.90 763.90v-5.10M211.90 420.00v5.10M229.65 763.90v-9.60M229.65 420.00v9.60M247.41 763.90v-5.10M247.41 420.00v5.10M265.16 763.90v-5.10M265.16 420.00v5.10M282.92 763.90v-5.10M282.92 420.00v5.10M300.67 763.90v-5.10M300.67 420.00v5.10M318.43 763.90v-9.60M318.43 420.00v9.60M336.18 763.90v-5.10M336.18 420.00v5.10M353.94 763.90v-5.10M353.94 420.00v5.10M371.69 763.90v-5.10M371.69 420.00v5.10M389.45 763.90v-5.10M389.45 420.00v5.10M52.50 420.11h5.10M389.50 420.11h-5.10M52.50 438.20h9.60M389.50 438.20h-9.60M52.50 456.29h5.10M389.50 456.29h-5.10M52.50 474.38h5.10M389.50 474.38h-5.10M52.50 492.47h5.10M389.50 492.47h-5.10M52.50 510.56h9.60M389.50 510.56h-9.60M52.50 528.65h5.10M389.50 528.65h-5.10M52.50 546.74h5.10M389.50 546.74h-5.10M52.50 564.83h5.10M389.50 564.83h-5.10M52.50 582.92h9.60M389.50 582.92h-9.60M52.50 601.01h5.10M389.50 601.01h-5.10M52.50 619.10h5.10M389.50 619.10h-5.10M52.50 637.19h5.10M389.50 637.19h-5.10M52.50 655.28h9.60M389.50 655.28h-9.60M52.50 673.37h5.10M389.50 673.37h-5.10M52.50 691.46h5.10M389.50 691.46h-5.10M52.50 709.55h5.10M389.50 709.55h-5.10M52.50 727.64h9.60M389.50 727.64h-9.60M52.50 745.73h5.10M389.50 745.73h-5.10M52.50 763.82h5.10M389.50 763.82h-5.10" stroke="#555" stroke-width="1" fill="none"/>
<rect x="52.50" y="420.00" width="337.00" height="343.90" fill="none" stroke="#555" stroke-width="1.05"/>
<g filter="url(#gs)">
<text transform="translate(52.10 782.70) scale(1.235 1)" text-anchor="middle" font-size="15" >0.0</text>
<text transform="translate(140.88 782.70) scale(1.235 1)" text-anchor="middle" font-size="15" >0.5</text>
<text transform="translate(229.65 782.70) scale(1.235 1)" text-anchor="middle" font-size="15" >1.0</text>
<text transform="translate(318.43 782.70) scale(1.235 1)" text-anchor="middle" font-size="15" >1.5</text>
<text transform="translate(43.10 443.20) scale(1.235 1)" text-anchor="end" font-size="15" >12</text>
<text transform="translate(43.10 515.56) scale(1.235 1)" text-anchor="end" font-size="15" >14</text>
<text transform="translate(43.10 587.92) scale(1.235 1)" text-anchor="end" font-size="15" >16</text>
<text transform="translate(43.10 660.28) scale(1.235 1)" text-anchor="end" font-size="15" >18</text>
<text transform="translate(43.10 732.64) scale(1.235 1)" text-anchor="end" font-size="15" >20</text>
<text transform="translate(318.60 466.50) scale(1.235 1)" text-anchor="middle" font-size="15" >0.6</text>
<text transform="translate(318.60 478.00) scale(1.235 1)" text-anchor="middle" font-size="15" >0.5</text>
<text transform="translate(318.60 506.50) scale(1.235 1)" text-anchor="middle" font-size="15" >0.4</text>
<text transform="translate(318.60 528.00) scale(1.235 1)" text-anchor="middle" font-size="15" >0.3</text>
<text transform="translate(318.60 552.50) scale(1.235 1)" text-anchor="middle" font-size="15" >0.2</text>
<text transform="translate(318.60 579.00) scale(1.235 1)" text-anchor="middle" font-size="15" >0.15</text>
<text transform="translate(318.60 635.00) scale(1.235 1)" text-anchor="middle" font-size="15" >0.09</text>
<text transform="translate(318.60 684.00) scale(1.235 1)" text-anchor="middle" font-size="15" >0.072</text>
<text transform="translate(318.60 727.50) scale(1.235 1)" text-anchor="middle" font-size="15" >0.055</text>
<text transform="translate(87.30 631.80) scale(1.235 1)" text-anchor="middle" font-size="15" >0.1</text>
<text transform="translate(87.30 665.00) scale(1.235 1)" text-anchor="middle" font-size="15" >0.08</text>
<text transform="translate(87.30 679.00) scale(1.235 1)" text-anchor="middle" font-size="15" >0.07</text>
<text transform="translate(87.30 733.60) scale(1.235 1)" text-anchor="middle" font-size="15" >0.06</text>
<text transform="translate(309.00 440.60) scale(0.8 1)" font-size="15.4">M</text>
<circle cx="324.40" cy="442.40" r="3.1" fill="none" stroke="#1a1a1a" stroke-width="0.9"/>
<circle cx="324.40" cy="442.40" r="0.8" fill="#1a1a1a"/>
<text transform="translate(169.5 803.3) scale(1.2 1)" font-size="15" font-style="italic">Y</text><text transform="translate(189.2 803.3) scale(1.2 1)" font-size="15">&#8722;</text><text transform="translate(206.3 803.3) scale(1.2 1)" font-size="15" font-style="italic">J</text><text transform="translate(223.2 803.3) scale(1.28 1)" font-size="15">[mag]</text>
<text transform="translate(13.0 624.5) rotate(-90) scale(1.2 1)" font-size="15.5" font-style="italic">Y</text><text transform="translate(13.0 606.6) rotate(-90) scale(1.28 1)" font-size="15">[mag]</text>
</g>
<g clip-path="url(#c2)">
<path d="M171.2 630.0 C173.5 632.3 180.0 638.6 185.0 643.8 C190.0 648.9 194.8 654.5 201.2 660.6 C207.6 666.7 216.2 674.1 223.7 680.5 C231.2 686.9 238.5 693.0 246.2 699.0 C253.9 705.0 262.5 710.7 270.0 716.2 C277.5 721.7 285.0 727.2 291.2 732.1 C297.4 737.0 302.7 741.1 307.1 745.3 C311.5 749.5 315.0 754.1 317.7 757.2 C320.4 760.4 322.4 763.0 323.3 764.2" fill="none" stroke="#00f000" stroke-width="3.5" stroke-linejoin="round" stroke-linecap="round" stroke-dasharray="0.1 6.6"/>
<path d="M93.6 423.6l7.8 7.8M93.6 431.4l7.8 -7.8M97.3 428.6l7.8 7.8M97.3 436.4l7.8 -7.8M126.1 421.6l7.8 7.8M126.1 429.4l7.8 -7.8M143.1 417.4l7.8 7.8M143.1 425.1l7.8 -7.8M139.8 429.9l7.8 7.8M139.8 437.6l7.8 -7.8M116.1 428.6l7.8 7.8M116.1 436.4l7.8 -7.8M98.6 437.4l7.8 7.8M98.6 445.1l7.8 -7.8M113.6 437.4l7.8 7.8M113.6 445.1l7.8 -7.8M94.8 442.4l7.8 7.8M94.8 450.1l7.8 -7.8M86.1 446.9l7.8 7.8M86.1 454.6l7.8 -7.8M98.6 443.6l7.8 7.8M98.6 451.4l7.8 -7.8M106.1 449.9l7.8 7.8M106.1 457.6l7.8 -7.8M99.8 456.1l7.8 7.8M99.8 463.9l7.8 -7.8M96.1 462.4l7.8 7.8M96.1 470.1l7.8 -7.8M106.1 463.6l7.8 7.8M106.1 471.4l7.8 -7.8M118.6 463.6l7.8 7.8M118.6 471.4l7.8 -7.8M99.8 469.9l7.8 7.8M99.8 477.6l7.8 -7.8M111.1 472.4l7.8 7.8M111.1 480.1l7.8 -7.8M144.8 464.9l7.8 7.8M144.8 472.6l7.8 -7.8M100.6 484.9l7.8 7.8M100.6 492.6l7.8 -7.8M108.6 486.1l7.8 7.8M108.6 493.9l7.8 -7.8M104.8 491.1l7.8 7.8M104.8 498.9l7.8 -7.8M109.8 493.6l7.8 7.8M109.8 501.4l7.8 -7.8M112.3 497.4l7.8 7.8M112.3 505.1l7.8 -7.8M123.6 493.6l7.8 7.8M123.6 501.4l7.8 -7.8M104.8 503.6l7.8 7.8M104.8 511.4l7.8 -7.8M118.6 507.4l7.8 7.8M118.6 515.1l7.8 -7.8M126.1 506.1l7.8 7.8M126.1 513.9l7.8 -7.8M104.8 511.1l7.8 7.8M104.8 518.9l7.8 -7.8M90.6 516.9l7.8 7.8M90.6 524.6l7.8 -7.8M102.3 519.9l7.8 7.8M102.3 527.6l7.8 -7.8M116.1 519.9l7.8 7.8M116.1 527.6l7.8 -7.8M126.1 521.1l7.8 7.8M126.1 528.9l7.8 -7.8M129.8 526.1l7.8 7.8M129.8 533.9l7.8 -7.8M206.1 526.1l7.8 7.8M206.1 533.9l7.8 -7.8M98.1 539.9l7.8 7.8M98.1 547.6l7.8 -7.8M92.8 549.1l7.8 7.8M92.8 556.9l7.8 -7.8M119.8 548.6l7.8 7.8M119.8 556.4l7.8 -7.8M131.1 536.1l7.8 7.8M131.1 543.9l7.8 -7.8M132.3 547.4l7.8 7.8M132.3 555.1l7.8 -7.8M134.8 554.9l7.8 7.8M134.8 562.6l7.8 -7.8M126.1 563.6l7.8 7.8M126.1 571.4l7.8 -7.8M171.1 554.9l7.8 7.8M171.1 562.6l7.8 -7.8M139.8 569.9l7.8 7.8M139.8 577.6l7.8 -7.8M142.3 574.9l7.8 7.8M142.3 582.6l7.8 -7.8M126.1 583.1l7.8 7.8M126.1 590.9l7.8 -7.8M176.1 576.1l7.8 7.8M176.1 583.9l7.8 -7.8M146.1 586.1l7.8 7.8M146.1 593.9l7.8 -7.8M148.6 591.1l7.8 7.8M148.6 598.9l7.8 -7.8M146.1 596.1l7.8 7.8M146.1 603.9l7.8 -7.8M119.8 603.6l7.8 7.8M119.8 611.4l7.8 -7.8M127.3 604.9l7.8 7.8M127.3 612.6l7.8 -7.8M133.6 607.4l7.8 7.8M133.6 615.1l7.8 -7.8M146.1 604.9l7.8 7.8M146.1 612.6l7.8 -7.8M157.3 604.9l7.8 7.8M157.3 612.6l7.8 -7.8M178.6 608.6l7.8 7.8M178.6 616.4l7.8 -7.8M198.6 612.4l7.8 7.8M198.6 620.1l7.8 -7.8M132.3 516.1l7.8 7.8M132.3 523.9l7.8 -7.8M133.6 531.1l7.8 7.8M133.6 538.9l7.8 -7.8M136.1 541.1l7.8 7.8M136.1 548.9l7.8 -7.8M138.6 551.1l7.8 7.8M138.6 558.9l7.8 -7.8M142.3 561.1l7.8 7.8M142.3 568.9l7.8 -7.8M144.8 566.1l7.8 7.8M144.8 573.9l7.8 -7.8M158.6 612.4l7.8 7.8M158.6 620.1l7.8 -7.8M122.3 613.6l7.8 7.8M122.3 621.4l7.8 -7.8M133.6 618.6l7.8 7.8M133.6 626.4l7.8 -7.8M116.1 620.6l7.8 7.8M116.1 628.4l7.8 -7.8M139.8 618.6l7.8 7.8M139.8 626.4l7.8 -7.8M149.8 626.1l7.8 7.8M149.8 633.9l7.8 -7.8M157.3 626.1l7.8 7.8M157.3 633.9l7.8 -7.8M119.8 633.1l7.8 7.8M119.8 640.9l7.8 -7.8M133.6 633.1l7.8 7.8M133.6 640.9l7.8 -7.8M137.3 634.9l7.8 7.8M137.3 642.6l7.8 -7.8M143.6 633.6l7.8 7.8M143.6 641.4l7.8 -7.8M168.6 631.6l7.8 7.8M168.6 639.4l7.8 -7.8M198.6 631.1l7.8 7.8M198.6 638.9l7.8 -7.8M136.1 641.1l7.8 7.8M136.1 648.9l7.8 -7.8M143.6 643.6l7.8 7.8M143.6 651.4l7.8 -7.8M163.6 647.4l7.8 7.8M163.6 655.1l7.8 -7.8M171.1 647.4l7.8 7.8M171.1 655.1l7.8 -7.8M177.3 648.6l7.8 7.8M177.3 656.4l7.8 -7.8M109.8 651.1l7.8 7.8M109.8 658.9l7.8 -7.8M157.3 648.6l7.8 7.8M157.3 656.4l7.8 -7.8M132.3 653.6l7.8 7.8M132.3 661.4l7.8 -7.8M136.1 656.1l7.8 7.8M136.1 663.9l7.8 -7.8M146.1 653.6l7.8 7.8M146.1 661.4l7.8 -7.8M149.8 657.4l7.8 7.8M149.8 665.1l7.8 -7.8M183.6 656.1l7.8 7.8M183.6 663.9l7.8 -7.8M219.8 657.4l7.8 7.8M219.8 665.1l7.8 -7.8M146.1 662.4l7.8 7.8M146.1 670.1l7.8 -7.8M159.8 659.9l7.8 7.8M159.8 667.6l7.8 -7.8M151.1 666.1l7.8 7.8M151.1 673.9l7.8 -7.8M158.6 666.1l7.8 7.8M158.6 673.9l7.8 -7.8M178.6 667.4l7.8 7.8M178.6 675.1l7.8 -7.8M138.6 671.1l7.8 7.8M138.6 678.9l7.8 -7.8M156.1 671.1l7.8 7.8M156.1 678.9l7.8 -7.8M171.1 680.6l7.8 7.8M171.1 688.4l7.8 -7.8M156.1 681.1l7.8 7.8M156.1 688.9l7.8 -7.8M136.8 689.9l7.8 7.8M136.8 697.6l7.8 -7.8M148.6 688.6l7.8 7.8M148.6 696.4l7.8 -7.8M152.3 693.6l7.8 7.8M152.3 701.4l7.8 -7.8M154.8 696.1l7.8 7.8M154.8 703.9l7.8 -7.8M181.1 693.1l7.8 7.8M181.1 700.9l7.8 -7.8M199.1 688.6l7.8 7.8M199.1 696.4l7.8 -7.8M204.3 694.1l7.8 7.8M204.3 701.9l7.8 -7.8M195.3 714.1l7.8 7.8M195.3 721.9l7.8 -7.8M187.8 724.9l7.8 7.8M187.8 732.6l7.8 -7.8M223.6 731.1l7.8 7.8M223.6 738.9l7.8 -7.8" stroke="#000" stroke-width="1.05" fill="none"/>
<path d="M81.0 488.8a2.7 2.7 0 1 0 5.4 0a2.7 2.7 0 1 0 -5.4 0M92.3 433.0a2.7 2.7 0 1 0 5.4 0a2.7 2.7 0 1 0 -5.4 0M104.8 438.8a2.7 2.7 0 1 0 5.4 0a2.7 2.7 0 1 0 -5.4 0M117.3 440.0a2.7 2.7 0 1 0 5.4 0a2.7 2.7 0 1 0 -5.4 0M148.6 438.8a2.7 2.7 0 1 0 5.4 0a2.7 2.7 0 1 0 -5.4 0M102.8 453.8a2.7 2.7 0 1 0 5.4 0a2.7 2.7 0 1 0 -5.4 0M108.5 447.5a2.7 2.7 0 1 0 5.4 0a2.7 2.7 0 1 0 -5.4 0M104.3 472.5a2.7 2.7 0 1 0 5.4 0a2.7 2.7 0 1 0 -5.4 0M108.5 478.8a2.7 2.7 0 1 0 5.4 0a2.7 2.7 0 1 0 -5.4 0M122.3 482.5a2.7 2.7 0 1 0 5.4 0a2.7 2.7 0 1 0 -5.4 0M126.0 489.5a2.7 2.7 0 1 0 5.4 0a2.7 2.7 0 1 0 -5.4 0M154.3 489.5a2.7 2.7 0 1 0 5.4 0a2.7 2.7 0 1 0 -5.4 0M158.6 503.8a2.7 2.7 0 1 0 5.4 0a2.7 2.7 0 1 0 -5.4 0M127.3 520.0a2.7 2.7 0 1 0 5.4 0a2.7 2.7 0 1 0 -5.4 0M129.8 528.8a2.7 2.7 0 1 0 5.4 0a2.7 2.7 0 1 0 -5.4 0M131.1 540.0a2.7 2.7 0 1 0 5.4 0a2.7 2.7 0 1 0 -5.4 0M163.6 540.0a2.7 2.7 0 1 0 5.4 0a2.7 2.7 0 1 0 -5.4 0M178.6 590.0a2.7 2.7 0 1 0 5.4 0a2.7 2.7 0 1 0 -5.4 0M184.8 599.5a2.7 2.7 0 1 0 5.4 0a2.7 2.7 0 1 0 -5.4 0M174.1 613.8a2.7 2.7 0 1 0 5.4 0a2.7 2.7 0 1 0 -5.4 0M167.3 608.8a2.7 2.7 0 1 0 5.4 0a2.7 2.7 0 1 0 -5.4 0M176.8 622.5a2.7 2.7 0 1 0 5.4 0a2.7 2.7 0 1 0 -5.4 0M181.1 628.0a2.7 2.7 0 1 0 5.4 0a2.7 2.7 0 1 0 -5.4 0M177.3 633.0a2.7 2.7 0 1 0 5.4 0a2.7 2.7 0 1 0 -5.4 0M184.8 638.8a2.7 2.7 0 1 0 5.4 0a2.7 2.7 0 1 0 -5.4 0M188.6 637.5a2.7 2.7 0 1 0 5.4 0a2.7 2.7 0 1 0 -5.4 0M154.1 638.0a2.7 2.7 0 1 0 5.4 0a2.7 2.7 0 1 0 -5.4 0M159.3 637.5a2.7 2.7 0 1 0 5.4 0a2.7 2.7 0 1 0 -5.4 0M219.3 633.8a2.7 2.7 0 1 0 5.4 0a2.7 2.7 0 1 0 -5.4 0M129.8 652.0a2.7 2.7 0 1 0 5.4 0a2.7 2.7 0 1 0 -5.4 0M201.1 654.5a2.7 2.7 0 1 0 5.4 0a2.7 2.7 0 1 0 -5.4 0M197.3 658.8a2.7 2.7 0 1 0 5.4 0a2.7 2.7 0 1 0 -5.4 0M169.8 667.0a2.7 2.7 0 1 0 5.4 0a2.7 2.7 0 1 0 -5.4 0M236.8 695.5a2.7 2.7 0 1 0 5.4 0a2.7 2.7 0 1 0 -5.4 0M188.6 702.0a2.7 2.7 0 1 0 5.4 0a2.7 2.7 0 1 0 -5.4 0M197.3 714.5a2.7 2.7 0 1 0 5.4 0a2.7 2.7 0 1 0 -5.4 0M266.1 705.0a2.7 2.7 0 1 0 5.4 0a2.7 2.7 0 1 0 -5.4 0M266.1 709.5a2.7 2.7 0 1 0 5.4 0a2.7 2.7 0 1 0 -5.4 0M343.3 750.0a2.7 2.7 0 1 0 5.4 0a2.7 2.7 0 1 0 -5.4 0M327.3 503.0a2.7 2.7 0 1 0 5.4 0a2.7 2.7 0 1 0 -5.4 0M131.5 499.1a2.7 2.7 0 1 0 5.4 0a2.7 2.7 0 1 0 -5.4 0M136.7 527.4a2.7 2.7 0 1 0 5.4 0a2.7 2.7 0 1 0 -5.4 0M129.3 531.5a2.7 2.7 0 1 0 5.4 0a2.7 2.7 0 1 0 -5.4 0M140.4 561.2a2.7 2.7 0 1 0 5.4 0a2.7 2.7 0 1 0 -5.4 0M174.6 559.7a2.7 2.7 0 1 0 5.4 0a2.7 2.7 0 1 0 -5.4 0" fill="#000"/>
<path d="M122.6 444.3a2.7 2.7 0 1 0 5.4 0a2.7 2.7 0 1 0 -5.4 0M123.3 442.7a2.7 2.7 0 1 0 5.4 0a2.7 2.7 0 1 0 -5.4 0M125.2 442.7a2.7 2.7 0 1 0 5.4 0a2.7 2.7 0 1 0 -5.4 0M128.6 442.8a2.7 2.7 0 1 0 5.4 0a2.7 2.7 0 1 0 -5.4 0M122.3 445.7a2.7 2.7 0 1 0 5.4 0a2.7 2.7 0 1 0 -5.4 0M122.2 444.8a2.7 2.7 0 1 0 5.4 0a2.7 2.7 0 1 0 -5.4 0M124.5 446.4a2.7 2.7 0 1 0 5.4 0a2.7 2.7 0 1 0 -5.4 0M128.2 446.2a2.7 2.7 0 1 0 5.4 0a2.7 2.7 0 1 0 -5.4 0M122.0 448.3a2.7 2.7 0 1 0 5.4 0a2.7 2.7 0 1 0 -5.4 0M124.6 448.1a2.7 2.7 0 1 0 5.4 0a2.7 2.7 0 1 0 -5.4 0M126.8 447.2a2.7 2.7 0 1 0 5.4 0a2.7 2.7 0 1 0 -5.4 0M128.3 447.2a2.7 2.7 0 1 0 5.4 0a2.7 2.7 0 1 0 -5.4 0M130.2 446.4a2.7 2.7 0 1 0 5.4 0a2.7 2.7 0 1 0 -5.4 0M123.5 450.0a2.7 2.7 0 1 0 5.4 0a2.7 2.7 0 1 0 -5.4 0M124.4 449.9a2.7 2.7 0 1 0 5.4 0a2.7 2.7 0 1 0 -5.4 0M127.2 448.6a2.7 2.7 0 1 0 5.4 0a2.7 2.7 0 1 0 -5.4 0M128.6 449.5a2.7 2.7 0 1 0 5.4 0a2.7 2.7 0 1 0 -5.4 0M130.7 449.3a2.7 2.7 0 1 0 5.4 0a2.7 2.7 0 1 0 -5.4 0M133.6 449.1a2.7 2.7 0 1 0 5.4 0a2.7 2.7 0 1 0 -5.4 0M120.1 448.9a2.7 2.7 0 1 0 5.4 0a2.7 2.7 0 1 0 -5.4 0M135.5 449.1a2.7 2.7 0 1 0 5.4 0a2.7 2.7 0 1 0 -5.4 0M122.6 451.1a2.7 2.7 0 1 0 5.4 0a2.7 2.7 0 1 0 -5.4 0M124.0 452.5a2.7 2.7 0 1 0 5.4 0a2.7 2.7 0 1 0 -5.4 0M124.3 450.5a2.7 2.7 0 1 0 5.4 0a2.7 2.7 0 1 0 -5.4 0M128.3 452.3a2.7 2.7 0 1 0 5.4 0a2.7 2.7 0 1 0 -5.4 0M129.8 450.5a2.7 2.7 0 1 0 5.4 0a2.7 2.7 0 1 0 -5.4 0M131.2 452.4a2.7 2.7 0 1 0 5.4 0a2.7 2.7 0 1 0 -5.4 0M134.5 452.2a2.7 2.7 0 1 0 5.4 0a2.7 2.7 0 1 0 -5.4 0M134.7 452.3a2.7 2.7 0 1 0 5.4 0a2.7 2.7 0 1 0 -5.4 0M121.8 454.0a2.7 2.7 0 1 0 5.4 0a2.7 2.7 0 1 0 -5.4 0M122.8 453.7a2.7 2.7 0 1 0 5.4 0a2.7 2.7 0 1 0 -5.4 0M125.7 453.6a2.7 2.7 0 1 0 5.4 0a2.7 2.7 0 1 0 -5.4 0M127.1 454.0a2.7 2.7 0 1 0 5.4 0a2.7 2.7 0 1 0 -5.4 0M129.1 452.9a2.7 2.7 0 1 0 5.4 0a2.7 2.7 0 1 0 -5.4 0M130.6 453.9a2.7 2.7 0 1 0 5.4 0a2.7 2.7 0 1 0 -5.4 0M132.5 452.7a2.7 2.7 0 1 0 5.4 0a2.7 2.7 0 1 0 -5.4 0M134.4 453.8a2.7 2.7 0 1 0 5.4 0a2.7 2.7 0 1 0 -5.4 0M137.7 453.5a2.7 2.7 0 1 0 5.4 0a2.7 2.7 0 1 0 -5.4 0M121.0 453.1a2.7 2.7 0 1 0 5.4 0a2.7 2.7 0 1 0 -5.4 0M139.1 454.4a2.7 2.7 0 1 0 5.4 0a2.7 2.7 0 1 0 -5.4 0M121.3 455.7a2.7 2.7 0 1 0 5.4 0a2.7 2.7 0 1 0 -5.4 0M122.8 455.3a2.7 2.7 0 1 0 5.4 0a2.7 2.7 0 1 0 -5.4 0M125.6 456.3a2.7 2.7 0 1 0 5.4 0a2.7 2.7 0 1 0 -5.4 0M126.6 455.0a2.7 2.7 0 1 0 5.4 0a2.7 2.7 0 1 0 -5.4 0M129.9 456.6a2.7 2.7 0 1 0 5.4 0a2.7 2.7 0 1 0 -5.4 0M132.0 455.3a2.7 2.7 0 1 0 5.4 0a2.7 2.7 0 1 0 -5.4 0M134.3 454.9a2.7 2.7 0 1 0 5.4 0a2.7 2.7 0 1 0 -5.4 0M134.7 455.4a2.7 2.7 0 1 0 5.4 0a2.7 2.7 0 1 0 -5.4 0M139.0 456.0a2.7 2.7 0 1 0 5.4 0a2.7 2.7 0 1 0 -5.4 0M122.6 456.1a2.7 2.7 0 1 0 5.4 0a2.7 2.7 0 1 0 -5.4 0M138.9 455.1a2.7 2.7 0 1 0 5.4 0a2.7 2.7 0 1 0 -5.4 0M122.1 457.0a2.7 2.7 0 1 0 5.4 0a2.7 2.7 0 1 0 -5.4 0M123.7 457.1a2.7 2.7 0 1 0 5.4 0a2.7 2.7 0 1 0 -5.4 0M125.8 458.1a2.7 2.7 0 1 0 5.4 0a2.7 2.7 0 1 0 -5.4 0M129.1 456.1a2.7 2.7 0 1 0 5.4 0a2.7 2.7 0 1 0 -5.4 0M131.6 456.6a2.7 2.7 0 1 0 5.4 0a2.7 2.7 0 1 0 -5.4 0M132.8 457.5a2.7 2.7 0 1 0 5.4 0a2.7 2.7 0 1 0 -5.4 0M134.5 456.9a2.7 2.7 0 1 0 5.4 0a2.7 2.7 0 1 0 -5.4 0M136.7 456.5a2.7 2.7 0 1 0 5.4 0a2.7 2.7 0 1 0 -5.4 0M139.7 456.8a2.7 2.7 0 1 0 5.4 0a2.7 2.7 0 1 0 -5.4 0M122.8 458.4a2.7 2.7 0 1 0 5.4 0a2.7 2.7 0 1 0 -5.4 0M125.7 459.2a2.7 2.7 0 1 0 5.4 0a2.7 2.7 0 1 0 -5.4 0M129.0 460.7a2.7 2.7 0 1 0 5.4 0a2.7 2.7 0 1 0 -5.4 0M128.9 459.5a2.7 2.7 0 1 0 5.4 0a2.7 2.7 0 1 0 -5.4 0M131.1 460.2a2.7 2.7 0 1 0 5.4 0a2.7 2.7 0 1 0 -5.4 0M133.6 460.4a2.7 2.7 0 1 0 5.4 0a2.7 2.7 0 1 0 -5.4 0M136.2 458.4a2.7 2.7 0 1 0 5.4 0a2.7 2.7 0 1 0 -5.4 0M136.8 458.7a2.7 2.7 0 1 0 5.4 0a2.7 2.7 0 1 0 -5.4 0M142.2 459.1a2.7 2.7 0 1 0 5.4 0a2.7 2.7 0 1 0 -5.4 0M124.0 462.0a2.7 2.7 0 1 0 5.4 0a2.7 2.7 0 1 0 -5.4 0M127.2 462.5a2.7 2.7 0 1 0 5.4 0a2.7 2.7 0 1 0 -5.4 0M128.8 462.5a2.7 2.7 0 1 0 5.4 0a2.7 2.7 0 1 0 -5.4 0M130.6 461.6a2.7 2.7 0 1 0 5.4 0a2.7 2.7 0 1 0 -5.4 0M133.0 462.3a2.7 2.7 0 1 0 5.4 0a2.7 2.7 0 1 0 -5.4 0M135.8 460.4a2.7 2.7 0 1 0 5.4 0a2.7 2.7 0 1 0 -5.4 0M135.8 461.5a2.7 2.7 0 1 0 5.4 0a2.7 2.7 0 1 0 -5.4 0M139.5 461.5a2.7 2.7 0 1 0 5.4 0a2.7 2.7 0 1 0 -5.4 0M140.2 462.6a2.7 2.7 0 1 0 5.4 0a2.7 2.7 0 1 0 -5.4 0M123.6 460.5a2.7 2.7 0 1 0 5.4 0a2.7 2.7 0 1 0 -5.4 0M142.3 460.6a2.7 2.7 0 1 0 5.4 0a2.7 2.7 0 1 0 -5.4 0M127.6 464.2a2.7 2.7 0 1 0 5.4 0a2.7 2.7 0 1 0 -5.4 0M128.1 463.7a2.7 2.7 0 1 0 5.4 0a2.7 2.7 0 1 0 -5.4 0M131.1 464.0a2.7 2.7 0 1 0 5.4 0a2.7 2.7 0 1 0 -5.4 0M131.7 464.1a2.7 2.7 0 1 0 5.4 0a2.7 2.7 0 1 0 -5.4 0M133.2 462.9a2.7 2.7 0 1 0 5.4 0a2.7 2.7 0 1 0 -5.4 0M137.5 463.3a2.7 2.7 0 1 0 5.4 0a2.7 2.7 0 1 0 -5.4 0M137.6 464.1a2.7 2.7 0 1 0 5.4 0a2.7 2.7 0 1 0 -5.4 0M140.1 462.1a2.7 2.7 0 1 0 5.4 0a2.7 2.7 0 1 0 -5.4 0M141.0 462.8a2.7 2.7 0 1 0 5.4 0a2.7 2.7 0 1 0 -5.4 0M126.1 462.9a2.7 2.7 0 1 0 5.4 0a2.7 2.7 0 1 0 -5.4 0M129.0 466.1a2.7 2.7 0 1 0 5.4 0a2.7 2.7 0 1 0 -5.4 0M129.7 464.8a2.7 2.7 0 1 0 5.4 0a2.7 2.7 0 1 0 -5.4 0M131.6 466.4a2.7 2.7 0 1 0 5.4 0a2.7 2.7 0 1 0 -5.4 0M133.8 464.6a2.7 2.7 0 1 0 5.4 0a2.7 2.7 0 1 0 -5.4 0M135.4 465.3a2.7 2.7 0 1 0 5.4 0a2.7 2.7 0 1 0 -5.4 0M136.9 465.6a2.7 2.7 0 1 0 5.4 0a2.7 2.7 0 1 0 -5.4 0M138.5 466.2a2.7 2.7 0 1 0 5.4 0a2.7 2.7 0 1 0 -5.4 0M140.9 464.4a2.7 2.7 0 1 0 5.4 0a2.7 2.7 0 1 0 -5.4 0M143.1 465.4a2.7 2.7 0 1 0 5.4 0a2.7 2.7 0 1 0 -5.4 0M127.1 468.0a2.7 2.7 0 1 0 5.4 0a2.7 2.7 0 1 0 -5.4 0M130.2 467.2a2.7 2.7 0 1 0 5.4 0a2.7 2.7 0 1 0 -5.4 0M133.0 466.2a2.7 2.7 0 1 0 5.4 0a2.7 2.7 0 1 0 -5.4 0M134.7 466.5a2.7 2.7 0 1 0 5.4 0a2.7 2.7 0 1 0 -5.4 0M136.7 466.5a2.7 2.7 0 1 0 5.4 0a2.7 2.7 0 1 0 -5.4 0M136.6 467.4a2.7 2.7 0 1 0 5.4 0a2.7 2.7 0 1 0 -5.4 0M140.9 466.8a2.7 2.7 0 1 0 5.4 0a2.7 2.7 0 1 0 -5.4 0M141.8 467.7a2.7 2.7 0 1 0 5.4 0a2.7 2.7 0 1 0 -5.4 0M143.1 467.5a2.7 2.7 0 1 0 5.4 0a2.7 2.7 0 1 0 -5.4 0M125.6 467.9a2.7 2.7 0 1 0 5.4 0a2.7 2.7 0 1 0 -5.4 0M145.8 466.5a2.7 2.7 0 1 0 5.4 0a2.7 2.7 0 1 0 -5.4 0M129.6 470.0a2.7 2.7 0 1 0 5.4 0a2.7 2.7 0 1 0 -5.4 0M129.5 470.5a2.7 2.7 0 1 0 5.4 0a2.7 2.7 0 1 0 -5.4 0M133.6 470.2a2.7 2.7 0 1 0 5.4 0a2.7 2.7 0 1 0 -5.4 0M135.4 469.9a2.7 2.7 0 1 0 5.4 0a2.7 2.7 0 1 0 -5.4 0M137.1 469.8a2.7 2.7 0 1 0 5.4 0a2.7 2.7 0 1 0 -5.4 0M138.7 468.8a2.7 2.7 0 1 0 5.4 0a2.7 2.7 0 1 0 -5.4 0M139.5 470.0a2.7 2.7 0 1 0 5.4 0a2.7 2.7 0 1 0 -5.4 0M142.7 468.2a2.7 2.7 0 1 0 5.4 0a2.7 2.7 0 1 0 -5.4 0M129.5 471.1a2.7 2.7 0 1 0 5.4 0a2.7 2.7 0 1 0 -5.4 0M131.4 471.4a2.7 2.7 0 1 0 5.4 0a2.7 2.7 0 1 0 -5.4 0M132.7 471.2a2.7 2.7 0 1 0 5.4 0a2.7 2.7 0 1 0 -5.4 0M135.7 471.3a2.7 2.7 0 1 0 5.4 0a2.7 2.7 0 1 0 -5.4 0M137.7 471.0a2.7 2.7 0 1 0 5.4 0a2.7 2.7 0 1 0 -5.4 0M139.0 472.5a2.7 2.7 0 1 0 5.4 0a2.7 2.7 0 1 0 -5.4 0M141.0 471.1a2.7 2.7 0 1 0 5.4 0a2.7 2.7 0 1 0 -5.4 0M141.4 471.3a2.7 2.7 0 1 0 5.4 0a2.7 2.7 0 1 0 -5.4 0M144.3 472.2a2.7 2.7 0 1 0 5.4 0a2.7 2.7 0 1 0 -5.4 0M128.8 474.0a2.7 2.7 0 1 0 5.4 0a2.7 2.7 0 1 0 -5.4 0M129.5 472.7a2.7 2.7 0 1 0 5.4 0a2.7 2.7 0 1 0 -5.4 0M131.7 472.9a2.7 2.7 0 1 0 5.4 0a2.7 2.7 0 1 0 -5.4 0M134.1 474.6a2.7 2.7 0 1 0 5.4 0a2.7 2.7 0 1 0 -5.4 0M135.9 474.5a2.7 2.7 0 1 0 5.4 0a2.7 2.7 0 1 0 -5.4 0M138.1 472.6a2.7 2.7 0 1 0 5.4 0a2.7 2.7 0 1 0 -5.4 0M141.9 472.3a2.7 2.7 0 1 0 5.4 0a2.7 2.7 0 1 0 -5.4 0M141.6 472.4a2.7 2.7 0 1 0 5.4 0a2.7 2.7 0 1 0 -5.4 0M143.5 473.1a2.7 2.7 0 1 0 5.4 0a2.7 2.7 0 1 0 -5.4 0M126.1 472.4a2.7 2.7 0 1 0 5.4 0a2.7 2.7 0 1 0 -5.4 0M128.0 476.4a2.7 2.7 0 1 0 5.4 0a2.7 2.7 0 1 0 -5.4 0M130.2 475.9a2.7 2.7 0 1 0 5.4 0a2.7 2.7 0 1 0 -5.4 0M132.3 476.2a2.7 2.7 0 1 0 5.4 0a2.7 2.7 0 1 0 -5.4 0M134.7 474.5a2.7 2.7 0 1 0 5.4 0a2.7 2.7 0 1 0 -5.4 0M134.6 475.7a2.7 2.7 0 1 0 5.4 0a2.7 2.7 0 1 0 -5.4 0M137.8 475.5a2.7 2.7 0 1 0 5.4 0a2.7 2.7 0 1 0 -5.4 0M140.5 474.6a2.7 2.7 0 1 0 5.4 0a2.7 2.7 0 1 0 -5.4 0M142.3 475.2a2.7 2.7 0 1 0 5.4 0a2.7 2.7 0 1 0 -5.4 0M143.6 474.7a2.7 2.7 0 1 0 5.4 0a2.7 2.7 0 1 0 -5.4 0M127.7 475.5a2.7 2.7 0 1 0 5.4 0a2.7 2.7 0 1 0 -5.4 0M127.1 477.8a2.7 2.7 0 1 0 5.4 0a2.7 2.7 0 1 0 -5.4 0M129.2 478.3a2.7 2.7 0 1 0 5.4 0a2.7 2.7 0 1 0 -5.4 0M133.3 476.8a2.7 2.7 0 1 0 5.4 0a2.7 2.7 0 1 0 -5.4 0M134.9 476.7a2.7 2.7 0 1 0 5.4 0a2.7 2.7 0 1 0 -5.4 0M135.6 476.4a2.7 2.7 0 1 0 5.4 0a2.7 2.7 0 1 0 -5.4 0M138.0 476.4a2.7 2.7 0 1 0 5.4 0a2.7 2.7 0 1 0 -5.4 0M140.6 477.6a2.7 2.7 0 1 0 5.4 0a2.7 2.7 0 1 0 -5.4 0M141.9 477.9a2.7 2.7 0 1 0 5.4 0a2.7 2.7 0 1 0 -5.4 0M143.4 477.0a2.7 2.7 0 1 0 5.4 0a2.7 2.7 0 1 0 -5.4 0M145.8 476.1a2.7 2.7 0 1 0 5.4 0a2.7 2.7 0 1 0 -5.4 0M148.7 478.0a2.7 2.7 0 1 0 5.4 0a2.7 2.7 0 1 0 -5.4 0M129.8 478.5a2.7 2.7 0 1 0 5.4 0a2.7 2.7 0 1 0 -5.4 0M130.7 479.5a2.7 2.7 0 1 0 5.4 0a2.7 2.7 0 1 0 -5.4 0M133.4 478.5a2.7 2.7 0 1 0 5.4 0a2.7 2.7 0 1 0 -5.4 0M137.1 478.2a2.7 2.7 0 1 0 5.4 0a2.7 2.7 0 1 0 -5.4 0M137.7 480.1a2.7 2.7 0 1 0 5.4 0a2.7 2.7 0 1 0 -5.4 0M140.7 478.4a2.7 2.7 0 1 0 5.4 0a2.7 2.7 0 1 0 -5.4 0M142.6 479.6a2.7 2.7 0 1 0 5.4 0a2.7 2.7 0 1 0 -5.4 0M144.4 480.6a2.7 2.7 0 1 0 5.4 0a2.7 2.7 0 1 0 -5.4 0M146.8 479.7a2.7 2.7 0 1 0 5.4 0a2.7 2.7 0 1 0 -5.4 0M131.0 481.1a2.7 2.7 0 1 0 5.4 0a2.7 2.7 0 1 0 -5.4 0M131.5 482.2a2.7 2.7 0 1 0 5.4 0a2.7 2.7 0 1 0 -5.4 0M134.3 481.2a2.7 2.7 0 1 0 5.4 0a2.7 2.7 0 1 0 -5.4 0M136.2 481.5a2.7 2.7 0 1 0 5.4 0a2.7 2.7 0 1 0 -5.4 0M138.5 482.3a2.7 2.7 0 1 0 5.4 0a2.7 2.7 0 1 0 -5.4 0M141.0 481.6a2.7 2.7 0 1 0 5.4 0a2.7 2.7 0 1 0 -5.4 0M143.4 481.2a2.7 2.7 0 1 0 5.4 0a2.7 2.7 0 1 0 -5.4 0M144.8 482.1a2.7 2.7 0 1 0 5.4 0a2.7 2.7 0 1 0 -5.4 0M147.3 482.0a2.7 2.7 0 1 0 5.4 0a2.7 2.7 0 1 0 -5.4 0M130.9 483.2a2.7 2.7 0 1 0 5.4 0a2.7 2.7 0 1 0 -5.4 0M133.5 484.4a2.7 2.7 0 1 0 5.4 0a2.7 2.7 0 1 0 -5.4 0M134.4 483.0a2.7 2.7 0 1 0 5.4 0a2.7 2.7 0 1 0 -5.4 0M138.2 483.3a2.7 2.7 0 1 0 5.4 0a2.7 2.7 0 1 0 -5.4 0M140.4 482.5a2.7 2.7 0 1 0 5.4 0a2.7 2.7 0 1 0 -5.4 0M142.2 483.2a2.7 2.7 0 1 0 5.4 0a2.7 2.7 0 1 0 -5.4 0M143.7 482.2a2.7 2.7 0 1 0 5.4 0a2.7 2.7 0 1 0 -5.4 0M145.3 484.2a2.7 2.7 0 1 0 5.4 0a2.7 2.7 0 1 0 -5.4 0M132.5 485.3a2.7 2.7 0 1 0 5.4 0a2.7 2.7 0 1 0 -5.4 0M134.6 485.7a2.7 2.7 0 1 0 5.4 0a2.7 2.7 0 1 0 -5.4 0M135.7 486.4a2.7 2.7 0 1 0 5.4 0a2.7 2.7 0 1 0 -5.4 0M137.0 486.6a2.7 2.7 0 1 0 5.4 0a2.7 2.7 0 1 0 -5.4 0M138.9 486.6a2.7 2.7 0 1 0 5.4 0a2.7 2.7 0 1 0 -5.4 0M142.2 485.3a2.7 2.7 0 1 0 5.4 0a2.7 2.7 0 1 0 -5.4 0M145.1 485.4a2.7 2.7 0 1 0 5.4 0a2.7 2.7 0 1 0 -5.4 0M146.0 484.3a2.7 2.7 0 1 0 5.4 0a2.7 2.7 0 1 0 -5.4 0M131.8 488.5a2.7 2.7 0 1 0 5.4 0a2.7 2.7 0 1 0 -5.4 0M135.0 487.3a2.7 2.7 0 1 0 5.4 0a2.7 2.7 0 1 0 -5.4 0M134.8 488.3a2.7 2.7 0 1 0 5.4 0a2.7 2.7 0 1 0 -5.4 0M137.2 488.0a2.7 2.7 0 1 0 5.4 0a2.7 2.7 0 1 0 -5.4 0M140.0 488.6a2.7 2.7 0 1 0 5.4 0a2.7 2.7 0 1 0 -5.4 0M141.1 488.2a2.7 2.7 0 1 0 5.4 0a2.7 2.7 0 1 0 -5.4 0M144.6 486.1a2.7 2.7 0 1 0 5.4 0a2.7 2.7 0 1 0 -5.4 0M146.2 486.9a2.7 2.7 0 1 0 5.4 0a2.7 2.7 0 1 0 -5.4 0M133.8 488.7a2.7 2.7 0 1 0 5.4 0a2.7 2.7 0 1 0 -5.4 0M135.5 488.4a2.7 2.7 0 1 0 5.4 0a2.7 2.7 0 1 0 -5.4 0M138.1 488.3a2.7 2.7 0 1 0 5.4 0a2.7 2.7 0 1 0 -5.4 0M139.6 488.6a2.7 2.7 0 1 0 5.4 0a2.7 2.7 0 1 0 -5.4 0M141.7 488.2a2.7 2.7 0 1 0 5.4 0a2.7 2.7 0 1 0 -5.4 0M142.3 489.7a2.7 2.7 0 1 0 5.4 0a2.7 2.7 0 1 0 -5.4 0M146.1 490.4a2.7 2.7 0 1 0 5.4 0a2.7 2.7 0 1 0 -5.4 0M148.0 490.7a2.7 2.7 0 1 0 5.4 0a2.7 2.7 0 1 0 -5.4 0M132.4 489.7a2.7 2.7 0 1 0 5.4 0a2.7 2.7 0 1 0 -5.4 0M152.8 488.9a2.7 2.7 0 1 0 5.4 0a2.7 2.7 0 1 0 -5.4 0M134.9 491.6a2.7 2.7 0 1 0 5.4 0a2.7 2.7 0 1 0 -5.4 0M135.3 492.0a2.7 2.7 0 1 0 5.4 0a2.7 2.7 0 1 0 -5.4 0M138.4 490.5a2.7 2.7 0 1 0 5.4 0a2.7 2.7 0 1 0 -5.4 0M140.7 490.7a2.7 2.7 0 1 0 5.4 0a2.7 2.7 0 1 0 -5.4 0M141.9 491.3a2.7 2.7 0 1 0 5.4 0a2.7 2.7 0 1 0 -5.4 0M145.0 490.4a2.7 2.7 0 1 0 5.4 0a2.7 2.7 0 1 0 -5.4 0M146.2 490.7a2.7 2.7 0 1 0 5.4 0a2.7 2.7 0 1 0 -5.4 0M148.8 492.2a2.7 2.7 0 1 0 5.4 0a2.7 2.7 0 1 0 -5.4 0M133.4 491.3a2.7 2.7 0 1 0 5.4 0a2.7 2.7 0 1 0 -5.4 0M152.6 491.5a2.7 2.7 0 1 0 5.4 0a2.7 2.7 0 1 0 -5.4 0M134.5 494.1a2.7 2.7 0 1 0 5.4 0a2.7 2.7 0 1 0 -5.4 0M138.0 493.2a2.7 2.7 0 1 0 5.4 0a2.7 2.7 0 1 0 -5.4 0M139.1 493.2a2.7 2.7 0 1 0 5.4 0a2.7 2.7 0 1 0 -5.4 0M142.3 492.8a2.7 2.7 0 1 0 5.4 0a2.7 2.7 0 1 0 -5.4 0M142.8 494.4a2.7 2.7 0 1 0 5.4 0a2.7 2.7 0 1 0 -5.4 0M145.6 492.3a2.7 2.7 0 1 0 5.4 0a2.7 2.7 0 1 0 -5.4 0M148.8 492.4a2.7 2.7 0 1 0 5.4 0a2.7 2.7 0 1 0 -5.4 0M149.4 493.7a2.7 2.7 0 1 0 5.4 0a2.7 2.7 0 1 0 -5.4 0M135.9 495.3a2.7 2.7 0 1 0 5.4 0a2.7 2.7 0 1 0 -5.4 0M137.4 495.3a2.7 2.7 0 1 0 5.4 0a2.7 2.7 0 1 0 -5.4 0M139.4 496.6a2.7 2.7 0 1 0 5.4 0a2.7 2.7 0 1 0 -5.4 0M140.5 496.0a2.7 2.7 0 1 0 5.4 0a2.7 2.7 0 1 0 -5.4 0M142.5 496.4a2.7 2.7 0 1 0 5.4 0a2.7 2.7 0 1 0 -5.4 0M145.6 496.3a2.7 2.7 0 1 0 5.4 0a2.7 2.7 0 1 0 -5.4 0M147.8 495.6a2.7 2.7 0 1 0 5.4 0a2.7 2.7 0 1 0 -5.4 0M150.0 494.5a2.7 2.7 0 1 0 5.4 0a2.7 2.7 0 1 0 -5.4 0M151.1 494.3a2.7 2.7 0 1 0 5.4 0a2.7 2.7 0 1 0 -5.4 0M134.6 496.6a2.7 2.7 0 1 0 5.4 0a2.7 2.7 0 1 0 -5.4 0M136.0 497.6a2.7 2.7 0 1 0 5.4 0a2.7 2.7 0 1 0 -5.4 0M138.5 496.2a2.7 2.7 0 1 0 5.4 0a2.7 2.7 0 1 0 -5.4 0M140.3 498.6a2.7 2.7 0 1 0 5.4 0a2.7 2.7 0 1 0 -5.4 0M142.7 497.9a2.7 2.7 0 1 0 5.4 0a2.7 2.7 0 1 0 -5.4 0M144.6 496.3a2.7 2.7 0 1 0 5.4 0a2.7 2.7 0 1 0 -5.4 0M147.1 496.6a2.7 2.7 0 1 0 5.4 0a2.7 2.7 0 1 0 -5.4 0M147.8 497.7a2.7 2.7 0 1 0 5.4 0a2.7 2.7 0 1 0 -5.4 0M151.2 496.1a2.7 2.7 0 1 0 5.4 0a2.7 2.7 0 1 0 -5.4 0M154.0 497.1a2.7 2.7 0 1 0 5.4 0a2.7 2.7 0 1 0 -5.4 0M137.0 499.2a2.7 2.7 0 1 0 5.4 0a2.7 2.7 0 1 0 -5.4 0M139.4 498.4a2.7 2.7 0 1 0 5.4 0a2.7 2.7 0 1 0 -5.4 0M141.5 498.2a2.7 2.7 0 1 0 5.4 0a2.7 2.7 0 1 0 -5.4 0M141.4 500.1a2.7 2.7 0 1 0 5.4 0a2.7 2.7 0 1 0 -5.4 0M145.0 499.9a2.7 2.7 0 1 0 5.4 0a2.7 2.7 0 1 0 -5.4 0M145.7 500.4a2.7 2.7 0 1 0 5.4 0a2.7 2.7 0 1 0 -5.4 0M148.4 498.6a2.7 2.7 0 1 0 5.4 0a2.7 2.7 0 1 0 -5.4 0M149.3 500.7a2.7 2.7 0 1 0 5.4 0a2.7 2.7 0 1 0 -5.4 0M151.2 498.7a2.7 2.7 0 1 0 5.4 0a2.7 2.7 0 1 0 -5.4 0M137.8 500.1a2.7 2.7 0 1 0 5.4 0a2.7 2.7 0 1 0 -5.4 0M140.1 500.6a2.7 2.7 0 1 0 5.4 0a2.7 2.7 0 1 0 -5.4 0M142.7 502.6a2.7 2.7 0 1 0 5.4 0a2.7 2.7 0 1 0 -5.4 0M142.4 502.0a2.7 2.7 0 1 0 5.4 0a2.7 2.7 0 1 0 -5.4 0M144.8 500.4a2.7 2.7 0 1 0 5.4 0a2.7 2.7 0 1 0 -5.4 0M148.5 501.3a2.7 2.7 0 1 0 5.4 0a2.7 2.7 0 1 0 -5.4 0M149.0 501.6a2.7 2.7 0 1 0 5.4 0a2.7 2.7 0 1 0 -5.4 0M150.4 501.2a2.7 2.7 0 1 0 5.4 0a2.7 2.7 0 1 0 -5.4 0M153.9 502.3a2.7 2.7 0 1 0 5.4 0a2.7 2.7 0 1 0 -5.4 0M135.9 500.6a2.7 2.7 0 1 0 5.4 0a2.7 2.7 0 1 0 -5.4 0M155.0 500.7a2.7 2.7 0 1 0 5.4 0a2.7 2.7 0 1 0 -5.4 0M136.0 502.6a2.7 2.7 0 1 0 5.4 0a2.7 2.7 0 1 0 -5.4 0M138.3 502.4a2.7 2.7 0 1 0 5.4 0a2.7 2.7 0 1 0 -5.4 0M140.7 504.6a2.7 2.7 0 1 0 5.4 0a2.7 2.7 0 1 0 -5.4 0M142.2 503.2a2.7 2.7 0 1 0 5.4 0a2.7 2.7 0 1 0 -5.4 0M144.0 503.1a2.7 2.7 0 1 0 5.4 0a2.7 2.7 0 1 0 -5.4 0M146.0 502.6a2.7 2.7 0 1 0 5.4 0a2.7 2.7 0 1 0 -5.4 0M147.7 503.9a2.7 2.7 0 1 0 5.4 0a2.7 2.7 0 1 0 -5.4 0M150.2 502.3a2.7 2.7 0 1 0 5.4 0a2.7 2.7 0 1 0 -5.4 0M151.3 504.3a2.7 2.7 0 1 0 5.4 0a2.7 2.7 0 1 0 -5.4 0M153.9 504.3a2.7 2.7 0 1 0 5.4 0a2.7 2.7 0 1 0 -5.4 0M136.2 505.4a2.7 2.7 0 1 0 5.4 0a2.7 2.7 0 1 0 -5.4 0M139.6 504.4a2.7 2.7 0 1 0 5.4 0a2.7 2.7 0 1 0 -5.4 0M139.7 506.4a2.7 2.7 0 1 0 5.4 0a2.7 2.7 0 1 0 -5.4 0M143.5 506.2a2.7 2.7 0 1 0 5.4 0a2.7 2.7 0 1 0 -5.4 0M145.4 504.4a2.7 2.7 0 1 0 5.4 0a2.7 2.7 0 1 0 -5.4 0M147.0 504.4a2.7 2.7 0 1 0 5.4 0a2.7 2.7 0 1 0 -5.4 0M149.3 505.1a2.7 2.7 0 1 0 5.4 0a2.7 2.7 0 1 0 -5.4 0M150.4 505.5a2.7 2.7 0 1 0 5.4 0a2.7 2.7 0 1 0 -5.4 0M151.7 505.6a2.7 2.7 0 1 0 5.4 0a2.7 2.7 0 1 0 -5.4 0M155.4 505.3a2.7 2.7 0 1 0 5.4 0a2.7 2.7 0 1 0 -5.4 0M156.2 505.0a2.7 2.7 0 1 0 5.4 0a2.7 2.7 0 1 0 -5.4 0M137.7 506.8a2.7 2.7 0 1 0 5.4 0a2.7 2.7 0 1 0 -5.4 0M139.6 508.3a2.7 2.7 0 1 0 5.4 0a2.7 2.7 0 1 0 -5.4 0M141.4 506.6a2.7 2.7 0 1 0 5.4 0a2.7 2.7 0 1 0 -5.4 0M143.6 506.3a2.7 2.7 0 1 0 5.4 0a2.7 2.7 0 1 0 -5.4 0M145.1 506.7a2.7 2.7 0 1 0 5.4 0a2.7 2.7 0 1 0 -5.4 0M148.4 508.5a2.7 2.7 0 1 0 5.4 0a2.7 2.7 0 1 0 -5.4 0M149.4 506.9a2.7 2.7 0 1 0 5.4 0a2.7 2.7 0 1 0 -5.4 0M152.3 506.2a2.7 2.7 0 1 0 5.4 0a2.7 2.7 0 1 0 -5.4 0M153.0 507.6a2.7 2.7 0 1 0 5.4 0a2.7 2.7 0 1 0 -5.4 0M155.6 506.4a2.7 2.7 0 1 0 5.4 0a2.7 2.7 0 1 0 -5.4 0M136.9 508.3a2.7 2.7 0 1 0 5.4 0a2.7 2.7 0 1 0 -5.4 0M140.4 508.1a2.7 2.7 0 1 0 5.4 0a2.7 2.7 0 1 0 -5.4 0M141.3 508.5a2.7 2.7 0 1 0 5.4 0a2.7 2.7 0 1 0 -5.4 0M142.8 510.1a2.7 2.7 0 1 0 5.4 0a2.7 2.7 0 1 0 -5.4 0M146.7 510.6a2.7 2.7 0 1 0 5.4 0a2.7 2.7 0 1 0 -5.4 0M147.1 509.5a2.7 2.7 0 1 0 5.4 0a2.7 2.7 0 1 0 -5.4 0M149.4 508.3a2.7 2.7 0 1 0 5.4 0a2.7 2.7 0 1 0 -5.4 0M151.3 509.7a2.7 2.7 0 1 0 5.4 0a2.7 2.7 0 1 0 -5.4 0M153.3 510.1a2.7 2.7 0 1 0 5.4 0a2.7 2.7 0 1 0 -5.4 0M154.1 509.5a2.7 2.7 0 1 0 5.4 0a2.7 2.7 0 1 0 -5.4 0M137.3 511.7a2.7 2.7 0 1 0 5.4 0a2.7 2.7 0 1 0 -5.4 0M139.3 512.3a2.7 2.7 0 1 0 5.4 0a2.7 2.7 0 1 0 -5.4 0M142.0 511.3a2.7 2.7 0 1 0 5.4 0a2.7 2.7 0 1 0 -5.4 0M143.0 512.1a2.7 2.7 0 1 0 5.4 0a2.7 2.7 0 1 0 -5.4 0M146.3 511.7a2.7 2.7 0 1 0 5.4 0a2.7 2.7 0 1 0 -5.4 0M148.3 511.5a2.7 2.7 0 1 0 5.4 0a2.7 2.7 0 1 0 -5.4 0M149.2 510.9a2.7 2.7 0 1 0 5.4 0a2.7 2.7 0 1 0 -5.4 0M150.8 510.5a2.7 2.7 0 1 0 5.4 0a2.7 2.7 0 1 0 -5.4 0M154.5 511.5a2.7 2.7 0 1 0 5.4 0a2.7 2.7 0 1 0 -5.4 0M136.1 511.2a2.7 2.7 0 1 0 5.4 0a2.7 2.7 0 1 0 -5.4 0M138.6 513.2a2.7 2.7 0 1 0 5.4 0a2.7 2.7 0 1 0 -5.4 0M142.3 513.1a2.7 2.7 0 1 0 5.4 0a2.7 2.7 0 1 0 -5.4 0M143.5 512.2a2.7 2.7 0 1 0 5.4 0a2.7 2.7 0 1 0 -5.4 0M145.1 513.4a2.7 2.7 0 1 0 5.4 0a2.7 2.7 0 1 0 -5.4 0M148.2 514.6a2.7 2.7 0 1 0 5.4 0a2.7 2.7 0 1 0 -5.4 0M149.8 513.0a2.7 2.7 0 1 0 5.4 0a2.7 2.7 0 1 0 -5.4 0M152.1 514.5a2.7 2.7 0 1 0 5.4 0a2.7 2.7 0 1 0 -5.4 0M152.0 513.2a2.7 2.7 0 1 0 5.4 0a2.7 2.7 0 1 0 -5.4 0M155.3 512.9a2.7 2.7 0 1 0 5.4 0a2.7 2.7 0 1 0 -5.4 0M137.9 512.8a2.7 2.7 0 1 0 5.4 0a2.7 2.7 0 1 0 -5.4 0M139.2 514.1a2.7 2.7 0 1 0 5.4 0a2.7 2.7 0 1 0 -5.4 0M139.0 516.4a2.7 2.7 0 1 0 5.4 0a2.7 2.7 0 1 0 -5.4 0M143.1 515.4a2.7 2.7 0 1 0 5.4 0a2.7 2.7 0 1 0 -5.4 0M143.4 514.9a2.7 2.7 0 1 0 5.4 0a2.7 2.7 0 1 0 -5.4 0M146.6 515.6a2.7 2.7 0 1 0 5.4 0a2.7 2.7 0 1 0 -5.4 0M147.8 515.9a2.7 2.7 0 1 0 5.4 0a2.7 2.7 0 1 0 -5.4 0M148.9 515.1a2.7 2.7 0 1 0 5.4 0a2.7 2.7 0 1 0 -5.4 0M153.0 516.5a2.7 2.7 0 1 0 5.4 0a2.7 2.7 0 1 0 -5.4 0M153.9 516.1a2.7 2.7 0 1 0 5.4 0a2.7 2.7 0 1 0 -5.4 0M138.2 517.0a2.7 2.7 0 1 0 5.4 0a2.7 2.7 0 1 0 -5.4 0M139.8 516.2a2.7 2.7 0 1 0 5.4 0a2.7 2.7 0 1 0 -5.4 0M142.9 516.8a2.7 2.7 0 1 0 5.4 0a2.7 2.7 0 1 0 -5.4 0M144.1 517.7a2.7 2.7 0 1 0 5.4 0a2.7 2.7 0 1 0 -5.4 0M145.3 516.6a2.7 2.7 0 1 0 5.4 0a2.7 2.7 0 1 0 -5.4 0M147.9 516.9a2.7 2.7 0 1 0 5.4 0a2.7 2.7 0 1 0 -5.4 0M148.6 516.6a2.7 2.7 0 1 0 5.4 0a2.7 2.7 0 1 0 -5.4 0M150.5 518.4a2.7 2.7 0 1 0 5.4 0a2.7 2.7 0 1 0 -5.4 0M152.9 518.5a2.7 2.7 0 1 0 5.4 0a2.7 2.7 0 1 0 -5.4 0M137.5 519.7a2.7 2.7 0 1 0 5.4 0a2.7 2.7 0 1 0 -5.4 0M141.1 519.9a2.7 2.7 0 1 0 5.4 0a2.7 2.7 0 1 0 -5.4 0M143.6 518.4a2.7 2.7 0 1 0 5.4 0a2.7 2.7 0 1 0 -5.4 0M144.9 519.9a2.7 2.7 0 1 0 5.4 0a2.7 2.7 0 1 0 -5.4 0M147.7 518.8a2.7 2.7 0 1 0 5.4 0a2.7 2.7 0 1 0 -5.4 0M149.7 518.2a2.7 2.7 0 1 0 5.4 0a2.7 2.7 0 1 0 -5.4 0M150.8 519.0a2.7 2.7 0 1 0 5.4 0a2.7 2.7 0 1 0 -5.4 0M152.6 518.6a2.7 2.7 0 1 0 5.4 0a2.7 2.7 0 1 0 -5.4 0M157.2 519.2a2.7 2.7 0 1 0 5.4 0a2.7 2.7 0 1 0 -5.4 0M138.4 522.7a2.7 2.7 0 1 0 5.4 0a2.7 2.7 0 1 0 -5.4 0M141.4 520.5a2.7 2.7 0 1 0 5.4 0a2.7 2.7 0 1 0 -5.4 0M142.8 520.5a2.7 2.7 0 1 0 5.4 0a2.7 2.7 0 1 0 -5.4 0M144.0 522.7a2.7 2.7 0 1 0 5.4 0a2.7 2.7 0 1 0 -5.4 0M146.0 520.4a2.7 2.7 0 1 0 5.4 0a2.7 2.7 0 1 0 -5.4 0M148.6 521.6a2.7 2.7 0 1 0 5.4 0a2.7 2.7 0 1 0 -5.4 0M150.5 522.6a2.7 2.7 0 1 0 5.4 0a2.7 2.7 0 1 0 -5.4 0M152.5 521.0a2.7 2.7 0 1 0 5.4 0a2.7 2.7 0 1 0 -5.4 0M138.6 521.9a2.7 2.7 0 1 0 5.4 0a2.7 2.7 0 1 0 -5.4 0M139.9 524.7a2.7 2.7 0 1 0 5.4 0a2.7 2.7 0 1 0 -5.4 0M141.2 523.9a2.7 2.7 0 1 0 5.4 0a2.7 2.7 0 1 0 -5.4 0M142.5 522.5a2.7 2.7 0 1 0 5.4 0a2.7 2.7 0 1 0 -5.4 0M143.8 523.7a2.7 2.7 0 1 0 5.4 0a2.7 2.7 0 1 0 -5.4 0M148.1 523.9a2.7 2.7 0 1 0 5.4 0a2.7 2.7 0 1 0 -5.4 0M149.4 524.3a2.7 2.7 0 1 0 5.4 0a2.7 2.7 0 1 0 -5.4 0M150.8 523.2a2.7 2.7 0 1 0 5.4 0a2.7 2.7 0 1 0 -5.4 0M152.4 524.3a2.7 2.7 0 1 0 5.4 0a2.7 2.7 0 1 0 -5.4 0M139.3 524.7a2.7 2.7 0 1 0 5.4 0a2.7 2.7 0 1 0 -5.4 0M142.4 526.0a2.7 2.7 0 1 0 5.4 0a2.7 2.7 0 1 0 -5.4 0M143.8 525.3a2.7 2.7 0 1 0 5.4 0a2.7 2.7 0 1 0 -5.4 0M146.9 524.9a2.7 2.7 0 1 0 5.4 0a2.7 2.7 0 1 0 -5.4 0M148.9 524.3a2.7 2.7 0 1 0 5.4 0a2.7 2.7 0 1 0 -5.4 0M150.3 525.8a2.7 2.7 0 1 0 5.4 0a2.7 2.7 0 1 0 -5.4 0M153.5 525.4a2.7 2.7 0 1 0 5.4 0a2.7 2.7 0 1 0 -5.4 0M154.9 525.8a2.7 2.7 0 1 0 5.4 0a2.7 2.7 0 1 0 -5.4 0M141.3 528.1a2.7 2.7 0 1 0 5.4 0a2.7 2.7 0 1 0 -5.4 0M142.7 528.1a2.7 2.7 0 1 0 5.4 0a2.7 2.7 0 1 0 -5.4 0M143.9 526.6a2.7 2.7 0 1 0 5.4 0a2.7 2.7 0 1 0 -5.4 0M146.4 527.3a2.7 2.7 0 1 0 5.4 0a2.7 2.7 0 1 0 -5.4 0M148.7 528.4a2.7 2.7 0 1 0 5.4 0a2.7 2.7 0 1 0 -5.4 0M150.1 527.1a2.7 2.7 0 1 0 5.4 0a2.7 2.7 0 1 0 -5.4 0M152.9 528.4a2.7 2.7 0 1 0 5.4 0a2.7 2.7 0 1 0 -5.4 0M154.5 527.6a2.7 2.7 0 1 0 5.4 0a2.7 2.7 0 1 0 -5.4 0M138.8 529.5a2.7 2.7 0 1 0 5.4 0a2.7 2.7 0 1 0 -5.4 0M141.8 530.6a2.7 2.7 0 1 0 5.4 0a2.7 2.7 0 1 0 -5.4 0M143.1 528.2a2.7 2.7 0 1 0 5.4 0a2.7 2.7 0 1 0 -5.4 0M147.0 529.3a2.7 2.7 0 1 0 5.4 0a2.7 2.7 0 1 0 -5.4 0M147.7 529.2a2.7 2.7 0 1 0 5.4 0a2.7 2.7 0 1 0 -5.4 0M149.2 528.2a2.7 2.7 0 1 0 5.4 0a2.7 2.7 0 1 0 -5.4 0M152.0 528.7a2.7 2.7 0 1 0 5.4 0a2.7 2.7 0 1 0 -5.4 0M153.8 530.7a2.7 2.7 0 1 0 5.4 0a2.7 2.7 0 1 0 -5.4 0M157.1 528.9a2.7 2.7 0 1 0 5.4 0a2.7 2.7 0 1 0 -5.4 0M157.4 528.4a2.7 2.7 0 1 0 5.4 0a2.7 2.7 0 1 0 -5.4 0M160.0 530.2a2.7 2.7 0 1 0 5.4 0a2.7 2.7 0 1 0 -5.4 0M140.4 530.6a2.7 2.7 0 1 0 5.4 0a2.7 2.7 0 1 0 -5.4 0M143.4 531.9a2.7 2.7 0 1 0 5.4 0a2.7 2.7 0 1 0 -5.4 0M144.4 531.4a2.7 2.7 0 1 0 5.4 0a2.7 2.7 0 1 0 -5.4 0M147.3 531.4a2.7 2.7 0 1 0 5.4 0a2.7 2.7 0 1 0 -5.4 0M148.7 531.3a2.7 2.7 0 1 0 5.4 0a2.7 2.7 0 1 0 -5.4 0M150.2 530.4a2.7 2.7 0 1 0 5.4 0a2.7 2.7 0 1 0 -5.4 0M152.0 532.3a2.7 2.7 0 1 0 5.4 0a2.7 2.7 0 1 0 -5.4 0M154.5 531.9a2.7 2.7 0 1 0 5.4 0a2.7 2.7 0 1 0 -5.4 0M156.2 532.4a2.7 2.7 0 1 0 5.4 0a2.7 2.7 0 1 0 -5.4 0M158.0 532.2a2.7 2.7 0 1 0 5.4 0a2.7 2.7 0 1 0 -5.4 0M142.0 532.7a2.7 2.7 0 1 0 5.4 0a2.7 2.7 0 1 0 -5.4 0M144.0 534.3a2.7 2.7 0 1 0 5.4 0a2.7 2.7 0 1 0 -5.4 0M146.2 533.9a2.7 2.7 0 1 0 5.4 0a2.7 2.7 0 1 0 -5.4 0M150.3 533.9a2.7 2.7 0 1 0 5.4 0a2.7 2.7 0 1 0 -5.4 0M152.5 533.8a2.7 2.7 0 1 0 5.4 0a2.7 2.7 0 1 0 -5.4 0M152.9 534.6a2.7 2.7 0 1 0 5.4 0a2.7 2.7 0 1 0 -5.4 0M154.4 533.5a2.7 2.7 0 1 0 5.4 0a2.7 2.7 0 1 0 -5.4 0M156.9 533.5a2.7 2.7 0 1 0 5.4 0a2.7 2.7 0 1 0 -5.4 0M142.2 534.4a2.7 2.7 0 1 0 5.4 0a2.7 2.7 0 1 0 -5.4 0M144.6 534.2a2.7 2.7 0 1 0 5.4 0a2.7 2.7 0 1 0 -5.4 0M146.5 534.4a2.7 2.7 0 1 0 5.4 0a2.7 2.7 0 1 0 -5.4 0M146.4 534.8a2.7 2.7 0 1 0 5.4 0a2.7 2.7 0 1 0 -5.4 0M149.1 535.4a2.7 2.7 0 1 0 5.4 0a2.7 2.7 0 1 0 -5.4 0M152.7 534.5a2.7 2.7 0 1 0 5.4 0a2.7 2.7 0 1 0 -5.4 0M153.9 535.4a2.7 2.7 0 1 0 5.4 0a2.7 2.7 0 1 0 -5.4 0M154.5 536.7a2.7 2.7 0 1 0 5.4 0a2.7 2.7 0 1 0 -5.4 0M158.6 535.0a2.7 2.7 0 1 0 5.4 0a2.7 2.7 0 1 0 -5.4 0M144.7 537.0a2.7 2.7 0 1 0 5.4 0a2.7 2.7 0 1 0 -5.4 0M145.2 537.3a2.7 2.7 0 1 0 5.4 0a2.7 2.7 0 1 0 -5.4 0M148.6 536.8a2.7 2.7 0 1 0 5.4 0a2.7 2.7 0 1 0 -5.4 0M150.6 536.1a2.7 2.7 0 1 0 5.4 0a2.7 2.7 0 1 0 -5.4 0M151.7 537.4a2.7 2.7 0 1 0 5.4 0a2.7 2.7 0 1 0 -5.4 0M154.3 537.9a2.7 2.7 0 1 0 5.4 0a2.7 2.7 0 1 0 -5.4 0M155.7 536.8a2.7 2.7 0 1 0 5.4 0a2.7 2.7 0 1 0 -5.4 0M159.0 536.8a2.7 2.7 0 1 0 5.4 0a2.7 2.7 0 1 0 -5.4 0M142.5 537.1a2.7 2.7 0 1 0 5.4 0a2.7 2.7 0 1 0 -5.4 0M146.5 540.6a2.7 2.7 0 1 0 5.4 0a2.7 2.7 0 1 0 -5.4 0M148.5 539.0a2.7 2.7 0 1 0 5.4 0a2.7 2.7 0 1 0 -5.4 0M150.9 538.4a2.7 2.7 0 1 0 5.4 0a2.7 2.7 0 1 0 -5.4 0M151.0 539.4a2.7 2.7 0 1 0 5.4 0a2.7 2.7 0 1 0 -5.4 0M152.8 539.7a2.7 2.7 0 1 0 5.4 0a2.7 2.7 0 1 0 -5.4 0M155.9 538.6a2.7 2.7 0 1 0 5.4 0a2.7 2.7 0 1 0 -5.4 0M158.4 538.3a2.7 2.7 0 1 0 5.4 0a2.7 2.7 0 1 0 -5.4 0M159.8 538.8a2.7 2.7 0 1 0 5.4 0a2.7 2.7 0 1 0 -5.4 0M159.7 539.8a2.7 2.7 0 1 0 5.4 0a2.7 2.7 0 1 0 -5.4 0M143.9 540.3a2.7 2.7 0 1 0 5.4 0a2.7 2.7 0 1 0 -5.4 0M145.7 541.5a2.7 2.7 0 1 0 5.4 0a2.7 2.7 0 1 0 -5.4 0M148.9 541.5a2.7 2.7 0 1 0 5.4 0a2.7 2.7 0 1 0 -5.4 0M150.8 542.4a2.7 2.7 0 1 0 5.4 0a2.7 2.7 0 1 0 -5.4 0M152.2 540.5a2.7 2.7 0 1 0 5.4 0a2.7 2.7 0 1 0 -5.4 0M154.3 542.3a2.7 2.7 0 1 0 5.4 0a2.7 2.7 0 1 0 -5.4 0M157.7 540.4a2.7 2.7 0 1 0 5.4 0a2.7 2.7 0 1 0 -5.4 0M157.6 542.7a2.7 2.7 0 1 0 5.4 0a2.7 2.7 0 1 0 -5.4 0M162.1 540.8a2.7 2.7 0 1 0 5.4 0a2.7 2.7 0 1 0 -5.4 0M162.1 540.7a2.7 2.7 0 1 0 5.4 0a2.7 2.7 0 1 0 -5.4 0M145.8 543.0a2.7 2.7 0 1 0 5.4 0a2.7 2.7 0 1 0 -5.4 0M147.6 544.6a2.7 2.7 0 1 0 5.4 0a2.7 2.7 0 1 0 -5.4 0M149.7 544.6a2.7 2.7 0 1 0 5.4 0a2.7 2.7 0 1 0 -5.4 0M152.2 542.7a2.7 2.7 0 1 0 5.4 0a2.7 2.7 0 1 0 -5.4 0M153.0 544.2a2.7 2.7 0 1 0 5.4 0a2.7 2.7 0 1 0 -5.4 0M156.3 542.5a2.7 2.7 0 1 0 5.4 0a2.7 2.7 0 1 0 -5.4 0M158.4 542.9a2.7 2.7 0 1 0 5.4 0a2.7 2.7 0 1 0 -5.4 0M159.8 544.4a2.7 2.7 0 1 0 5.4 0a2.7 2.7 0 1 0 -5.4 0M162.7 542.6a2.7 2.7 0 1 0 5.4 0a2.7 2.7 0 1 0 -5.4 0M142.8 543.6a2.7 2.7 0 1 0 5.4 0a2.7 2.7 0 1 0 -5.4 0M147.0 545.3a2.7 2.7 0 1 0 5.4 0a2.7 2.7 0 1 0 -5.4 0M147.8 546.2a2.7 2.7 0 1 0 5.4 0a2.7 2.7 0 1 0 -5.4 0M150.4 546.4a2.7 2.7 0 1 0 5.4 0a2.7 2.7 0 1 0 -5.4 0M153.4 545.3a2.7 2.7 0 1 0 5.4 0a2.7 2.7 0 1 0 -5.4 0M153.7 544.4a2.7 2.7 0 1 0 5.4 0a2.7 2.7 0 1 0 -5.4 0M156.3 544.9a2.7 2.7 0 1 0 5.4 0a2.7 2.7 0 1 0 -5.4 0M157.6 545.4a2.7 2.7 0 1 0 5.4 0a2.7 2.7 0 1 0 -5.4 0M160.7 545.9a2.7 2.7 0 1 0 5.4 0a2.7 2.7 0 1 0 -5.4 0M162.0 545.8a2.7 2.7 0 1 0 5.4 0a2.7 2.7 0 1 0 -5.4 0M146.0 548.3a2.7 2.7 0 1 0 5.4 0a2.7 2.7 0 1 0 -5.4 0M147.4 548.2a2.7 2.7 0 1 0 5.4 0a2.7 2.7 0 1 0 -5.4 0M149.4 547.7a2.7 2.7 0 1 0 5.4 0a2.7 2.7 0 1 0 -5.4 0M152.1 546.5a2.7 2.7 0 1 0 5.4 0a2.7 2.7 0 1 0 -5.4 0M155.3 546.5a2.7 2.7 0 1 0 5.4 0a2.7 2.7 0 1 0 -5.4 0M157.1 546.3a2.7 2.7 0 1 0 5.4 0a2.7 2.7 0 1 0 -5.4 0M157.9 547.1a2.7 2.7 0 1 0 5.4 0a2.7 2.7 0 1 0 -5.4 0M160.9 547.8a2.7 2.7 0 1 0 5.4 0a2.7 2.7 0 1 0 -5.4 0M162.3 548.4a2.7 2.7 0 1 0 5.4 0a2.7 2.7 0 1 0 -5.4 0M143.4 547.2a2.7 2.7 0 1 0 5.4 0a2.7 2.7 0 1 0 -5.4 0M146.7 549.8a2.7 2.7 0 1 0 5.4 0a2.7 2.7 0 1 0 -5.4 0M149.6 548.5a2.7 2.7 0 1 0 5.4 0a2.7 2.7 0 1 0 -5.4 0M150.7 549.3a2.7 2.7 0 1 0 5.4 0a2.7 2.7 0 1 0 -5.4 0M153.3 549.5a2.7 2.7 0 1 0 5.4 0a2.7 2.7 0 1 0 -5.4 0M154.1 548.6a2.7 2.7 0 1 0 5.4 0a2.7 2.7 0 1 0 -5.4 0M156.6 548.3a2.7 2.7 0 1 0 5.4 0a2.7 2.7 0 1 0 -5.4 0M159.8 550.4a2.7 2.7 0 1 0 5.4 0a2.7 2.7 0 1 0 -5.4 0M161.7 548.7a2.7 2.7 0 1 0 5.4 0a2.7 2.7 0 1 0 -5.4 0M163.3 548.2a2.7 2.7 0 1 0 5.4 0a2.7 2.7 0 1 0 -5.4 0M143.9 549.6a2.7 2.7 0 1 0 5.4 0a2.7 2.7 0 1 0 -5.4 0M147.2 552.0a2.7 2.7 0 1 0 5.4 0a2.7 2.7 0 1 0 -5.4 0M150.1 551.1a2.7 2.7 0 1 0 5.4 0a2.7 2.7 0 1 0 -5.4 0M151.0 552.4a2.7 2.7 0 1 0 5.4 0a2.7 2.7 0 1 0 -5.4 0M152.0 551.7a2.7 2.7 0 1 0 5.4 0a2.7 2.7 0 1 0 -5.4 0M154.1 552.2a2.7 2.7 0 1 0 5.4 0a2.7 2.7 0 1 0 -5.4 0M157.6 550.3a2.7 2.7 0 1 0 5.4 0a2.7 2.7 0 1 0 -5.4 0M158.0 552.5a2.7 2.7 0 1 0 5.4 0a2.7 2.7 0 1 0 -5.4 0M160.7 551.6a2.7 2.7 0 1 0 5.4 0a2.7 2.7 0 1 0 -5.4 0M163.4 551.1a2.7 2.7 0 1 0 5.4 0a2.7 2.7 0 1 0 -5.4 0M145.5 551.1a2.7 2.7 0 1 0 5.4 0a2.7 2.7 0 1 0 -5.4 0M164.2 552.3a2.7 2.7 0 1 0 5.4 0a2.7 2.7 0 1 0 -5.4 0M147.4 553.3a2.7 2.7 0 1 0 5.4 0a2.7 2.7 0 1 0 -5.4 0M149.7 553.1a2.7 2.7 0 1 0 5.4 0a2.7 2.7 0 1 0 -5.4 0M149.5 552.8a2.7 2.7 0 1 0 5.4 0a2.7 2.7 0 1 0 -5.4 0M153.7 553.6a2.7 2.7 0 1 0 5.4 0a2.7 2.7 0 1 0 -5.4 0M155.9 554.2a2.7 2.7 0 1 0 5.4 0a2.7 2.7 0 1 0 -5.4 0M157.1 552.6a2.7 2.7 0 1 0 5.4 0a2.7 2.7 0 1 0 -5.4 0M158.5 552.2a2.7 2.7 0 1 0 5.4 0a2.7 2.7 0 1 0 -5.4 0M160.2 552.7a2.7 2.7 0 1 0 5.4 0a2.7 2.7 0 1 0 -5.4 0M163.8 552.5a2.7 2.7 0 1 0 5.4 0a2.7 2.7 0 1 0 -5.4 0M144.2 552.7a2.7 2.7 0 1 0 5.4 0a2.7 2.7 0 1 0 -5.4 0M147.7 555.9a2.7 2.7 0 1 0 5.4 0a2.7 2.7 0 1 0 -5.4 0M148.1 556.0a2.7 2.7 0 1 0 5.4 0a2.7 2.7 0 1 0 -5.4 0M151.4 555.6a2.7 2.7 0 1 0 5.4 0a2.7 2.7 0 1 0 -5.4 0M152.9 556.5a2.7 2.7 0 1 0 5.4 0a2.7 2.7 0 1 0 -5.4 0M155.1 554.3a2.7 2.7 0 1 0 5.4 0a2.7 2.7 0 1 0 -5.4 0M157.8 555.8a2.7 2.7 0 1 0 5.4 0a2.7 2.7 0 1 0 -5.4 0M158.3 556.1a2.7 2.7 0 1 0 5.4 0a2.7 2.7 0 1 0 -5.4 0M162.0 556.0a2.7 2.7 0 1 0 5.4 0a2.7 2.7 0 1 0 -5.4 0M162.8 556.3a2.7 2.7 0 1 0 5.4 0a2.7 2.7 0 1 0 -5.4 0M163.8 554.2a2.7 2.7 0 1 0 5.4 0a2.7 2.7 0 1 0 -5.4 0M147.9 557.1a2.7 2.7 0 1 0 5.4 0a2.7 2.7 0 1 0 -5.4 0M150.4 557.6a2.7 2.7 0 1 0 5.4 0a2.7 2.7 0 1 0 -5.4 0M151.1 557.6a2.7 2.7 0 1 0 5.4 0a2.7 2.7 0 1 0 -5.4 0M153.7 558.2a2.7 2.7 0 1 0 5.4 0a2.7 2.7 0 1 0 -5.4 0M156.3 558.7a2.7 2.7 0 1 0 5.4 0a2.7 2.7 0 1 0 -5.4 0M158.5 557.4a2.7 2.7 0 1 0 5.4 0a2.7 2.7 0 1 0 -5.4 0M160.3 556.9a2.7 2.7 0 1 0 5.4 0a2.7 2.7 0 1 0 -5.4 0M162.0 558.7a2.7 2.7 0 1 0 5.4 0a2.7 2.7 0 1 0 -5.4 0M162.8 557.2a2.7 2.7 0 1 0 5.4 0a2.7 2.7 0 1 0 -5.4 0M165.6 558.0a2.7 2.7 0 1 0 5.4 0a2.7 2.7 0 1 0 -5.4 0M146.6 556.6a2.7 2.7 0 1 0 5.4 0a2.7 2.7 0 1 0 -5.4 0M147.6 559.5a2.7 2.7 0 1 0 5.4 0a2.7 2.7 0 1 0 -5.4 0M148.4 559.0a2.7 2.7 0 1 0 5.4 0a2.7 2.7 0 1 0 -5.4 0M152.0 559.3a2.7 2.7 0 1 0 5.4 0a2.7 2.7 0 1 0 -5.4 0M153.2 560.6a2.7 2.7 0 1 0 5.4 0a2.7 2.7 0 1 0 -5.4 0M155.0 560.2a2.7 2.7 0 1 0 5.4 0a2.7 2.7 0 1 0 -5.4 0M157.3 560.3a2.7 2.7 0 1 0 5.4 0a2.7 2.7 0 1 0 -5.4 0M159.3 558.4a2.7 2.7 0 1 0 5.4 0a2.7 2.7 0 1 0 -5.4 0M160.3 558.8a2.7 2.7 0 1 0 5.4 0a2.7 2.7 0 1 0 -5.4 0M162.3 559.6a2.7 2.7 0 1 0 5.4 0a2.7 2.7 0 1 0 -5.4 0M164.8 559.0a2.7 2.7 0 1 0 5.4 0a2.7 2.7 0 1 0 -5.4 0M165.8 560.7a2.7 2.7 0 1 0 5.4 0a2.7 2.7 0 1 0 -5.4 0M169.4 558.6a2.7 2.7 0 1 0 5.4 0a2.7 2.7 0 1 0 -5.4 0M147.4 561.0a2.7 2.7 0 1 0 5.4 0a2.7 2.7 0 1 0 -5.4 0M148.0 562.0a2.7 2.7 0 1 0 5.4 0a2.7 2.7 0 1 0 -5.4 0M150.3 560.9a2.7 2.7 0 1 0 5.4 0a2.7 2.7 0 1 0 -5.4 0M152.5 561.8a2.7 2.7 0 1 0 5.4 0a2.7 2.7 0 1 0 -5.4 0M154.4 560.2a2.7 2.7 0 1 0 5.4 0a2.7 2.7 0 1 0 -5.4 0M158.1 561.5a2.7 2.7 0 1 0 5.4 0a2.7 2.7 0 1 0 -5.4 0M158.2 560.2a2.7 2.7 0 1 0 5.4 0a2.7 2.7 0 1 0 -5.4 0M162.4 561.4a2.7 2.7 0 1 0 5.4 0a2.7 2.7 0 1 0 -5.4 0M163.5 562.5a2.7 2.7 0 1 0 5.4 0a2.7 2.7 0 1 0 -5.4 0M164.1 560.3a2.7 2.7 0 1 0 5.4 0a2.7 2.7 0 1 0 -5.4 0M166.6 561.9a2.7 2.7 0 1 0 5.4 0a2.7 2.7 0 1 0 -5.4 0M168.4 561.6a2.7 2.7 0 1 0 5.4 0a2.7 2.7 0 1 0 -5.4 0M169.7 560.5a2.7 2.7 0 1 0 5.4 0a2.7 2.7 0 1 0 -5.4 0M148.5 563.2a2.7 2.7 0 1 0 5.4 0a2.7 2.7 0 1 0 -5.4 0M150.6 564.6a2.7 2.7 0 1 0 5.4 0a2.7 2.7 0 1 0 -5.4 0M153.4 564.3a2.7 2.7 0 1 0 5.4 0a2.7 2.7 0 1 0 -5.4 0M154.9 564.7a2.7 2.7 0 1 0 5.4 0a2.7 2.7 0 1 0 -5.4 0M156.2 562.1a2.7 2.7 0 1 0 5.4 0a2.7 2.7 0 1 0 -5.4 0M159.4 563.1a2.7 2.7 0 1 0 5.4 0a2.7 2.7 0 1 0 -5.4 0M160.2 564.7a2.7 2.7 0 1 0 5.4 0a2.7 2.7 0 1 0 -5.4 0M162.5 562.4a2.7 2.7 0 1 0 5.4 0a2.7 2.7 0 1 0 -5.4 0M166.0 562.1a2.7 2.7 0 1 0 5.4 0a2.7 2.7 0 1 0 -5.4 0M165.7 564.0a2.7 2.7 0 1 0 5.4 0a2.7 2.7 0 1 0 -5.4 0M168.1 564.1a2.7 2.7 0 1 0 5.4 0a2.7 2.7 0 1 0 -5.4 0M147.1 563.2a2.7 2.7 0 1 0 5.4 0a2.7 2.7 0 1 0 -5.4 0M148.8 566.6a2.7 2.7 0 1 0 5.4 0a2.7 2.7 0 1 0 -5.4 0M150.5 565.4a2.7 2.7 0 1 0 5.4 0a2.7 2.7 0 1 0 -5.4 0M152.7 566.3a2.7 2.7 0 1 0 5.4 0a2.7 2.7 0 1 0 -5.4 0M156.0 565.4a2.7 2.7 0 1 0 5.4 0a2.7 2.7 0 1 0 -5.4 0M159.5 564.8a2.7 2.7 0 1 0 5.4 0a2.7 2.7 0 1 0 -5.4 0M160.9 566.1a2.7 2.7 0 1 0 5.4 0a2.7 2.7 0 1 0 -5.4 0M161.3 566.3a2.7 2.7 0 1 0 5.4 0a2.7 2.7 0 1 0 -5.4 0M164.3 566.2a2.7 2.7 0 1 0 5.4 0a2.7 2.7 0 1 0 -5.4 0M167.6 565.1a2.7 2.7 0 1 0 5.4 0a2.7 2.7 0 1 0 -5.4 0M168.7 565.3a2.7 2.7 0 1 0 5.4 0a2.7 2.7 0 1 0 -5.4 0M148.3 566.0a2.7 2.7 0 1 0 5.4 0a2.7 2.7 0 1 0 -5.4 0M150.4 568.5a2.7 2.7 0 1 0 5.4 0a2.7 2.7 0 1 0 -5.4 0M152.7 569.1a2.7 2.7 0 1 0 5.4 0a2.7 2.7 0 1 0 -5.4 0M155.4 569.1a2.7 2.7 0 1 0 5.4 0a2.7 2.7 0 1 0 -5.4 0M156.5 567.9a2.7 2.7 0 1 0 5.4 0a2.7 2.7 0 1 0 -5.4 0M157.8 567.8a2.7 2.7 0 1 0 5.4 0a2.7 2.7 0 1 0 -5.4 0M161.1 567.3a2.7 2.7 0 1 0 5.4 0a2.7 2.7 0 1 0 -5.4 0M164.5 568.8a2.7 2.7 0 1 0 5.4 0a2.7 2.7 0 1 0 -5.4 0M166.4 567.1a2.7 2.7 0 1 0 5.4 0a2.7 2.7 0 1 0 -5.4 0M167.9 568.8a2.7 2.7 0 1 0 5.4 0a2.7 2.7 0 1 0 -5.4 0M150.0 569.8a2.7 2.7 0 1 0 5.4 0a2.7 2.7 0 1 0 -5.4 0M153.1 569.2a2.7 2.7 0 1 0 5.4 0a2.7 2.7 0 1 0 -5.4 0M154.4 569.6a2.7 2.7 0 1 0 5.4 0a2.7 2.7 0 1 0 -5.4 0M157.7 569.9a2.7 2.7 0 1 0 5.4 0a2.7 2.7 0 1 0 -5.4 0M160.2 570.9a2.7 2.7 0 1 0 5.4 0a2.7 2.7 0 1 0 -5.4 0M159.9 570.2a2.7 2.7 0 1 0 5.4 0a2.7 2.7 0 1 0 -5.4 0M163.3 568.9a2.7 2.7 0 1 0 5.4 0a2.7 2.7 0 1 0 -5.4 0M166.7 570.9a2.7 2.7 0 1 0 5.4 0a2.7 2.7 0 1 0 -5.4 0M169.3 569.9a2.7 2.7 0 1 0 5.4 0a2.7 2.7 0 1 0 -5.4 0M169.0 570.4a2.7 2.7 0 1 0 5.4 0a2.7 2.7 0 1 0 -5.4 0M170.2 569.9a2.7 2.7 0 1 0 5.4 0a2.7 2.7 0 1 0 -5.4 0M151.1 573.7a2.7 2.7 0 1 0 5.4 0a2.7 2.7 0 1 0 -5.4 0M153.7 573.2a2.7 2.7 0 1 0 5.4 0a2.7 2.7 0 1 0 -5.4 0M154.2 573.0a2.7 2.7 0 1 0 5.4 0a2.7 2.7 0 1 0 -5.4 0M156.2 573.0a2.7 2.7 0 1 0 5.4 0a2.7 2.7 0 1 0 -5.4 0M160.3 571.9a2.7 2.7 0 1 0 5.4 0a2.7 2.7 0 1 0 -5.4 0M162.3 573.6a2.7 2.7 0 1 0 5.4 0a2.7 2.7 0 1 0 -5.4 0M165.0 571.5a2.7 2.7 0 1 0 5.4 0a2.7 2.7 0 1 0 -5.4 0M168.2 573.1a2.7 2.7 0 1 0 5.4 0a2.7 2.7 0 1 0 -5.4 0M168.4 571.9a2.7 2.7 0 1 0 5.4 0a2.7 2.7 0 1 0 -5.4 0M170.8 572.0a2.7 2.7 0 1 0 5.4 0a2.7 2.7 0 1 0 -5.4 0M170.3 571.8a2.7 2.7 0 1 0 5.4 0a2.7 2.7 0 1 0 -5.4 0M152.4 573.2a2.7 2.7 0 1 0 5.4 0a2.7 2.7 0 1 0 -5.4 0M152.7 575.5a2.7 2.7 0 1 0 5.4 0a2.7 2.7 0 1 0 -5.4 0M157.0 573.4a2.7 2.7 0 1 0 5.4 0a2.7 2.7 0 1 0 -5.4 0M158.3 573.1a2.7 2.7 0 1 0 5.4 0a2.7 2.7 0 1 0 -5.4 0M162.1 575.7a2.7 2.7 0 1 0 5.4 0a2.7 2.7 0 1 0 -5.4 0M161.8 575.4a2.7 2.7 0 1 0 5.4 0a2.7 2.7 0 1 0 -5.4 0M164.8 576.1a2.7 2.7 0 1 0 5.4 0a2.7 2.7 0 1 0 -5.4 0M166.9 576.0a2.7 2.7 0 1 0 5.4 0a2.7 2.7 0 1 0 -5.4 0M169.8 574.7a2.7 2.7 0 1 0 5.4 0a2.7 2.7 0 1 0 -5.4 0M153.5 577.4a2.7 2.7 0 1 0 5.4 0a2.7 2.7 0 1 0 -5.4 0M153.4 576.7a2.7 2.7 0 1 0 5.4 0a2.7 2.7 0 1 0 -5.4 0M156.4 578.5a2.7 2.7 0 1 0 5.4 0a2.7 2.7 0 1 0 -5.4 0M159.5 578.2a2.7 2.7 0 1 0 5.4 0a2.7 2.7 0 1 0 -5.4 0M161.9 576.1a2.7 2.7 0 1 0 5.4 0a2.7 2.7 0 1 0 -5.4 0M163.6 577.6a2.7 2.7 0 1 0 5.4 0a2.7 2.7 0 1 0 -5.4 0M165.7 576.8a2.7 2.7 0 1 0 5.4 0a2.7 2.7 0 1 0 -5.4 0M169.6 578.4a2.7 2.7 0 1 0 5.4 0a2.7 2.7 0 1 0 -5.4 0M173.0 575.4a2.7 2.7 0 1 0 5.4 0a2.7 2.7 0 1 0 -5.4 0M172.1 576.1a2.7 2.7 0 1 0 5.4 0a2.7 2.7 0 1 0 -5.4 0M154.8 578.8a2.7 2.7 0 1 0 5.4 0a2.7 2.7 0 1 0 -5.4 0M155.8 580.5a2.7 2.7 0 1 0 5.4 0a2.7 2.7 0 1 0 -5.4 0M160.6 578.8a2.7 2.7 0 1 0 5.4 0a2.7 2.7 0 1 0 -5.4 0M161.5 578.3a2.7 2.7 0 1 0 5.4 0a2.7 2.7 0 1 0 -5.4 0M163.9 579.0a2.7 2.7 0 1 0 5.4 0a2.7 2.7 0 1 0 -5.4 0M165.6 580.8a2.7 2.7 0 1 0 5.4 0a2.7 2.7 0 1 0 -5.4 0M169.2 578.5a2.7 2.7 0 1 0 5.4 0a2.7 2.7 0 1 0 -5.4 0M171.0 578.1a2.7 2.7 0 1 0 5.4 0a2.7 2.7 0 1 0 -5.4 0M172.7 578.9a2.7 2.7 0 1 0 5.4 0a2.7 2.7 0 1 0 -5.4 0M155.5 580.6a2.7 2.7 0 1 0 5.4 0a2.7 2.7 0 1 0 -5.4 0M156.1 580.3a2.7 2.7 0 1 0 5.4 0a2.7 2.7 0 1 0 -5.4 0M160.0 581.2a2.7 2.7 0 1 0 5.4 0a2.7 2.7 0 1 0 -5.4 0M163.3 581.3a2.7 2.7 0 1 0 5.4 0a2.7 2.7 0 1 0 -5.4 0M166.2 580.9a2.7 2.7 0 1 0 5.4 0a2.7 2.7 0 1 0 -5.4 0M167.1 582.8a2.7 2.7 0 1 0 5.4 0a2.7 2.7 0 1 0 -5.4 0M171.4 582.9a2.7 2.7 0 1 0 5.4 0a2.7 2.7 0 1 0 -5.4 0M155.4 584.0a2.7 2.7 0 1 0 5.4 0a2.7 2.7 0 1 0 -5.4 0M159.3 584.5a2.7 2.7 0 1 0 5.4 0a2.7 2.7 0 1 0 -5.4 0M162.7 583.7a2.7 2.7 0 1 0 5.4 0a2.7 2.7 0 1 0 -5.4 0M165.1 585.3a2.7 2.7 0 1 0 5.4 0a2.7 2.7 0 1 0 -5.4 0M165.1 585.9a2.7 2.7 0 1 0 5.4 0a2.7 2.7 0 1 0 -5.4 0M169.8 585.9a2.7 2.7 0 1 0 5.4 0a2.7 2.7 0 1 0 -5.4 0M159.0 585.8a2.7 2.7 0 1 0 5.4 0a2.7 2.7 0 1 0 -5.4 0M162.0 585.7a2.7 2.7 0 1 0 5.4 0a2.7 2.7 0 1 0 -5.4 0M163.2 586.4a2.7 2.7 0 1 0 5.4 0a2.7 2.7 0 1 0 -5.4 0M165.6 586.1a2.7 2.7 0 1 0 5.4 0a2.7 2.7 0 1 0 -5.4 0M167.8 587.9a2.7 2.7 0 1 0 5.4 0a2.7 2.7 0 1 0 -5.4 0M170.8 587.0a2.7 2.7 0 1 0 5.4 0a2.7 2.7 0 1 0 -5.4 0M155.8 587.3a2.7 2.7 0 1 0 5.4 0a2.7 2.7 0 1 0 -5.4 0M171.8 587.8a2.7 2.7 0 1 0 5.4 0a2.7 2.7 0 1 0 -5.4 0M159.7 590.4a2.7 2.7 0 1 0 5.4 0a2.7 2.7 0 1 0 -5.4 0M162.3 588.3a2.7 2.7 0 1 0 5.4 0a2.7 2.7 0 1 0 -5.4 0M163.5 591.0a2.7 2.7 0 1 0 5.4 0a2.7 2.7 0 1 0 -5.4 0M168.4 590.5a2.7 2.7 0 1 0 5.4 0a2.7 2.7 0 1 0 -5.4 0M171.1 589.0a2.7 2.7 0 1 0 5.4 0a2.7 2.7 0 1 0 -5.4 0M158.7 592.5a2.7 2.7 0 1 0 5.4 0a2.7 2.7 0 1 0 -5.4 0M163.9 592.1a2.7 2.7 0 1 0 5.4 0a2.7 2.7 0 1 0 -5.4 0M163.6 592.4a2.7 2.7 0 1 0 5.4 0a2.7 2.7 0 1 0 -5.4 0M168.3 591.5a2.7 2.7 0 1 0 5.4 0a2.7 2.7 0 1 0 -5.4 0M171.2 592.5a2.7 2.7 0 1 0 5.4 0a2.7 2.7 0 1 0 -5.4 0M161.0 594.3a2.7 2.7 0 1 0 5.4 0a2.7 2.7 0 1 0 -5.4 0M165.1 596.3a2.7 2.7 0 1 0 5.4 0a2.7 2.7 0 1 0 -5.4 0M166.7 595.2a2.7 2.7 0 1 0 5.4 0a2.7 2.7 0 1 0 -5.4 0M169.9 594.0a2.7 2.7 0 1 0 5.4 0a2.7 2.7 0 1 0 -5.4 0M172.0 595.4a2.7 2.7 0 1 0 5.4 0a2.7 2.7 0 1 0 -5.4 0M164.0 599.1a2.7 2.7 0 1 0 5.4 0a2.7 2.7 0 1 0 -5.4 0M167.1 597.6a2.7 2.7 0 1 0 5.4 0a2.7 2.7 0 1 0 -5.4 0M170.3 596.7a2.7 2.7 0 1 0 5.4 0a2.7 2.7 0 1 0 -5.4 0M165.5 600.1a2.7 2.7 0 1 0 5.4 0a2.7 2.7 0 1 0 -5.4 0M169.3 603.1a2.7 2.7 0 1 0 5.4 0a2.7 2.7 0 1 0 -5.4 0M169.8 605.2a2.7 2.7 0 1 0 5.4 0a2.7 2.7 0 1 0 -5.4 0M168.3 604.2a2.7 2.7 0 1 0 5.4 0a2.7 2.7 0 1 0 -5.4 0" fill="#000"/>
<path d="M105.5 420.0 C106.2 424.6 108.2 437.9 110.0 447.5 C111.8 457.1 114.0 467.1 116.2 477.5 C118.5 487.9 121.5 499.6 123.8 510.0 C126.0 520.4 127.5 528.8 129.6 540.0 C131.7 551.2 134.4 567.9 136.3 577.5 C138.2 587.1 139.4 589.6 141.2 597.5 C143.0 605.4 145.5 618.0 147.3 625.0 C149.2 632.0 151.5 637.1 152.3 639.5 C156.1 642.3 166.2 649.5 175.0 656.2 C183.8 663.0 194.2 671.5 205.0 680.0 C215.8 688.5 228.3 698.3 240.0 707.5 C251.7 716.7 263.7 725.6 275.0 735.0 C286.3 744.4 302.5 759.0 308.0 763.8" fill="none" stroke="#f00000" stroke-width="3" stroke-linejoin="round" stroke-linecap="butt" stroke-dasharray="11.2 9.6"/>
<path d="M121.2 420.0 C122.7 423.3 127.7 433.3 130.0 440.0 C132.3 446.7 133.8 452.9 135.0 460.0 C136.2 467.1 136.7 474.6 137.5 482.5 C138.3 490.4 139.2 499.6 140.0 507.5 C140.8 515.4 141.5 522.9 142.5 530.0 C143.5 537.1 144.8 542.9 146.2 550.0 C147.7 557.1 149.0 565.0 151.2 572.5 C153.5 580.0 156.7 587.7 160.0 595.0 C163.3 602.3 167.5 610.2 171.2 616.2 C175.0 622.3 178.1 626.5 182.5 631.2 C186.9 636.0 190.0 639.2 197.5 645.0 C205.0 650.8 216.7 659.2 227.5 666.2 C238.3 673.3 249.1 679.6 262.5 687.5 C275.9 695.4 293.6 705.4 307.8 713.8 C321.9 722.1 340.9 733.5 347.5 737.5" fill="none" stroke="#0000f0" stroke-width="3" stroke-linejoin="round" stroke-linecap="butt"/>
</g>
</g>
<g>
<clipPath id="c3"><rect x="483.00" y="420.00" width="337.20" height="343.90"/></clipPath>
<path d="M497.95 763.90v-5.10M497.95 420.00v5.10M513.30 763.90v-9.60M513.30 420.00v9.60M528.65 763.90v-5.10M528.65 420.00v5.10M544.00 763.90v-5.10M544.00 420.00v5.10M559.35 763.90v-5.10M559.35 420.00v5.10M574.70 763.90v-5.10M574.70 420.00v5.10M590.05 763.90v-9.60M590.05 420.00v9.60M605.40 763.90v-5.10M605.40 420.00v5.10M620.75 763.90v-5.10M620.75 420.00v5.10M636.10 763.90v-5.10M636.10 420.00v5.10M651.45 763.90v-5.10M651.45 420.00v5.10M666.80 763.90v-9.60M666.80 420.00v9.60M682.15 763.90v-5.10M682.15 420.00v5.10M697.50 763.90v-5.10M697.50 420.00v5.10M712.85 763.90v-5.10M712.85 420.00v5.10M728.20 763.90v-5.10M728.20 420.00v5.10M743.55 763.90v-9.60M743.55 420.00v9.60M758.90 763.90v-5.10M758.90 420.00v5.10M774.25 763.90v-5.10M774.25 420.00v5.10M789.60 763.90v-5.10M789.60 420.00v5.10M804.95 763.90v-5.10M804.95 420.00v5.10M483.00 439.09h5.10M820.20 439.09h-5.10M483.00 458.20h9.60M820.20 458.20h-9.60M483.00 477.31h5.10M820.20 477.31h-5.10M483.00 496.41h5.10M820.20 496.41h-5.10M483.00 515.51h5.10M820.20 515.51h-5.10M483.00 534.62h9.60M820.20 534.62h-9.60M483.00 553.73h5.10M820.20 553.73h-5.10M483.00 572.83h5.10M820.20 572.83h-5.10M483.00 591.93h5.10M820.20 591.93h-5.10M483.00 611.04h9.60M820.20 611.04h-9.60M483.00 630.14h5.10M820.20 630.14h-5.10M483.00 649.25h5.10M820.20 649.25h-5.10M483.00 668.36h5.10M820.20 668.36h-5.10M483.00 687.46h9.60M820.20 687.46h-9.60M483.00 706.57h5.10M820.20 706.57h-5.10M483.00 725.67h5.10M820.20 725.67h-5.10M483.00 744.77h5.10M820.20 744.77h-5.10M483.00 763.88h9.60M820.20 763.88h-9.60" stroke="#555" stroke-width="1" fill="none"/>
<rect x="483.00" y="420.00" width="337.20" height="343.90" fill="none" stroke="#555" stroke-width="1.05"/>
<g filter="url(#gs)">
<text transform="translate(513.30 782.70) scale(1.235 1)" text-anchor="middle" font-size="15" >0.5</text>
<text transform="translate(590.05 782.70) scale(1.235 1)" text-anchor="middle" font-size="15" >1.0</text>
<text transform="translate(666.80 782.70) scale(1.235 1)" text-anchor="middle" font-size="15" >1.5</text>
<text transform="translate(743.55 782.70) scale(1.235 1)" text-anchor="middle" font-size="15" >2.0</text>
<text transform="translate(820.30 782.70) scale(1.235 1)" text-anchor="middle" font-size="15" >2.5</text>
<text transform="translate(473.60 463.20) scale(1.235 1)" text-anchor="end" font-size="15" >12</text>
<text transform="translate(473.60 539.62) scale(1.235 1)" text-anchor="end" font-size="15" >14</text>
<text transform="translate(473.60 616.04) scale(1.235 1)" text-anchor="end" font-size="15" >16</text>
<text transform="translate(473.60 692.46) scale(1.235 1)" text-anchor="end" font-size="15" >18</text>
<text transform="translate(473.60 768.88) scale(1.235 1)" text-anchor="end" font-size="15" >20</text>
<text transform="translate(743.40 469.30) scale(1.235 1)" text-anchor="middle" font-size="15" >0.6</text>
<text transform="translate(743.40 481.80) scale(1.235 1)" text-anchor="middle" font-size="15" >0.5</text>
<text transform="translate(743.40 510.80) scale(1.235 1)" text-anchor="middle" font-size="15" >0.4</text>
<text transform="translate(743.40 532.60) scale(1.235 1)" text-anchor="middle" font-size="15" >0.3</text>
<text transform="translate(743.40 557.80) scale(1.235 1)" text-anchor="middle" font-size="15" >0.2</text>
<text transform="translate(743.40 584.80) scale(1.235 1)" text-anchor="middle" font-size="15" >0.15</text>
<text transform="translate(743.40 637.60) scale(1.235 1)" text-anchor="middle" font-size="15" >0.09</text>
<text transform="translate(743.40 675.00) scale(1.235 1)" text-anchor="middle" font-size="15" >0.072</text>
<text transform="translate(743.40 705.00) scale(1.235 1)" text-anchor="middle" font-size="15" >0.055</text>
<text transform="translate(513.00 637.50) scale(1.235 1)" text-anchor="middle" font-size="15" >0.1</text>
<text transform="translate(513.00 666.25) scale(1.235 1)" text-anchor="middle" font-size="15" >0.08</text>
<text transform="translate(513.00 687.50) scale(1.235 1)" text-anchor="middle" font-size="15" >0.07</text>
<text transform="translate(513.00 718.75) scale(1.235 1)" text-anchor="middle" font-size="15" >0.06</text>
<text transform="translate(513.00 733.00) scale(1.235 1)" text-anchor="middle" font-size="15" >0.055</text>
<text transform="translate(734.00 442.50) scale(0.8 1)" font-size="15.4">M</text>
<circle cx="749.40" cy="444.30" r="3.1" fill="none" stroke="#1a1a1a" stroke-width="0.9"/>
<circle cx="749.40" cy="444.30" r="0.8" fill="#1a1a1a"/>
<text transform="translate(599.2 803.3) scale(1.2 1)" font-size="15" font-style="italic">J</text><text transform="translate(616.8 803.3) scale(1.2 1)" font-size="15">&#8722;</text><text transform="translate(634.5 803.3) scale(1.2 1)" font-size="15" font-style="italic">K</text><text transform="translate(654.5 803.3) scale(1.28 1)" font-size="15">[mag]</text>
<text transform="translate(443.4 625.0) rotate(-90) scale(1.2 1)" font-size="15.5" font-style="italic">J</text><text transform="translate(443.4 607.0) rotate(-90) scale(1.28 1)" font-size="15">[mag]</text>
</g>
<g clip-path="url(#c3)">
<path d="M555.0 636.2 C555.2 638.5 555.4 645.2 556.2 650.0 C557.1 654.8 558.1 660.8 560.0 665.0 C561.9 669.2 563.8 671.6 567.5 675.0 C571.2 678.4 576.2 681.8 582.5 685.5 C588.8 689.2 597.1 693.6 605.0 697.5 C612.9 701.4 621.7 705.2 630.0 708.8 C638.3 712.3 645.4 714.8 655.0 718.8 C664.6 722.7 676.8 728.6 687.8 732.5 C698.8 736.4 704.9 736.8 721.0 742.0 C737.1 747.2 773.9 760.3 784.5 764.0" fill="none" stroke="#00f000" stroke-width="3.5" stroke-linejoin="round" stroke-linecap="round" stroke-dasharray="0.1 6.6"/>
<path d="M509.9 423.6l7.8 7.8M509.9 431.4l7.8 -7.8M514.9 428.6l7.8 7.8M514.9 436.4l7.8 -7.8M493.6 436.1l7.8 7.8M493.6 443.9l7.8 -7.8M542.4 434.9l7.8 7.8M542.4 442.6l7.8 -7.8M568.1 439.9l7.8 7.8M568.1 447.6l7.8 -7.8M618.6 440.6l7.8 7.8M618.6 448.4l7.8 -7.8M483.6 444.9l7.8 7.8M483.6 452.6l7.8 -7.8M491.1 443.6l7.8 7.8M491.1 451.4l7.8 -7.8M498.6 448.6l7.8 7.8M498.6 456.4l7.8 -7.8M506.1 451.1l7.8 7.8M506.1 458.9l7.8 -7.8M483.6 452.4l7.8 7.8M483.6 460.1l7.8 -7.8M493.6 457.4l7.8 7.8M493.6 465.1l7.8 -7.8M516.1 456.1l7.8 7.8M516.1 463.9l7.8 -7.8M496.1 467.4l7.8 7.8M496.1 475.1l7.8 -7.8M501.1 472.4l7.8 7.8M501.1 480.1l7.8 -7.8M519.9 470.6l7.8 7.8M519.9 478.4l7.8 -7.8M527.4 472.4l7.8 7.8M527.4 480.1l7.8 -7.8M501.1 479.9l7.8 7.8M501.1 487.6l7.8 -7.8M504.9 481.1l7.8 7.8M504.9 488.9l7.8 -7.8M517.4 482.4l7.8 7.8M517.4 490.1l7.8 -7.8M526.1 484.9l7.8 7.8M526.1 492.6l7.8 -7.8M491.1 496.1l7.8 7.8M491.1 503.9l7.8 -7.8M507.4 497.4l7.8 7.8M507.4 505.1l7.8 -7.8M514.9 505.6l7.8 7.8M514.9 513.4l7.8 -7.8M522.4 507.4l7.8 7.8M522.4 515.1l7.8 -7.8M527.4 513.6l7.8 7.8M527.4 521.4l7.8 -7.8M533.6 501.1l7.8 7.8M533.6 508.9l7.8 -7.8M537.4 514.9l7.8 7.8M537.4 522.6l7.8 -7.8M541.1 516.1l7.8 7.8M541.1 523.9l7.8 -7.8M502.4 519.9l7.8 7.8M502.4 527.6l7.8 -7.8M499.9 524.9l7.8 7.8M499.9 532.6l7.8 -7.8M486.1 532.4l7.8 7.8M486.1 540.1l7.8 -7.8M501.1 532.4l7.8 7.8M501.1 540.1l7.8 -7.8M511.1 531.9l7.8 7.8M511.1 539.6l7.8 -7.8M535.4 531.1l7.8 7.8M535.4 538.9l7.8 -7.8M496.1 554.9l7.8 7.8M496.1 562.6l7.8 -7.8M490.6 566.6l7.8 7.8M490.6 574.4l7.8 -7.8M546.1 484.9l7.8 7.8M546.1 492.6l7.8 -7.8M548.6 491.1l7.8 7.8M548.6 498.9l7.8 -7.8M544.9 506.1l7.8 7.8M544.9 513.9l7.8 -7.8M549.9 507.4l7.8 7.8M549.9 515.1l7.8 -7.8M552.4 511.1l7.8 7.8M552.4 518.9l7.8 -7.8M551.1 521.1l7.8 7.8M551.1 528.9l7.8 -7.8M548.6 559.9l7.8 7.8M548.6 567.6l7.8 -7.8M553.6 561.1l7.8 7.8M553.6 568.9l7.8 -7.8M556.1 571.1l7.8 7.8M556.1 578.9l7.8 -7.8M547.4 581.1l7.8 7.8M547.4 588.9l7.8 -7.8M553.6 576.1l7.8 7.8M553.6 583.9l7.8 -7.8M558.6 583.6l7.8 7.8M558.6 591.4l7.8 -7.8M547.4 594.9l7.8 7.8M547.4 602.6l7.8 -7.8M553.6 596.1l7.8 7.8M553.6 603.9l7.8 -7.8M562.4 586.1l7.8 7.8M562.4 593.9l7.8 -7.8M581.1 574.9l7.8 7.8M581.1 582.6l7.8 -7.8M579.9 568.6l7.8 7.8M579.9 576.4l7.8 -7.8M564.9 611.1l7.8 7.8M564.9 618.9l7.8 -7.8M569.9 609.9l7.8 7.8M569.9 617.6l7.8 -7.8M601.1 610.6l7.8 7.8M601.1 618.4l7.8 -7.8M571.1 518.6l7.8 7.8M571.1 526.4l7.8 -7.8M572.4 509.9l7.8 7.8M572.4 517.6l7.8 -7.8M562.4 614.9l7.8 7.8M562.4 622.6l7.8 -7.8M557.4 618.1l7.8 7.8M557.4 625.9l7.8 -7.8M563.6 619.9l7.8 7.8M563.6 627.6l7.8 -7.8M569.9 617.4l7.8 7.8M569.9 625.1l7.8 -7.8M577.4 620.6l7.8 7.8M577.4 628.4l7.8 -7.8M539.9 627.4l7.8 7.8M539.9 635.1l7.8 -7.8M548.6 628.6l7.8 7.8M548.6 636.4l7.8 -7.8M561.1 627.4l7.8 7.8M561.1 635.1l7.8 -7.8M564.9 631.6l7.8 7.8M564.9 639.4l7.8 -7.8M571.1 633.6l7.8 7.8M571.1 641.4l7.8 -7.8M576.1 634.9l7.8 7.8M576.1 642.6l7.8 -7.8M604.1 629.9l7.8 7.8M604.1 637.6l7.8 -7.8M531.1 637.4l7.8 7.8M531.1 645.1l7.8 -7.8M524.9 648.6l7.8 7.8M524.9 656.4l7.8 -7.8M534.9 647.4l7.8 7.8M534.9 655.1l7.8 -7.8M558.6 641.1l7.8 7.8M558.6 648.9l7.8 -7.8M564.9 643.6l7.8 7.8M564.9 651.4l7.8 -7.8M561.1 647.4l7.8 7.8M561.1 655.1l7.8 -7.8M576.1 644.9l7.8 7.8M576.1 652.6l7.8 -7.8M548.6 646.1l7.8 7.8M548.6 653.9l7.8 -7.8M553.6 652.4l7.8 7.8M553.6 660.1l7.8 -7.8M561.1 653.6l7.8 7.8M561.1 661.4l7.8 -7.8M570.6 653.6l7.8 7.8M570.6 661.4l7.8 -7.8M591.1 652.4l7.8 7.8M591.1 660.1l7.8 -7.8M593.1 659.9l7.8 7.8M593.1 667.6l7.8 -7.8M552.4 661.1l7.8 7.8M552.4 668.9l7.8 -7.8M557.4 663.6l7.8 7.8M557.4 671.4l7.8 -7.8M562.4 667.4l7.8 7.8M562.4 675.1l7.8 -7.8M568.6 661.1l7.8 7.8M568.6 668.9l7.8 -7.8M549.9 669.1l7.8 7.8M549.9 676.9l7.8 -7.8M558.6 669.9l7.8 7.8M558.6 677.6l7.8 -7.8M567.4 671.1l7.8 7.8M567.4 678.9l7.8 -7.8M574.9 673.6l7.8 7.8M574.9 681.4l7.8 -7.8M587.4 671.1l7.8 7.8M587.4 678.9l7.8 -7.8M586.1 676.1l7.8 7.8M586.1 683.9l7.8 -7.8M542.4 678.6l7.8 7.8M542.4 686.4l7.8 -7.8M550.6 686.1l7.8 7.8M550.6 693.9l7.8 -7.8M559.9 692.4l7.8 7.8M559.9 700.1l7.8 -7.8M606.1 687.9l7.8 7.8M606.1 695.6l7.8 -7.8M625.6 691.1l7.8 7.8M625.6 698.9l7.8 -7.8M600.6 694.9l7.8 7.8M600.6 702.6l7.8 -7.8M592.4 698.6l7.8 7.8M592.4 706.4l7.8 -7.8M583.1 704.9l7.8 7.8M583.1 712.6l7.8 -7.8M552.4 702.4l7.8 7.8M552.4 710.1l7.8 -7.8M567.4 708.1l7.8 7.8M567.4 715.9l7.8 -7.8M572.4 703.6l7.8 7.8M572.4 711.4l7.8 -7.8M596.6 717.4l7.8 7.8M596.6 725.1l7.8 -7.8M554.4 729.9l7.8 7.8M554.4 737.6l7.8 -7.8M692.1 731.1l7.8 7.8M692.1 738.9l7.8 -7.8M534.7 451.4l7.8 7.8M534.7 459.2l7.8 -7.8M545.1 474.4l7.8 7.8M545.1 482.2l7.8 -7.8M545.1 495.2l7.8 7.8M545.1 503.0l7.8 -7.8M550.3 501.9l7.8 7.8M550.3 509.7l7.8 -7.8M556.2 587.1l7.8 7.8M556.2 594.9l7.8 -7.8M571.9 603.4l7.8 7.8M571.9 611.2l7.8 -7.8M568.1 613.8l7.8 7.8M568.1 621.6l7.8 -7.8M554.0 616.8l7.8 7.8M554.0 624.6l7.8 -7.8M560.7 621.3l7.8 7.8M560.7 629.1l7.8 -7.8M568.1 621.3l7.8 7.8M568.1 629.1l7.8 -7.8M559.2 637.6l7.8 7.8M559.2 645.4l7.8 -7.8" stroke="#000" stroke-width="1.05" fill="none"/>
<path d="M517.8 437.5a2.7 2.7 0 1 0 5.4 0a2.7 2.7 0 1 0 -5.4 0M513.5 447.5a2.7 2.7 0 1 0 5.4 0a2.7 2.7 0 1 0 -5.4 0M525.3 447.5a2.7 2.7 0 1 0 5.4 0a2.7 2.7 0 1 0 -5.4 0M515.3 456.2a2.7 2.7 0 1 0 5.4 0a2.7 2.7 0 1 0 -5.4 0M529.8 452.5a2.7 2.7 0 1 0 5.4 0a2.7 2.7 0 1 0 -5.4 0M536.0 443.8a2.7 2.7 0 1 0 5.4 0a2.7 2.7 0 1 0 -5.4 0M541.0 448.8a2.7 2.7 0 1 0 5.4 0a2.7 2.7 0 1 0 -5.4 0M501.6 463.8a2.7 2.7 0 1 0 5.4 0a2.7 2.7 0 1 0 -5.4 0M512.3 462.5a2.7 2.7 0 1 0 5.4 0a2.7 2.7 0 1 0 -5.4 0M503.6 482.0a2.7 2.7 0 1 0 5.4 0a2.7 2.7 0 1 0 -5.4 0M519.8 488.2a2.7 2.7 0 1 0 5.4 0a2.7 2.7 0 1 0 -5.4 0M540.3 478.8a2.7 2.7 0 1 0 5.4 0a2.7 2.7 0 1 0 -5.4 0M541.8 490.0a2.7 2.7 0 1 0 5.4 0a2.7 2.7 0 1 0 -5.4 0M484.3 504.5a2.7 2.7 0 1 0 5.4 0a2.7 2.7 0 1 0 -5.4 0M572.8 487.5a2.7 2.7 0 1 0 5.4 0a2.7 2.7 0 1 0 -5.4 0M543.5 513.8a2.7 2.7 0 1 0 5.4 0a2.7 2.7 0 1 0 -5.4 0M546.0 527.5a2.7 2.7 0 1 0 5.4 0a2.7 2.7 0 1 0 -5.4 0M547.3 531.2a2.7 2.7 0 1 0 5.4 0a2.7 2.7 0 1 0 -5.4 0M574.8 530.0a2.7 2.7 0 1 0 5.4 0a2.7 2.7 0 1 0 -5.4 0M575.5 545.0a2.7 2.7 0 1 0 5.4 0a2.7 2.7 0 1 0 -5.4 0M541.0 557.0a2.7 2.7 0 1 0 5.4 0a2.7 2.7 0 1 0 -5.4 0M536.8 580.0a2.7 2.7 0 1 0 5.4 0a2.7 2.7 0 1 0 -5.4 0M666.5 466.8a2.7 2.7 0 1 0 5.4 0a2.7 2.7 0 1 0 -5.4 0M582.3 599.5a2.7 2.7 0 1 0 5.4 0a2.7 2.7 0 1 0 -5.4 0M581.0 590.0a2.7 2.7 0 1 0 5.4 0a2.7 2.7 0 1 0 -5.4 0M561.0 600.5a2.7 2.7 0 1 0 5.4 0a2.7 2.7 0 1 0 -5.4 0M584.3 612.5a2.7 2.7 0 1 0 5.4 0a2.7 2.7 0 1 0 -5.4 0M578.5 616.2a2.7 2.7 0 1 0 5.4 0a2.7 2.7 0 1 0 -5.4 0M579.8 625.5a2.7 2.7 0 1 0 5.4 0a2.7 2.7 0 1 0 -5.4 0M602.3 628.0a2.7 2.7 0 1 0 5.4 0a2.7 2.7 0 1 0 -5.4 0M588.5 636.2a2.7 2.7 0 1 0 5.4 0a2.7 2.7 0 1 0 -5.4 0M593.5 641.2a2.7 2.7 0 1 0 5.4 0a2.7 2.7 0 1 0 -5.4 0M538.5 647.0a2.7 2.7 0 1 0 5.4 0a2.7 2.7 0 1 0 -5.4 0M558.5 645.0a2.7 2.7 0 1 0 5.4 0a2.7 2.7 0 1 0 -5.4 0M604.8 653.2a2.7 2.7 0 1 0 5.4 0a2.7 2.7 0 1 0 -5.4 0M591.8 658.8a2.7 2.7 0 1 0 5.4 0a2.7 2.7 0 1 0 -5.4 0M566.8 667.0a2.7 2.7 0 1 0 5.4 0a2.7 2.7 0 1 0 -5.4 0M578.5 673.2a2.7 2.7 0 1 0 5.4 0a2.7 2.7 0 1 0 -5.4 0M640.5 689.5a2.7 2.7 0 1 0 5.4 0a2.7 2.7 0 1 0 -5.4 0M657.3 693.0a2.7 2.7 0 1 0 5.4 0a2.7 2.7 0 1 0 -5.4 0M649.3 698.8a2.7 2.7 0 1 0 5.4 0a2.7 2.7 0 1 0 -5.4 0M642.3 708.2a2.7 2.7 0 1 0 5.4 0a2.7 2.7 0 1 0 -5.4 0M600.5 707.0a2.7 2.7 0 1 0 5.4 0a2.7 2.7 0 1 0 -5.4 0M574.8 718.0a2.7 2.7 0 1 0 5.4 0a2.7 2.7 0 1 0 -5.4 0M668.5 724.5a2.7 2.7 0 1 0 5.4 0a2.7 2.7 0 1 0 -5.4 0M717.3 741.5a2.7 2.7 0 1 0 5.4 0a2.7 2.7 0 1 0 -5.4 0M532.2 444.9a2.7 2.7 0 1 0 5.4 0a2.7 2.7 0 1 0 -5.4 0M554.5 528.1a2.7 2.7 0 1 0 5.4 0a2.7 2.7 0 1 0 -5.4 0M552.2 520.0a2.7 2.7 0 1 0 5.4 0a2.7 2.7 0 1 0 -5.4 0M554.5 540.8a2.7 2.7 0 1 0 5.4 0a2.7 2.7 0 1 0 -5.4 0M582.7 629.6a2.7 2.7 0 1 0 5.4 0a2.7 2.7 0 1 0 -5.4 0M588.7 639.3a2.7 2.7 0 1 0 5.4 0a2.7 2.7 0 1 0 -5.4 0" fill="#000"/>
<path d="M550.3 462.1a2.7 2.7 0 1 0 5.4 0a2.7 2.7 0 1 0 -5.4 0M551.3 460.4a2.7 2.7 0 1 0 5.4 0a2.7 2.7 0 1 0 -5.4 0M554.5 461.4a2.7 2.7 0 1 0 5.4 0a2.7 2.7 0 1 0 -5.4 0M555.4 461.5a2.7 2.7 0 1 0 5.4 0a2.7 2.7 0 1 0 -5.4 0M557.6 461.7a2.7 2.7 0 1 0 5.4 0a2.7 2.7 0 1 0 -5.4 0M558.9 460.3a2.7 2.7 0 1 0 5.4 0a2.7 2.7 0 1 0 -5.4 0M563.5 461.6a2.7 2.7 0 1 0 5.4 0a2.7 2.7 0 1 0 -5.4 0M551.4 463.4a2.7 2.7 0 1 0 5.4 0a2.7 2.7 0 1 0 -5.4 0M552.4 463.4a2.7 2.7 0 1 0 5.4 0a2.7 2.7 0 1 0 -5.4 0M554.2 462.6a2.7 2.7 0 1 0 5.4 0a2.7 2.7 0 1 0 -5.4 0M556.1 462.2a2.7 2.7 0 1 0 5.4 0a2.7 2.7 0 1 0 -5.4 0M560.5 462.7a2.7 2.7 0 1 0 5.4 0a2.7 2.7 0 1 0 -5.4 0M562.5 462.8a2.7 2.7 0 1 0 5.4 0a2.7 2.7 0 1 0 -5.4 0M552.6 465.3a2.7 2.7 0 1 0 5.4 0a2.7 2.7 0 1 0 -5.4 0M553.6 463.9a2.7 2.7 0 1 0 5.4 0a2.7 2.7 0 1 0 -5.4 0M557.4 465.0a2.7 2.7 0 1 0 5.4 0a2.7 2.7 0 1 0 -5.4 0M557.6 464.9a2.7 2.7 0 1 0 5.4 0a2.7 2.7 0 1 0 -5.4 0M559.7 465.8a2.7 2.7 0 1 0 5.4 0a2.7 2.7 0 1 0 -5.4 0M564.2 464.2a2.7 2.7 0 1 0 5.4 0a2.7 2.7 0 1 0 -5.4 0M552.8 466.0a2.7 2.7 0 1 0 5.4 0a2.7 2.7 0 1 0 -5.4 0M554.2 465.9a2.7 2.7 0 1 0 5.4 0a2.7 2.7 0 1 0 -5.4 0M556.1 467.5a2.7 2.7 0 1 0 5.4 0a2.7 2.7 0 1 0 -5.4 0M558.2 466.9a2.7 2.7 0 1 0 5.4 0a2.7 2.7 0 1 0 -5.4 0M560.1 466.8a2.7 2.7 0 1 0 5.4 0a2.7 2.7 0 1 0 -5.4 0M562.4 465.9a2.7 2.7 0 1 0 5.4 0a2.7 2.7 0 1 0 -5.4 0M565.2 467.9a2.7 2.7 0 1 0 5.4 0a2.7 2.7 0 1 0 -5.4 0M552.2 469.2a2.7 2.7 0 1 0 5.4 0a2.7 2.7 0 1 0 -5.4 0M552.4 469.5a2.7 2.7 0 1 0 5.4 0a2.7 2.7 0 1 0 -5.4 0M556.8 468.8a2.7 2.7 0 1 0 5.4 0a2.7 2.7 0 1 0 -5.4 0M557.2 469.2a2.7 2.7 0 1 0 5.4 0a2.7 2.7 0 1 0 -5.4 0M560.8 468.4a2.7 2.7 0 1 0 5.4 0a2.7 2.7 0 1 0 -5.4 0M561.1 468.2a2.7 2.7 0 1 0 5.4 0a2.7 2.7 0 1 0 -5.4 0M550.9 470.5a2.7 2.7 0 1 0 5.4 0a2.7 2.7 0 1 0 -5.4 0M555.4 471.2a2.7 2.7 0 1 0 5.4 0a2.7 2.7 0 1 0 -5.4 0M555.5 472.1a2.7 2.7 0 1 0 5.4 0a2.7 2.7 0 1 0 -5.4 0M557.7 470.4a2.7 2.7 0 1 0 5.4 0a2.7 2.7 0 1 0 -5.4 0M558.9 470.1a2.7 2.7 0 1 0 5.4 0a2.7 2.7 0 1 0 -5.4 0M561.3 470.3a2.7 2.7 0 1 0 5.4 0a2.7 2.7 0 1 0 -5.4 0M567.6 471.2a2.7 2.7 0 1 0 5.4 0a2.7 2.7 0 1 0 -5.4 0M555.2 472.7a2.7 2.7 0 1 0 5.4 0a2.7 2.7 0 1 0 -5.4 0M556.6 473.2a2.7 2.7 0 1 0 5.4 0a2.7 2.7 0 1 0 -5.4 0M559.6 473.7a2.7 2.7 0 1 0 5.4 0a2.7 2.7 0 1 0 -5.4 0M560.5 473.9a2.7 2.7 0 1 0 5.4 0a2.7 2.7 0 1 0 -5.4 0M562.1 472.7a2.7 2.7 0 1 0 5.4 0a2.7 2.7 0 1 0 -5.4 0M556.7 475.3a2.7 2.7 0 1 0 5.4 0a2.7 2.7 0 1 0 -5.4 0M557.0 476.1a2.7 2.7 0 1 0 5.4 0a2.7 2.7 0 1 0 -5.4 0M559.6 474.6a2.7 2.7 0 1 0 5.4 0a2.7 2.7 0 1 0 -5.4 0M561.0 474.0a2.7 2.7 0 1 0 5.4 0a2.7 2.7 0 1 0 -5.4 0M562.9 475.5a2.7 2.7 0 1 0 5.4 0a2.7 2.7 0 1 0 -5.4 0M552.7 474.9a2.7 2.7 0 1 0 5.4 0a2.7 2.7 0 1 0 -5.4 0M554.4 476.7a2.7 2.7 0 1 0 5.4 0a2.7 2.7 0 1 0 -5.4 0M556.9 476.0a2.7 2.7 0 1 0 5.4 0a2.7 2.7 0 1 0 -5.4 0M558.3 476.1a2.7 2.7 0 1 0 5.4 0a2.7 2.7 0 1 0 -5.4 0M561.7 476.1a2.7 2.7 0 1 0 5.4 0a2.7 2.7 0 1 0 -5.4 0M563.5 476.3a2.7 2.7 0 1 0 5.4 0a2.7 2.7 0 1 0 -5.4 0M565.5 477.4a2.7 2.7 0 1 0 5.4 0a2.7 2.7 0 1 0 -5.4 0M554.4 478.8a2.7 2.7 0 1 0 5.4 0a2.7 2.7 0 1 0 -5.4 0M557.0 478.9a2.7 2.7 0 1 0 5.4 0a2.7 2.7 0 1 0 -5.4 0M560.7 479.9a2.7 2.7 0 1 0 5.4 0a2.7 2.7 0 1 0 -5.4 0M560.4 479.5a2.7 2.7 0 1 0 5.4 0a2.7 2.7 0 1 0 -5.4 0M564.7 479.1a2.7 2.7 0 1 0 5.4 0a2.7 2.7 0 1 0 -5.4 0M564.5 480.0a2.7 2.7 0 1 0 5.4 0a2.7 2.7 0 1 0 -5.4 0M557.6 479.9a2.7 2.7 0 1 0 5.4 0a2.7 2.7 0 1 0 -5.4 0M559.3 480.5a2.7 2.7 0 1 0 5.4 0a2.7 2.7 0 1 0 -5.4 0M559.6 480.7a2.7 2.7 0 1 0 5.4 0a2.7 2.7 0 1 0 -5.4 0M562.7 479.7a2.7 2.7 0 1 0 5.4 0a2.7 2.7 0 1 0 -5.4 0M564.4 481.7a2.7 2.7 0 1 0 5.4 0a2.7 2.7 0 1 0 -5.4 0M566.5 481.1a2.7 2.7 0 1 0 5.4 0a2.7 2.7 0 1 0 -5.4 0M554.9 480.5a2.7 2.7 0 1 0 5.4 0a2.7 2.7 0 1 0 -5.4 0M557.8 482.3a2.7 2.7 0 1 0 5.4 0a2.7 2.7 0 1 0 -5.4 0M559.8 484.1a2.7 2.7 0 1 0 5.4 0a2.7 2.7 0 1 0 -5.4 0M561.5 483.9a2.7 2.7 0 1 0 5.4 0a2.7 2.7 0 1 0 -5.4 0M562.2 482.9a2.7 2.7 0 1 0 5.4 0a2.7 2.7 0 1 0 -5.4 0M564.1 484.1a2.7 2.7 0 1 0 5.4 0a2.7 2.7 0 1 0 -5.4 0M552.9 483.9a2.7 2.7 0 1 0 5.4 0a2.7 2.7 0 1 0 -5.4 0M556.8 485.9a2.7 2.7 0 1 0 5.4 0a2.7 2.7 0 1 0 -5.4 0M558.6 486.0a2.7 2.7 0 1 0 5.4 0a2.7 2.7 0 1 0 -5.4 0M559.6 484.8a2.7 2.7 0 1 0 5.4 0a2.7 2.7 0 1 0 -5.4 0M562.9 485.8a2.7 2.7 0 1 0 5.4 0a2.7 2.7 0 1 0 -5.4 0M564.5 485.5a2.7 2.7 0 1 0 5.4 0a2.7 2.7 0 1 0 -5.4 0M567.9 484.8a2.7 2.7 0 1 0 5.4 0a2.7 2.7 0 1 0 -5.4 0M552.8 485.7a2.7 2.7 0 1 0 5.4 0a2.7 2.7 0 1 0 -5.4 0M555.1 486.3a2.7 2.7 0 1 0 5.4 0a2.7 2.7 0 1 0 -5.4 0M557.4 486.4a2.7 2.7 0 1 0 5.4 0a2.7 2.7 0 1 0 -5.4 0M561.0 486.3a2.7 2.7 0 1 0 5.4 0a2.7 2.7 0 1 0 -5.4 0M561.0 488.0a2.7 2.7 0 1 0 5.4 0a2.7 2.7 0 1 0 -5.4 0M564.2 485.8a2.7 2.7 0 1 0 5.4 0a2.7 2.7 0 1 0 -5.4 0M566.5 487.5a2.7 2.7 0 1 0 5.4 0a2.7 2.7 0 1 0 -5.4 0M568.4 487.7a2.7 2.7 0 1 0 5.4 0a2.7 2.7 0 1 0 -5.4 0M568.5 487.3a2.7 2.7 0 1 0 5.4 0a2.7 2.7 0 1 0 -5.4 0M556.3 489.5a2.7 2.7 0 1 0 5.4 0a2.7 2.7 0 1 0 -5.4 0M558.4 489.3a2.7 2.7 0 1 0 5.4 0a2.7 2.7 0 1 0 -5.4 0M560.6 489.7a2.7 2.7 0 1 0 5.4 0a2.7 2.7 0 1 0 -5.4 0M562.3 489.0a2.7 2.7 0 1 0 5.4 0a2.7 2.7 0 1 0 -5.4 0M565.5 488.5a2.7 2.7 0 1 0 5.4 0a2.7 2.7 0 1 0 -5.4 0M565.8 489.4a2.7 2.7 0 1 0 5.4 0a2.7 2.7 0 1 0 -5.4 0M555.2 488.5a2.7 2.7 0 1 0 5.4 0a2.7 2.7 0 1 0 -5.4 0M556.7 491.5a2.7 2.7 0 1 0 5.4 0a2.7 2.7 0 1 0 -5.4 0M558.6 491.4a2.7 2.7 0 1 0 5.4 0a2.7 2.7 0 1 0 -5.4 0M560.3 492.2a2.7 2.7 0 1 0 5.4 0a2.7 2.7 0 1 0 -5.4 0M561.8 491.8a2.7 2.7 0 1 0 5.4 0a2.7 2.7 0 1 0 -5.4 0M563.4 491.0a2.7 2.7 0 1 0 5.4 0a2.7 2.7 0 1 0 -5.4 0M553.7 491.2a2.7 2.7 0 1 0 5.4 0a2.7 2.7 0 1 0 -5.4 0M556.0 493.3a2.7 2.7 0 1 0 5.4 0a2.7 2.7 0 1 0 -5.4 0M557.7 492.6a2.7 2.7 0 1 0 5.4 0a2.7 2.7 0 1 0 -5.4 0M561.0 493.1a2.7 2.7 0 1 0 5.4 0a2.7 2.7 0 1 0 -5.4 0M561.7 493.8a2.7 2.7 0 1 0 5.4 0a2.7 2.7 0 1 0 -5.4 0M565.4 492.8a2.7 2.7 0 1 0 5.4 0a2.7 2.7 0 1 0 -5.4 0M564.8 492.5a2.7 2.7 0 1 0 5.4 0a2.7 2.7 0 1 0 -5.4 0M570.2 493.6a2.7 2.7 0 1 0 5.4 0a2.7 2.7 0 1 0 -5.4 0M554.6 494.7a2.7 2.7 0 1 0 5.4 0a2.7 2.7 0 1 0 -5.4 0M557.6 494.0a2.7 2.7 0 1 0 5.4 0a2.7 2.7 0 1 0 -5.4 0M560.0 494.8a2.7 2.7 0 1 0 5.4 0a2.7 2.7 0 1 0 -5.4 0M562.0 495.7a2.7 2.7 0 1 0 5.4 0a2.7 2.7 0 1 0 -5.4 0M562.2 495.8a2.7 2.7 0 1 0 5.4 0a2.7 2.7 0 1 0 -5.4 0M566.2 494.3a2.7 2.7 0 1 0 5.4 0a2.7 2.7 0 1 0 -5.4 0M567.6 494.2a2.7 2.7 0 1 0 5.4 0a2.7 2.7 0 1 0 -5.4 0M554.7 497.9a2.7 2.7 0 1 0 5.4 0a2.7 2.7 0 1 0 -5.4 0M558.0 497.9a2.7 2.7 0 1 0 5.4 0a2.7 2.7 0 1 0 -5.4 0M558.6 497.6a2.7 2.7 0 1 0 5.4 0a2.7 2.7 0 1 0 -5.4 0M560.6 497.1a2.7 2.7 0 1 0 5.4 0a2.7 2.7 0 1 0 -5.4 0M563.0 498.0a2.7 2.7 0 1 0 5.4 0a2.7 2.7 0 1 0 -5.4 0M564.7 496.9a2.7 2.7 0 1 0 5.4 0a2.7 2.7 0 1 0 -5.4 0M567.6 496.7a2.7 2.7 0 1 0 5.4 0a2.7 2.7 0 1 0 -5.4 0M555.7 497.9a2.7 2.7 0 1 0 5.4 0a2.7 2.7 0 1 0 -5.4 0M568.3 496.7a2.7 2.7 0 1 0 5.4 0a2.7 2.7 0 1 0 -5.4 0M557.0 499.7a2.7 2.7 0 1 0 5.4 0a2.7 2.7 0 1 0 -5.4 0M558.1 497.8a2.7 2.7 0 1 0 5.4 0a2.7 2.7 0 1 0 -5.4 0M559.6 497.7a2.7 2.7 0 1 0 5.4 0a2.7 2.7 0 1 0 -5.4 0M560.6 498.7a2.7 2.7 0 1 0 5.4 0a2.7 2.7 0 1 0 -5.4 0M563.1 498.0a2.7 2.7 0 1 0 5.4 0a2.7 2.7 0 1 0 -5.4 0M565.8 499.7a2.7 2.7 0 1 0 5.4 0a2.7 2.7 0 1 0 -5.4 0M568.9 500.1a2.7 2.7 0 1 0 5.4 0a2.7 2.7 0 1 0 -5.4 0M568.4 498.8a2.7 2.7 0 1 0 5.4 0a2.7 2.7 0 1 0 -5.4 0M556.4 502.2a2.7 2.7 0 1 0 5.4 0a2.7 2.7 0 1 0 -5.4 0M558.7 502.2a2.7 2.7 0 1 0 5.4 0a2.7 2.7 0 1 0 -5.4 0M559.3 502.2a2.7 2.7 0 1 0 5.4 0a2.7 2.7 0 1 0 -5.4 0M562.3 501.5a2.7 2.7 0 1 0 5.4 0a2.7 2.7 0 1 0 -5.4 0M563.7 500.3a2.7 2.7 0 1 0 5.4 0a2.7 2.7 0 1 0 -5.4 0M565.7 500.1a2.7 2.7 0 1 0 5.4 0a2.7 2.7 0 1 0 -5.4 0M569.4 500.0a2.7 2.7 0 1 0 5.4 0a2.7 2.7 0 1 0 -5.4 0M556.3 500.4a2.7 2.7 0 1 0 5.4 0a2.7 2.7 0 1 0 -5.4 0M570.7 500.5a2.7 2.7 0 1 0 5.4 0a2.7 2.7 0 1 0 -5.4 0M556.1 502.5a2.7 2.7 0 1 0 5.4 0a2.7 2.7 0 1 0 -5.4 0M558.7 503.2a2.7 2.7 0 1 0 5.4 0a2.7 2.7 0 1 0 -5.4 0M559.0 504.2a2.7 2.7 0 1 0 5.4 0a2.7 2.7 0 1 0 -5.4 0M561.0 503.8a2.7 2.7 0 1 0 5.4 0a2.7 2.7 0 1 0 -5.4 0M564.5 501.7a2.7 2.7 0 1 0 5.4 0a2.7 2.7 0 1 0 -5.4 0M566.6 502.8a2.7 2.7 0 1 0 5.4 0a2.7 2.7 0 1 0 -5.4 0M567.7 504.2a2.7 2.7 0 1 0 5.4 0a2.7 2.7 0 1 0 -5.4 0M569.6 502.3a2.7 2.7 0 1 0 5.4 0a2.7 2.7 0 1 0 -5.4 0M557.3 502.9a2.7 2.7 0 1 0 5.4 0a2.7 2.7 0 1 0 -5.4 0M558.4 506.1a2.7 2.7 0 1 0 5.4 0a2.7 2.7 0 1 0 -5.4 0M559.3 506.1a2.7 2.7 0 1 0 5.4 0a2.7 2.7 0 1 0 -5.4 0M560.8 504.0a2.7 2.7 0 1 0 5.4 0a2.7 2.7 0 1 0 -5.4 0M563.7 503.8a2.7 2.7 0 1 0 5.4 0a2.7 2.7 0 1 0 -5.4 0M566.5 504.5a2.7 2.7 0 1 0 5.4 0a2.7 2.7 0 1 0 -5.4 0M567.1 504.5a2.7 2.7 0 1 0 5.4 0a2.7 2.7 0 1 0 -5.4 0M568.9 505.1a2.7 2.7 0 1 0 5.4 0a2.7 2.7 0 1 0 -5.4 0M571.0 504.5a2.7 2.7 0 1 0 5.4 0a2.7 2.7 0 1 0 -5.4 0M559.2 508.1a2.7 2.7 0 1 0 5.4 0a2.7 2.7 0 1 0 -5.4 0M561.0 506.7a2.7 2.7 0 1 0 5.4 0a2.7 2.7 0 1 0 -5.4 0M563.1 506.3a2.7 2.7 0 1 0 5.4 0a2.7 2.7 0 1 0 -5.4 0M565.9 506.4a2.7 2.7 0 1 0 5.4 0a2.7 2.7 0 1 0 -5.4 0M567.4 507.2a2.7 2.7 0 1 0 5.4 0a2.7 2.7 0 1 0 -5.4 0M570.0 507.6a2.7 2.7 0 1 0 5.4 0a2.7 2.7 0 1 0 -5.4 0M561.2 508.9a2.7 2.7 0 1 0 5.4 0a2.7 2.7 0 1 0 -5.4 0M562.3 509.9a2.7 2.7 0 1 0 5.4 0a2.7 2.7 0 1 0 -5.4 0M564.6 509.6a2.7 2.7 0 1 0 5.4 0a2.7 2.7 0 1 0 -5.4 0M566.4 508.6a2.7 2.7 0 1 0 5.4 0a2.7 2.7 0 1 0 -5.4 0M567.4 509.6a2.7 2.7 0 1 0 5.4 0a2.7 2.7 0 1 0 -5.4 0M570.1 509.0a2.7 2.7 0 1 0 5.4 0a2.7 2.7 0 1 0 -5.4 0M560.8 512.1a2.7 2.7 0 1 0 5.4 0a2.7 2.7 0 1 0 -5.4 0M562.4 510.8a2.7 2.7 0 1 0 5.4 0a2.7 2.7 0 1 0 -5.4 0M566.6 511.9a2.7 2.7 0 1 0 5.4 0a2.7 2.7 0 1 0 -5.4 0M567.8 512.0a2.7 2.7 0 1 0 5.4 0a2.7 2.7 0 1 0 -5.4 0M568.7 509.8a2.7 2.7 0 1 0 5.4 0a2.7 2.7 0 1 0 -5.4 0M558.9 510.1a2.7 2.7 0 1 0 5.4 0a2.7 2.7 0 1 0 -5.4 0M571.2 510.4a2.7 2.7 0 1 0 5.4 0a2.7 2.7 0 1 0 -5.4 0M560.7 514.3a2.7 2.7 0 1 0 5.4 0a2.7 2.7 0 1 0 -5.4 0M562.5 512.3a2.7 2.7 0 1 0 5.4 0a2.7 2.7 0 1 0 -5.4 0M565.6 514.0a2.7 2.7 0 1 0 5.4 0a2.7 2.7 0 1 0 -5.4 0M567.4 513.2a2.7 2.7 0 1 0 5.4 0a2.7 2.7 0 1 0 -5.4 0M562.0 513.8a2.7 2.7 0 1 0 5.4 0a2.7 2.7 0 1 0 -5.4 0M564.9 513.8a2.7 2.7 0 1 0 5.4 0a2.7 2.7 0 1 0 -5.4 0M564.9 514.8a2.7 2.7 0 1 0 5.4 0a2.7 2.7 0 1 0 -5.4 0M568.3 513.7a2.7 2.7 0 1 0 5.4 0a2.7 2.7 0 1 0 -5.4 0M572.2 514.1a2.7 2.7 0 1 0 5.4 0a2.7 2.7 0 1 0 -5.4 0M562.5 516.5a2.7 2.7 0 1 0 5.4 0a2.7 2.7 0 1 0 -5.4 0M563.1 518.2a2.7 2.7 0 1 0 5.4 0a2.7 2.7 0 1 0 -5.4 0M566.6 518.2a2.7 2.7 0 1 0 5.4 0a2.7 2.7 0 1 0 -5.4 0M567.6 518.0a2.7 2.7 0 1 0 5.4 0a2.7 2.7 0 1 0 -5.4 0M570.2 517.7a2.7 2.7 0 1 0 5.4 0a2.7 2.7 0 1 0 -5.4 0M561.1 517.8a2.7 2.7 0 1 0 5.4 0a2.7 2.7 0 1 0 -5.4 0M563.6 518.6a2.7 2.7 0 1 0 5.4 0a2.7 2.7 0 1 0 -5.4 0M564.3 519.8a2.7 2.7 0 1 0 5.4 0a2.7 2.7 0 1 0 -5.4 0M567.2 518.5a2.7 2.7 0 1 0 5.4 0a2.7 2.7 0 1 0 -5.4 0M570.2 520.1a2.7 2.7 0 1 0 5.4 0a2.7 2.7 0 1 0 -5.4 0M560.4 521.0a2.7 2.7 0 1 0 5.4 0a2.7 2.7 0 1 0 -5.4 0M562.4 519.8a2.7 2.7 0 1 0 5.4 0a2.7 2.7 0 1 0 -5.4 0M561.9 519.9a2.7 2.7 0 1 0 5.4 0a2.7 2.7 0 1 0 -5.4 0M564.0 521.7a2.7 2.7 0 1 0 5.4 0a2.7 2.7 0 1 0 -5.4 0M568.4 521.7a2.7 2.7 0 1 0 5.4 0a2.7 2.7 0 1 0 -5.4 0M569.4 520.7a2.7 2.7 0 1 0 5.4 0a2.7 2.7 0 1 0 -5.4 0M572.9 520.2a2.7 2.7 0 1 0 5.4 0a2.7 2.7 0 1 0 -5.4 0M559.8 523.9a2.7 2.7 0 1 0 5.4 0a2.7 2.7 0 1 0 -5.4 0M561.6 524.0a2.7 2.7 0 1 0 5.4 0a2.7 2.7 0 1 0 -5.4 0M564.7 523.3a2.7 2.7 0 1 0 5.4 0a2.7 2.7 0 1 0 -5.4 0M566.4 523.3a2.7 2.7 0 1 0 5.4 0a2.7 2.7 0 1 0 -5.4 0M569.2 524.3a2.7 2.7 0 1 0 5.4 0a2.7 2.7 0 1 0 -5.4 0M570.3 524.2a2.7 2.7 0 1 0 5.4 0a2.7 2.7 0 1 0 -5.4 0M559.3 523.8a2.7 2.7 0 1 0 5.4 0a2.7 2.7 0 1 0 -5.4 0M558.4 524.6a2.7 2.7 0 1 0 5.4 0a2.7 2.7 0 1 0 -5.4 0M561.9 523.9a2.7 2.7 0 1 0 5.4 0a2.7 2.7 0 1 0 -5.4 0M563.1 524.3a2.7 2.7 0 1 0 5.4 0a2.7 2.7 0 1 0 -5.4 0M565.7 524.3a2.7 2.7 0 1 0 5.4 0a2.7 2.7 0 1 0 -5.4 0M565.7 525.0a2.7 2.7 0 1 0 5.4 0a2.7 2.7 0 1 0 -5.4 0M568.6 525.7a2.7 2.7 0 1 0 5.4 0a2.7 2.7 0 1 0 -5.4 0M570.2 524.5a2.7 2.7 0 1 0 5.4 0a2.7 2.7 0 1 0 -5.4 0M558.2 524.3a2.7 2.7 0 1 0 5.4 0a2.7 2.7 0 1 0 -5.4 0M559.2 526.9a2.7 2.7 0 1 0 5.4 0a2.7 2.7 0 1 0 -5.4 0M560.8 526.9a2.7 2.7 0 1 0 5.4 0a2.7 2.7 0 1 0 -5.4 0M564.5 525.7a2.7 2.7 0 1 0 5.4 0a2.7 2.7 0 1 0 -5.4 0M566.2 528.1a2.7 2.7 0 1 0 5.4 0a2.7 2.7 0 1 0 -5.4 0M567.3 526.5a2.7 2.7 0 1 0 5.4 0a2.7 2.7 0 1 0 -5.4 0M570.3 526.1a2.7 2.7 0 1 0 5.4 0a2.7 2.7 0 1 0 -5.4 0M571.3 527.3a2.7 2.7 0 1 0 5.4 0a2.7 2.7 0 1 0 -5.4 0M574.5 527.0a2.7 2.7 0 1 0 5.4 0a2.7 2.7 0 1 0 -5.4 0M561.1 529.1a2.7 2.7 0 1 0 5.4 0a2.7 2.7 0 1 0 -5.4 0M562.0 528.8a2.7 2.7 0 1 0 5.4 0a2.7 2.7 0 1 0 -5.4 0M565.4 528.0a2.7 2.7 0 1 0 5.4 0a2.7 2.7 0 1 0 -5.4 0M566.7 528.9a2.7 2.7 0 1 0 5.4 0a2.7 2.7 0 1 0 -5.4 0M567.6 528.8a2.7 2.7 0 1 0 5.4 0a2.7 2.7 0 1 0 -5.4 0M569.7 528.7a2.7 2.7 0 1 0 5.4 0a2.7 2.7 0 1 0 -5.4 0M558.0 529.6a2.7 2.7 0 1 0 5.4 0a2.7 2.7 0 1 0 -5.4 0M562.0 530.6a2.7 2.7 0 1 0 5.4 0a2.7 2.7 0 1 0 -5.4 0M563.7 530.9a2.7 2.7 0 1 0 5.4 0a2.7 2.7 0 1 0 -5.4 0M565.8 530.7a2.7 2.7 0 1 0 5.4 0a2.7 2.7 0 1 0 -5.4 0M568.4 530.9a2.7 2.7 0 1 0 5.4 0a2.7 2.7 0 1 0 -5.4 0M570.0 530.2a2.7 2.7 0 1 0 5.4 0a2.7 2.7 0 1 0 -5.4 0M573.8 530.8a2.7 2.7 0 1 0 5.4 0a2.7 2.7 0 1 0 -5.4 0M559.9 534.1a2.7 2.7 0 1 0 5.4 0a2.7 2.7 0 1 0 -5.4 0M561.3 532.9a2.7 2.7 0 1 0 5.4 0a2.7 2.7 0 1 0 -5.4 0M563.6 532.0a2.7 2.7 0 1 0 5.4 0a2.7 2.7 0 1 0 -5.4 0M565.8 534.2a2.7 2.7 0 1 0 5.4 0a2.7 2.7 0 1 0 -5.4 0M567.3 533.6a2.7 2.7 0 1 0 5.4 0a2.7 2.7 0 1 0 -5.4 0M570.7 533.9a2.7 2.7 0 1 0 5.4 0a2.7 2.7 0 1 0 -5.4 0M572.1 532.3a2.7 2.7 0 1 0 5.4 0a2.7 2.7 0 1 0 -5.4 0M559.0 535.2a2.7 2.7 0 1 0 5.4 0a2.7 2.7 0 1 0 -5.4 0M561.0 534.3a2.7 2.7 0 1 0 5.4 0a2.7 2.7 0 1 0 -5.4 0M562.4 534.5a2.7 2.7 0 1 0 5.4 0a2.7 2.7 0 1 0 -5.4 0M565.7 535.2a2.7 2.7 0 1 0 5.4 0a2.7 2.7 0 1 0 -5.4 0M567.0 534.9a2.7 2.7 0 1 0 5.4 0a2.7 2.7 0 1 0 -5.4 0M567.5 534.0a2.7 2.7 0 1 0 5.4 0a2.7 2.7 0 1 0 -5.4 0M569.8 535.6a2.7 2.7 0 1 0 5.4 0a2.7 2.7 0 1 0 -5.4 0M557.0 534.7a2.7 2.7 0 1 0 5.4 0a2.7 2.7 0 1 0 -5.4 0M573.6 535.0a2.7 2.7 0 1 0 5.4 0a2.7 2.7 0 1 0 -5.4 0M559.2 536.5a2.7 2.7 0 1 0 5.4 0a2.7 2.7 0 1 0 -5.4 0M560.7 536.6a2.7 2.7 0 1 0 5.4 0a2.7 2.7 0 1 0 -5.4 0M563.4 538.2a2.7 2.7 0 1 0 5.4 0a2.7 2.7 0 1 0 -5.4 0M564.2 536.2a2.7 2.7 0 1 0 5.4 0a2.7 2.7 0 1 0 -5.4 0M567.1 537.2a2.7 2.7 0 1 0 5.4 0a2.7 2.7 0 1 0 -5.4 0M568.2 535.8a2.7 2.7 0 1 0 5.4 0a2.7 2.7 0 1 0 -5.4 0M571.5 535.7a2.7 2.7 0 1 0 5.4 0a2.7 2.7 0 1 0 -5.4 0M558.4 540.2a2.7 2.7 0 1 0 5.4 0a2.7 2.7 0 1 0 -5.4 0M559.7 537.9a2.7 2.7 0 1 0 5.4 0a2.7 2.7 0 1 0 -5.4 0M562.2 539.1a2.7 2.7 0 1 0 5.4 0a2.7 2.7 0 1 0 -5.4 0M564.9 538.0a2.7 2.7 0 1 0 5.4 0a2.7 2.7 0 1 0 -5.4 0M567.0 538.5a2.7 2.7 0 1 0 5.4 0a2.7 2.7 0 1 0 -5.4 0M569.6 539.8a2.7 2.7 0 1 0 5.4 0a2.7 2.7 0 1 0 -5.4 0M571.2 537.8a2.7 2.7 0 1 0 5.4 0a2.7 2.7 0 1 0 -5.4 0M571.3 537.8a2.7 2.7 0 1 0 5.4 0a2.7 2.7 0 1 0 -5.4 0M574.3 538.1a2.7 2.7 0 1 0 5.4 0a2.7 2.7 0 1 0 -5.4 0M559.0 540.1a2.7 2.7 0 1 0 5.4 0a2.7 2.7 0 1 0 -5.4 0M561.0 540.0a2.7 2.7 0 1 0 5.4 0a2.7 2.7 0 1 0 -5.4 0M564.3 542.1a2.7 2.7 0 1 0 5.4 0a2.7 2.7 0 1 0 -5.4 0M566.4 539.9a2.7 2.7 0 1 0 5.4 0a2.7 2.7 0 1 0 -5.4 0M567.9 541.9a2.7 2.7 0 1 0 5.4 0a2.7 2.7 0 1 0 -5.4 0M569.3 541.7a2.7 2.7 0 1 0 5.4 0a2.7 2.7 0 1 0 -5.4 0M570.3 541.0a2.7 2.7 0 1 0 5.4 0a2.7 2.7 0 1 0 -5.4 0M574.6 541.9a2.7 2.7 0 1 0 5.4 0a2.7 2.7 0 1 0 -5.4 0M560.6 542.1a2.7 2.7 0 1 0 5.4 0a2.7 2.7 0 1 0 -5.4 0M562.3 543.6a2.7 2.7 0 1 0 5.4 0a2.7 2.7 0 1 0 -5.4 0M564.3 542.8a2.7 2.7 0 1 0 5.4 0a2.7 2.7 0 1 0 -5.4 0M566.9 542.8a2.7 2.7 0 1 0 5.4 0a2.7 2.7 0 1 0 -5.4 0M566.9 542.1a2.7 2.7 0 1 0 5.4 0a2.7 2.7 0 1 0 -5.4 0M569.1 543.7a2.7 2.7 0 1 0 5.4 0a2.7 2.7 0 1 0 -5.4 0M557.8 543.2a2.7 2.7 0 1 0 5.4 0a2.7 2.7 0 1 0 -5.4 0M572.3 544.0a2.7 2.7 0 1 0 5.4 0a2.7 2.7 0 1 0 -5.4 0M558.1 544.1a2.7 2.7 0 1 0 5.4 0a2.7 2.7 0 1 0 -5.4 0M559.7 546.0a2.7 2.7 0 1 0 5.4 0a2.7 2.7 0 1 0 -5.4 0M562.1 544.2a2.7 2.7 0 1 0 5.4 0a2.7 2.7 0 1 0 -5.4 0M564.0 544.4a2.7 2.7 0 1 0 5.4 0a2.7 2.7 0 1 0 -5.4 0M568.0 544.2a2.7 2.7 0 1 0 5.4 0a2.7 2.7 0 1 0 -5.4 0M568.0 543.8a2.7 2.7 0 1 0 5.4 0a2.7 2.7 0 1 0 -5.4 0M571.4 544.0a2.7 2.7 0 1 0 5.4 0a2.7 2.7 0 1 0 -5.4 0M559.1 547.0a2.7 2.7 0 1 0 5.4 0a2.7 2.7 0 1 0 -5.4 0M559.9 548.1a2.7 2.7 0 1 0 5.4 0a2.7 2.7 0 1 0 -5.4 0M563.6 546.3a2.7 2.7 0 1 0 5.4 0a2.7 2.7 0 1 0 -5.4 0M565.2 545.8a2.7 2.7 0 1 0 5.4 0a2.7 2.7 0 1 0 -5.4 0M567.2 546.6a2.7 2.7 0 1 0 5.4 0a2.7 2.7 0 1 0 -5.4 0M569.6 545.8a2.7 2.7 0 1 0 5.4 0a2.7 2.7 0 1 0 -5.4 0M569.6 546.8a2.7 2.7 0 1 0 5.4 0a2.7 2.7 0 1 0 -5.4 0M557.1 548.0a2.7 2.7 0 1 0 5.4 0a2.7 2.7 0 1 0 -5.4 0M560.9 549.0a2.7 2.7 0 1 0 5.4 0a2.7 2.7 0 1 0 -5.4 0M561.0 548.5a2.7 2.7 0 1 0 5.4 0a2.7 2.7 0 1 0 -5.4 0M563.1 548.9a2.7 2.7 0 1 0 5.4 0a2.7 2.7 0 1 0 -5.4 0M565.3 549.3a2.7 2.7 0 1 0 5.4 0a2.7 2.7 0 1 0 -5.4 0M567.0 549.5a2.7 2.7 0 1 0 5.4 0a2.7 2.7 0 1 0 -5.4 0M570.8 549.7a2.7 2.7 0 1 0 5.4 0a2.7 2.7 0 1 0 -5.4 0M557.5 549.6a2.7 2.7 0 1 0 5.4 0a2.7 2.7 0 1 0 -5.4 0M572.9 548.2a2.7 2.7 0 1 0 5.4 0a2.7 2.7 0 1 0 -5.4 0M558.4 549.8a2.7 2.7 0 1 0 5.4 0a2.7 2.7 0 1 0 -5.4 0M559.4 551.2a2.7 2.7 0 1 0 5.4 0a2.7 2.7 0 1 0 -5.4 0M561.4 552.3a2.7 2.7 0 1 0 5.4 0a2.7 2.7 0 1 0 -5.4 0M563.7 549.7a2.7 2.7 0 1 0 5.4 0a2.7 2.7 0 1 0 -5.4 0M565.2 550.1a2.7 2.7 0 1 0 5.4 0a2.7 2.7 0 1 0 -5.4 0M568.5 550.3a2.7 2.7 0 1 0 5.4 0a2.7 2.7 0 1 0 -5.4 0M569.9 550.9a2.7 2.7 0 1 0 5.4 0a2.7 2.7 0 1 0 -5.4 0M558.1 553.8a2.7 2.7 0 1 0 5.4 0a2.7 2.7 0 1 0 -5.4 0M560.6 552.0a2.7 2.7 0 1 0 5.4 0a2.7 2.7 0 1 0 -5.4 0M562.6 552.5a2.7 2.7 0 1 0 5.4 0a2.7 2.7 0 1 0 -5.4 0M565.0 553.2a2.7 2.7 0 1 0 5.4 0a2.7 2.7 0 1 0 -5.4 0M565.0 553.1a2.7 2.7 0 1 0 5.4 0a2.7 2.7 0 1 0 -5.4 0M567.9 553.0a2.7 2.7 0 1 0 5.4 0a2.7 2.7 0 1 0 -5.4 0M569.5 553.2a2.7 2.7 0 1 0 5.4 0a2.7 2.7 0 1 0 -5.4 0M571.9 553.8a2.7 2.7 0 1 0 5.4 0a2.7 2.7 0 1 0 -5.4 0M558.0 552.0a2.7 2.7 0 1 0 5.4 0a2.7 2.7 0 1 0 -5.4 0M557.6 555.2a2.7 2.7 0 1 0 5.4 0a2.7 2.7 0 1 0 -5.4 0M559.3 555.1a2.7 2.7 0 1 0 5.4 0a2.7 2.7 0 1 0 -5.4 0M560.5 554.1a2.7 2.7 0 1 0 5.4 0a2.7 2.7 0 1 0 -5.4 0M563.7 554.5a2.7 2.7 0 1 0 5.4 0a2.7 2.7 0 1 0 -5.4 0M565.6 555.0a2.7 2.7 0 1 0 5.4 0a2.7 2.7 0 1 0 -5.4 0M568.8 555.4a2.7 2.7 0 1 0 5.4 0a2.7 2.7 0 1 0 -5.4 0M568.3 555.4a2.7 2.7 0 1 0 5.4 0a2.7 2.7 0 1 0 -5.4 0M571.1 554.2a2.7 2.7 0 1 0 5.4 0a2.7 2.7 0 1 0 -5.4 0M573.2 556.0a2.7 2.7 0 1 0 5.4 0a2.7 2.7 0 1 0 -5.4 0M558.9 557.5a2.7 2.7 0 1 0 5.4 0a2.7 2.7 0 1 0 -5.4 0M562.8 557.5a2.7 2.7 0 1 0 5.4 0a2.7 2.7 0 1 0 -5.4 0M563.3 556.9a2.7 2.7 0 1 0 5.4 0a2.7 2.7 0 1 0 -5.4 0M564.9 556.3a2.7 2.7 0 1 0 5.4 0a2.7 2.7 0 1 0 -5.4 0M566.7 558.2a2.7 2.7 0 1 0 5.4 0a2.7 2.7 0 1 0 -5.4 0M570.4 557.0a2.7 2.7 0 1 0 5.4 0a2.7 2.7 0 1 0 -5.4 0M572.3 557.5a2.7 2.7 0 1 0 5.4 0a2.7 2.7 0 1 0 -5.4 0M575.0 557.1a2.7 2.7 0 1 0 5.4 0a2.7 2.7 0 1 0 -5.4 0M560.1 559.4a2.7 2.7 0 1 0 5.4 0a2.7 2.7 0 1 0 -5.4 0M561.2 558.0a2.7 2.7 0 1 0 5.4 0a2.7 2.7 0 1 0 -5.4 0M564.6 560.3a2.7 2.7 0 1 0 5.4 0a2.7 2.7 0 1 0 -5.4 0M566.5 559.8a2.7 2.7 0 1 0 5.4 0a2.7 2.7 0 1 0 -5.4 0M568.5 558.7a2.7 2.7 0 1 0 5.4 0a2.7 2.7 0 1 0 -5.4 0M570.1 558.9a2.7 2.7 0 1 0 5.4 0a2.7 2.7 0 1 0 -5.4 0M573.2 558.0a2.7 2.7 0 1 0 5.4 0a2.7 2.7 0 1 0 -5.4 0M575.8 559.1a2.7 2.7 0 1 0 5.4 0a2.7 2.7 0 1 0 -5.4 0M562.4 561.4a2.7 2.7 0 1 0 5.4 0a2.7 2.7 0 1 0 -5.4 0M564.4 560.5a2.7 2.7 0 1 0 5.4 0a2.7 2.7 0 1 0 -5.4 0M564.6 561.2a2.7 2.7 0 1 0 5.4 0a2.7 2.7 0 1 0 -5.4 0M567.0 560.9a2.7 2.7 0 1 0 5.4 0a2.7 2.7 0 1 0 -5.4 0M570.5 562.2a2.7 2.7 0 1 0 5.4 0a2.7 2.7 0 1 0 -5.4 0M570.8 562.1a2.7 2.7 0 1 0 5.4 0a2.7 2.7 0 1 0 -5.4 0M573.1 561.0a2.7 2.7 0 1 0 5.4 0a2.7 2.7 0 1 0 -5.4 0M560.6 563.8a2.7 2.7 0 1 0 5.4 0a2.7 2.7 0 1 0 -5.4 0M564.7 563.9a2.7 2.7 0 1 0 5.4 0a2.7 2.7 0 1 0 -5.4 0M564.5 562.7a2.7 2.7 0 1 0 5.4 0a2.7 2.7 0 1 0 -5.4 0M566.4 562.6a2.7 2.7 0 1 0 5.4 0a2.7 2.7 0 1 0 -5.4 0M569.2 562.1a2.7 2.7 0 1 0 5.4 0a2.7 2.7 0 1 0 -5.4 0M571.4 563.9a2.7 2.7 0 1 0 5.4 0a2.7 2.7 0 1 0 -5.4 0M573.9 562.5a2.7 2.7 0 1 0 5.4 0a2.7 2.7 0 1 0 -5.4 0M574.5 562.0a2.7 2.7 0 1 0 5.4 0a2.7 2.7 0 1 0 -5.4 0M575.8 562.4a2.7 2.7 0 1 0 5.4 0a2.7 2.7 0 1 0 -5.4 0M562.3 564.8a2.7 2.7 0 1 0 5.4 0a2.7 2.7 0 1 0 -5.4 0M564.4 564.2a2.7 2.7 0 1 0 5.4 0a2.7 2.7 0 1 0 -5.4 0M566.8 566.2a2.7 2.7 0 1 0 5.4 0a2.7 2.7 0 1 0 -5.4 0M567.6 563.9a2.7 2.7 0 1 0 5.4 0a2.7 2.7 0 1 0 -5.4 0M569.8 564.6a2.7 2.7 0 1 0 5.4 0a2.7 2.7 0 1 0 -5.4 0M573.3 563.8a2.7 2.7 0 1 0 5.4 0a2.7 2.7 0 1 0 -5.4 0M573.2 565.1a2.7 2.7 0 1 0 5.4 0a2.7 2.7 0 1 0 -5.4 0M575.8 564.8a2.7 2.7 0 1 0 5.4 0a2.7 2.7 0 1 0 -5.4 0M563.9 566.0a2.7 2.7 0 1 0 5.4 0a2.7 2.7 0 1 0 -5.4 0M564.8 568.2a2.7 2.7 0 1 0 5.4 0a2.7 2.7 0 1 0 -5.4 0M568.9 567.7a2.7 2.7 0 1 0 5.4 0a2.7 2.7 0 1 0 -5.4 0M569.9 567.5a2.7 2.7 0 1 0 5.4 0a2.7 2.7 0 1 0 -5.4 0M571.2 566.2a2.7 2.7 0 1 0 5.4 0a2.7 2.7 0 1 0 -5.4 0M573.3 566.4a2.7 2.7 0 1 0 5.4 0a2.7 2.7 0 1 0 -5.4 0M563.7 569.9a2.7 2.7 0 1 0 5.4 0a2.7 2.7 0 1 0 -5.4 0M564.3 569.2a2.7 2.7 0 1 0 5.4 0a2.7 2.7 0 1 0 -5.4 0M566.0 569.4a2.7 2.7 0 1 0 5.4 0a2.7 2.7 0 1 0 -5.4 0M569.5 568.2a2.7 2.7 0 1 0 5.4 0a2.7 2.7 0 1 0 -5.4 0M572.2 569.4a2.7 2.7 0 1 0 5.4 0a2.7 2.7 0 1 0 -5.4 0M574.7 568.4a2.7 2.7 0 1 0 5.4 0a2.7 2.7 0 1 0 -5.4 0M561.7 569.5a2.7 2.7 0 1 0 5.4 0a2.7 2.7 0 1 0 -5.4 0M577.4 568.4a2.7 2.7 0 1 0 5.4 0a2.7 2.7 0 1 0 -5.4 0M562.4 570.7a2.7 2.7 0 1 0 5.4 0a2.7 2.7 0 1 0 -5.4 0M566.3 572.6a2.7 2.7 0 1 0 5.4 0a2.7 2.7 0 1 0 -5.4 0M567.4 571.3a2.7 2.7 0 1 0 5.4 0a2.7 2.7 0 1 0 -5.4 0M569.5 571.7a2.7 2.7 0 1 0 5.4 0a2.7 2.7 0 1 0 -5.4 0M572.9 572.4a2.7 2.7 0 1 0 5.4 0a2.7 2.7 0 1 0 -5.4 0M574.0 571.0a2.7 2.7 0 1 0 5.4 0a2.7 2.7 0 1 0 -5.4 0M577.0 571.7a2.7 2.7 0 1 0 5.4 0a2.7 2.7 0 1 0 -5.4 0M576.9 571.8a2.7 2.7 0 1 0 5.4 0a2.7 2.7 0 1 0 -5.4 0M562.5 574.7a2.7 2.7 0 1 0 5.4 0a2.7 2.7 0 1 0 -5.4 0M566.0 572.8a2.7 2.7 0 1 0 5.4 0a2.7 2.7 0 1 0 -5.4 0M568.5 572.1a2.7 2.7 0 1 0 5.4 0a2.7 2.7 0 1 0 -5.4 0M570.4 573.5a2.7 2.7 0 1 0 5.4 0a2.7 2.7 0 1 0 -5.4 0M573.3 572.7a2.7 2.7 0 1 0 5.4 0a2.7 2.7 0 1 0 -5.4 0M573.6 572.9a2.7 2.7 0 1 0 5.4 0a2.7 2.7 0 1 0 -5.4 0M561.4 575.9a2.7 2.7 0 1 0 5.4 0a2.7 2.7 0 1 0 -5.4 0M566.1 575.0a2.7 2.7 0 1 0 5.4 0a2.7 2.7 0 1 0 -5.4 0M567.2 577.0a2.7 2.7 0 1 0 5.4 0a2.7 2.7 0 1 0 -5.4 0M570.7 576.1a2.7 2.7 0 1 0 5.4 0a2.7 2.7 0 1 0 -5.4 0M572.1 577.0a2.7 2.7 0 1 0 5.4 0a2.7 2.7 0 1 0 -5.4 0M574.1 575.9a2.7 2.7 0 1 0 5.4 0a2.7 2.7 0 1 0 -5.4 0M578.6 575.8a2.7 2.7 0 1 0 5.4 0a2.7 2.7 0 1 0 -5.4 0M564.1 577.1a2.7 2.7 0 1 0 5.4 0a2.7 2.7 0 1 0 -5.4 0M567.6 578.5a2.7 2.7 0 1 0 5.4 0a2.7 2.7 0 1 0 -5.4 0M569.1 577.0a2.7 2.7 0 1 0 5.4 0a2.7 2.7 0 1 0 -5.4 0M570.0 577.9a2.7 2.7 0 1 0 5.4 0a2.7 2.7 0 1 0 -5.4 0M575.0 579.0a2.7 2.7 0 1 0 5.4 0a2.7 2.7 0 1 0 -5.4 0M576.9 577.6a2.7 2.7 0 1 0 5.4 0a2.7 2.7 0 1 0 -5.4 0M564.0 579.1a2.7 2.7 0 1 0 5.4 0a2.7 2.7 0 1 0 -5.4 0M566.8 579.2a2.7 2.7 0 1 0 5.4 0a2.7 2.7 0 1 0 -5.4 0M570.7 581.7a2.7 2.7 0 1 0 5.4 0a2.7 2.7 0 1 0 -5.4 0M570.8 579.0a2.7 2.7 0 1 0 5.4 0a2.7 2.7 0 1 0 -5.4 0M573.0 581.5a2.7 2.7 0 1 0 5.4 0a2.7 2.7 0 1 0 -5.4 0M575.9 581.2a2.7 2.7 0 1 0 5.4 0a2.7 2.7 0 1 0 -5.4 0M577.9 579.4a2.7 2.7 0 1 0 5.4 0a2.7 2.7 0 1 0 -5.4 0M563.3 581.6a2.7 2.7 0 1 0 5.4 0a2.7 2.7 0 1 0 -5.4 0M566.5 583.6a2.7 2.7 0 1 0 5.4 0a2.7 2.7 0 1 0 -5.4 0M568.7 582.7a2.7 2.7 0 1 0 5.4 0a2.7 2.7 0 1 0 -5.4 0M572.3 581.1a2.7 2.7 0 1 0 5.4 0a2.7 2.7 0 1 0 -5.4 0M573.9 581.0a2.7 2.7 0 1 0 5.4 0a2.7 2.7 0 1 0 -5.4 0M575.3 581.3a2.7 2.7 0 1 0 5.4 0a2.7 2.7 0 1 0 -5.4 0M565.2 581.6a2.7 2.7 0 1 0 5.4 0a2.7 2.7 0 1 0 -5.4 0M565.6 585.0a2.7 2.7 0 1 0 5.4 0a2.7 2.7 0 1 0 -5.4 0M567.9 585.5a2.7 2.7 0 1 0 5.4 0a2.7 2.7 0 1 0 -5.4 0M569.4 586.0a2.7 2.7 0 1 0 5.4 0a2.7 2.7 0 1 0 -5.4 0M569.9 584.0a2.7 2.7 0 1 0 5.4 0a2.7 2.7 0 1 0 -5.4 0M574.9 586.8a2.7 2.7 0 1 0 5.4 0a2.7 2.7 0 1 0 -5.4 0M575.7 584.6a2.7 2.7 0 1 0 5.4 0a2.7 2.7 0 1 0 -5.4 0M565.5 588.2a2.7 2.7 0 1 0 5.4 0a2.7 2.7 0 1 0 -5.4 0M569.9 588.2a2.7 2.7 0 1 0 5.4 0a2.7 2.7 0 1 0 -5.4 0M572.8 588.7a2.7 2.7 0 1 0 5.4 0a2.7 2.7 0 1 0 -5.4 0M572.4 586.8a2.7 2.7 0 1 0 5.4 0a2.7 2.7 0 1 0 -5.4 0M564.7 588.0a2.7 2.7 0 1 0 5.4 0a2.7 2.7 0 1 0 -5.4 0M578.7 586.6a2.7 2.7 0 1 0 5.4 0a2.7 2.7 0 1 0 -5.4 0M567.2 590.9a2.7 2.7 0 1 0 5.4 0a2.7 2.7 0 1 0 -5.4 0M571.8 591.3a2.7 2.7 0 1 0 5.4 0a2.7 2.7 0 1 0 -5.4 0M572.3 590.0a2.7 2.7 0 1 0 5.4 0a2.7 2.7 0 1 0 -5.4 0M576.7 590.3a2.7 2.7 0 1 0 5.4 0a2.7 2.7 0 1 0 -5.4 0M578.1 591.9a2.7 2.7 0 1 0 5.4 0a2.7 2.7 0 1 0 -5.4 0M567.2 589.9a2.7 2.7 0 1 0 5.4 0a2.7 2.7 0 1 0 -5.4 0M571.0 592.8a2.7 2.7 0 1 0 5.4 0a2.7 2.7 0 1 0 -5.4 0M572.8 593.6a2.7 2.7 0 1 0 5.4 0a2.7 2.7 0 1 0 -5.4 0M576.3 594.5a2.7 2.7 0 1 0 5.4 0a2.7 2.7 0 1 0 -5.4 0M576.1 590.9a2.7 2.7 0 1 0 5.4 0a2.7 2.7 0 1 0 -5.4 0M568.2 594.8a2.7 2.7 0 1 0 5.4 0a2.7 2.7 0 1 0 -5.4 0M571.0 596.5a2.7 2.7 0 1 0 5.4 0a2.7 2.7 0 1 0 -5.4 0M573.9 595.4a2.7 2.7 0 1 0 5.4 0a2.7 2.7 0 1 0 -5.4 0M576.3 595.2a2.7 2.7 0 1 0 5.4 0a2.7 2.7 0 1 0 -5.4 0M569.2 595.1a2.7 2.7 0 1 0 5.4 0a2.7 2.7 0 1 0 -5.4 0M581.3 596.5a2.7 2.7 0 1 0 5.4 0a2.7 2.7 0 1 0 -5.4 0M574.0 596.5a2.7 2.7 0 1 0 5.4 0a2.7 2.7 0 1 0 -5.4 0M575.1 599.6a2.7 2.7 0 1 0 5.4 0a2.7 2.7 0 1 0 -5.4 0M572.5 602.0a2.7 2.7 0 1 0 5.4 0a2.7 2.7 0 1 0 -5.4 0M580.8 600.8a2.7 2.7 0 1 0 5.4 0a2.7 2.7 0 1 0 -5.4 0M576.5 605.5a2.7 2.7 0 1 0 5.4 0a2.7 2.7 0 1 0 -5.4 0M577.7 603.7a2.7 2.7 0 1 0 5.4 0a2.7 2.7 0 1 0 -5.4 0M525.4 446.2a2.7 2.7 0 1 0 5.4 0a2.7 2.7 0 1 0 -5.4 0M524.8 449.4a2.7 2.7 0 1 0 5.4 0a2.7 2.7 0 1 0 -5.4 0M529.2 452.5a2.7 2.7 0 1 0 5.4 0a2.7 2.7 0 1 0 -5.4 0M532.3 444.4a2.7 2.7 0 1 0 5.4 0a2.7 2.7 0 1 0 -5.4 0M535.4 444.4a2.7 2.7 0 1 0 5.4 0a2.7 2.7 0 1 0 -5.4 0M541.0 448.1a2.7 2.7 0 1 0 5.4 0a2.7 2.7 0 1 0 -5.4 0M542.3 451.2a2.7 2.7 0 1 0 5.4 0a2.7 2.7 0 1 0 -5.4 0M545.4 452.5a2.7 2.7 0 1 0 5.4 0a2.7 2.7 0 1 0 -5.4 0M542.3 457.5a2.7 2.7 0 1 0 5.4 0a2.7 2.7 0 1 0 -5.4 0M544.8 461.2a2.7 2.7 0 1 0 5.4 0a2.7 2.7 0 1 0 -5.4 0M547.3 455.0a2.7 2.7 0 1 0 5.4 0a2.7 2.7 0 1 0 -5.4 0M551.0 456.2a2.7 2.7 0 1 0 5.4 0a2.7 2.7 0 1 0 -5.4 0M554.8 451.2a2.7 2.7 0 1 0 5.4 0a2.7 2.7 0 1 0 -5.4 0M552.3 460.0a2.7 2.7 0 1 0 5.4 0a2.7 2.7 0 1 0 -5.4 0M548.5 465.0a2.7 2.7 0 1 0 5.4 0a2.7 2.7 0 1 0 -5.4 0M547.9 468.8a2.7 2.7 0 1 0 5.4 0a2.7 2.7 0 1 0 -5.4 0M557.3 457.5a2.7 2.7 0 1 0 5.4 0a2.7 2.7 0 1 0 -5.4 0M559.8 462.5a2.7 2.7 0 1 0 5.4 0a2.7 2.7 0 1 0 -5.4 0M562.3 456.2a2.7 2.7 0 1 0 5.4 0a2.7 2.7 0 1 0 -5.4 0M563.5 461.2a2.7 2.7 0 1 0 5.4 0a2.7 2.7 0 1 0 -5.4 0M553.5 453.8a2.7 2.7 0 1 0 5.4 0a2.7 2.7 0 1 0 -5.4 0M556.7 460.6a2.7 2.7 0 1 0 5.4 0a2.7 2.7 0 1 0 -5.4 0M549.8 458.1a2.7 2.7 0 1 0 5.4 0a2.7 2.7 0 1 0 -5.4 0M552.3 464.4a2.7 2.7 0 1 0 5.4 0a2.7 2.7 0 1 0 -5.4 0M555.4 465.0a2.7 2.7 0 1 0 5.4 0a2.7 2.7 0 1 0 -5.4 0M558.5 466.2a2.7 2.7 0 1 0 5.4 0a2.7 2.7 0 1 0 -5.4 0M551.0 467.5a2.7 2.7 0 1 0 5.4 0a2.7 2.7 0 1 0 -5.4 0M560.4 458.8a2.7 2.7 0 1 0 5.4 0a2.7 2.7 0 1 0 -5.4 0M561.7 464.4a2.7 2.7 0 1 0 5.4 0a2.7 2.7 0 1 0 -5.4 0M546.7 458.1a2.7 2.7 0 1 0 5.4 0a2.7 2.7 0 1 0 -5.4 0M543.5 454.4a2.7 2.7 0 1 0 5.4 0a2.7 2.7 0 1 0 -5.4 0" fill="#000"/>
<path d="M536.2 420.0 C536.5 425.0 537.4 439.2 538.0 450.0 C538.6 460.8 539.3 473.3 540.0 485.0 C540.7 496.7 541.4 508.3 542.0 520.0 C542.6 531.7 543.2 543.3 543.8 555.0 C544.3 566.7 545.0 579.8 545.5 590.0 C546.0 600.2 546.5 609.2 547.0 616.2 C547.5 623.3 548.1 623.5 548.8 632.5 C549.4 641.5 550.2 659.3 550.8 670.0 C551.3 680.7 552.0 692.1 552.2 696.5 C556.8 699.0 570.4 706.3 580.0 711.2 C589.6 716.2 600.0 721.0 610.0 726.2 C620.0 731.5 627.0 736.2 640.0 742.5 C653.0 748.8 679.8 760.2 687.8 763.8" fill="none" stroke="#f00000" stroke-width="3" stroke-linejoin="round" stroke-linecap="butt" stroke-dasharray="11.2 9.6"/>
<path d="M534.0 420.0 C536.0 422.1 542.2 428.5 546.3 432.7 C550.4 436.9 556.6 443.1 558.7 445.2 C559.5 446.8 561.7 451.7 563.2 455.0 C564.7 458.3 566.9 463.3 567.6 465.0 C567.9 466.5 568.8 471.0 569.3 474.0 C569.8 477.0 570.1 478.7 570.4 483.0 C570.7 487.3 570.7 493.0 571.2 500.0 C571.8 507.0 572.9 516.7 573.8 525.0 C574.6 533.3 575.2 541.7 576.2 550.0 C577.3 558.3 579.0 567.9 580.0 575.0 C581.0 582.1 581.5 585.0 582.5 592.5 C583.5 600.0 585.3 611.2 586.2 620.0 C587.2 628.8 587.8 637.9 588.0 645.0 C588.2 652.1 588.0 656.7 587.5 662.5 C587.0 668.3 585.9 674.2 585.0 680.0 C584.1 685.8 582.9 692.3 582.0 697.5 C581.1 702.7 579.9 709.0 579.5 711.2" fill="none" stroke="#0000f0" stroke-width="3" stroke-linejoin="round" stroke-linecap="butt"/>
</g>
</g>
</svg></body></html>
